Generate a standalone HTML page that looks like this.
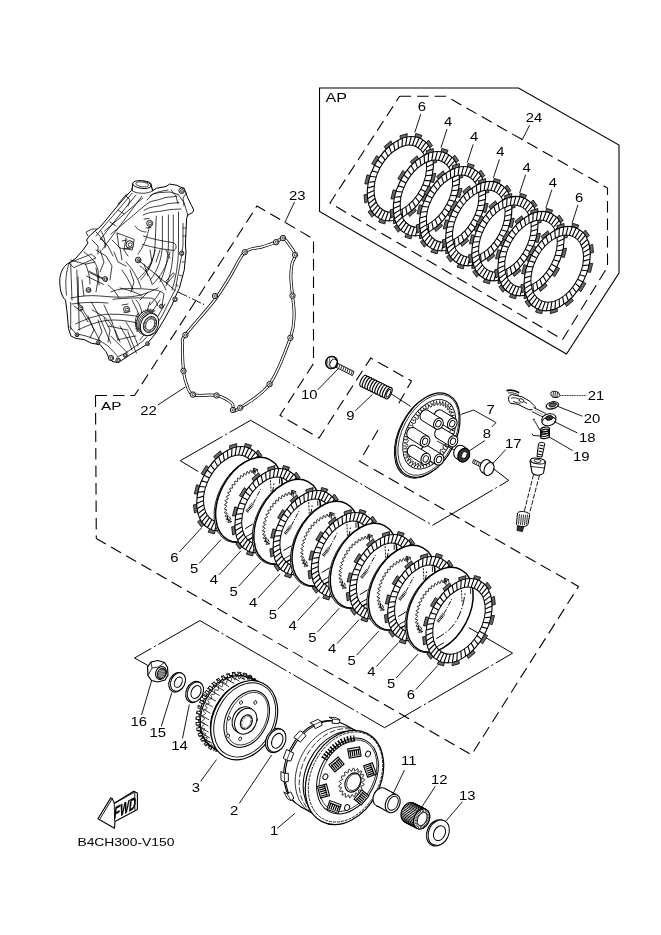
<!DOCTYPE html>
<html><head><meta charset="utf-8"><style>
html,body{margin:0;padding:0;background:#fff;}
svg{display:block;filter:grayscale(100%);}
text{font-family:"Liberation Sans",sans-serif;fill:#000;}
</style></head><body>
<svg width="661" height="935" viewBox="0 0 661 935">
<rect width="661" height="935" fill="#fff"/>
<path d="M319.5,88 L518.5,88 L619,145 L619,273 L566.5,354 L319.5,211.5 Z" fill="none" stroke="#000" stroke-width="1.1" />
<path d="M399.6,96.3 L446,96.3 L607.5,188 L607.5,267 L562.6,339.5 L330,203 L399.6,96.3" fill="none" stroke="#000" stroke-width="1.1" stroke-dasharray="11.5 6"/>
<text transform="translate(325.4 101.5) scale(1.3 1)" font-size="12.4" font-weight="normal" text-anchor="start">AP</text>
<path d="M425.58,191.86 L428.95,193.61 L423.93,201.86 L420.99,199.44 Z M414.16,207.68 L416.40,210.80 L409.60,216.58 L408.03,213.04 Z M400.00,217.77 L400.65,221.63 L393.42,223.79 L393.53,219.83 Z M385.89,220.11 L384.84,223.96 L378.61,222.07 L380.38,218.48 Z M374.64,214.25 L372.09,217.32 L368.09,211.76 L371.17,209.25 Z M368.47,201.36 L364.93,203.04 L363.96,194.90 L367.73,193.97 Z M368.61,183.97 L364.77,183.93 L367.02,174.84 L370.74,175.66 Z M375.02,165.54 L371.65,163.79 L376.67,155.54 L379.61,157.96 Z M386.44,149.72 L384.20,146.60 L391.00,140.82 L392.57,144.36 Z M400.60,139.63 L399.95,135.77 L407.18,133.61 L407.07,137.57 Z M414.71,137.29 L415.76,133.44 L421.99,135.33 L420.22,138.92 Z M425.96,143.15 L428.51,140.08 L432.51,145.64 L429.43,148.15 Z M432.13,156.04 L435.67,154.36 L436.64,162.50 L432.87,163.43 Z M431.99,173.43 L435.83,173.47 L433.58,182.56 L429.86,181.74 Z" fill="#6a6a6a" stroke="#000" stroke-width="0.8" stroke-linejoin="round"/>
<path d="M426.02,192.09 L424.11,195.52 L422.02,198.82 L419.77,201.97 L417.37,204.94 L414.83,207.71 L412.19,210.25 L409.45,212.56 L406.65,214.62 L403.80,216.39 L400.92,217.88 L398.03,219.08 L395.17,219.96 L392.34,220.53 L389.57,220.79 L386.89,220.72 L384.30,220.33 L381.84,219.63 L379.52,218.62 L377.36,217.30 L375.37,215.68 L373.57,213.79 L371.98,211.63 L370.60,209.22 L369.44,206.57 L368.52,203.72 L367.85,200.67 L367.42,197.46 L367.24,194.10 L367.31,190.63 L367.63,187.06 L368.21,183.43 L369.02,179.77 L370.08,176.10 L371.36,172.44 L372.86,168.84 L374.58,165.31 L376.49,161.88 L378.58,158.58 L380.83,155.43 L383.23,152.46 L385.77,149.69 L388.41,147.15 L391.15,144.84 L393.95,142.78 L396.80,141.01 L399.68,139.52 L402.57,138.32 L405.43,137.44 L408.26,136.87 L411.03,136.61 L413.71,136.68 L416.30,137.07 L418.76,137.77 L421.08,138.78 L423.24,140.10 L425.23,141.72 L427.03,143.61 L428.62,145.77 L430.00,148.18 L431.16,150.83 L432.08,153.68 L432.75,156.73 L433.18,159.94 L433.36,163.30 L433.29,166.77 L432.97,170.34 L432.39,173.97 L431.58,177.63 L430.52,181.30 L429.24,184.96 L427.74,188.56 Z M420.70,189.32 L419.18,192.05 L417.52,194.67 L415.73,197.18 L413.82,199.54 L411.80,201.75 L409.70,203.77 L407.53,205.61 L405.30,207.25 L403.04,208.66 L400.75,209.85 L398.46,210.80 L396.18,211.51 L393.94,211.97 L391.74,212.17 L389.61,212.12 L387.56,211.82 L385.61,211.26 L383.77,210.45 L382.05,209.41 L380.48,208.13 L379.05,206.62 L377.79,204.91 L376.70,202.99 L375.78,200.89 L375.06,198.62 L374.52,196.20 L374.19,193.64 L374.05,190.98 L374.11,188.21 L374.37,185.38 L374.82,182.50 L375.48,179.58 L376.32,176.66 L377.34,173.76 L378.54,170.89 L379.90,168.08 L381.42,165.35 L383.08,162.73 L384.87,160.22 L386.78,157.86 L388.80,155.65 L390.90,153.63 L393.07,151.79 L395.30,150.15 L397.56,148.74 L399.85,147.55 L402.14,146.60 L404.42,145.89 L406.66,145.43 L408.86,145.23 L410.99,145.28 L413.04,145.58 L414.99,146.14 L416.83,146.95 L418.55,147.99 L420.12,149.27 L421.55,150.78 L422.81,152.49 L423.90,154.41 L424.82,156.51 L425.54,158.78 L426.08,161.20 L426.41,163.76 L426.55,166.42 L426.49,169.19 L426.23,172.02 L425.78,174.90 L425.12,177.82 L424.28,180.74 L423.26,183.64 L422.06,186.51 Z" fill="#fff" fill-rule="evenodd" stroke="none"/>
<path d="M420.70,189.32 L426.02,192.09 M418.26,193.55 L422.95,197.40 M415.48,197.49 L419.46,202.36 M412.43,201.09 L415.62,206.88 M409.14,204.27 L411.48,210.88 M405.69,206.98 L407.14,214.28 M402.14,209.16 L402.67,217.01 M398.56,210.77 L398.16,219.03 M395.01,211.78 L393.69,220.30 M391.56,212.18 L389.34,220.80 M388.27,211.95 L385.19,220.51 M385.20,211.11 L381.33,219.44 M382.42,209.66 L377.81,217.61 M379.96,207.63 L374.72,215.06 M377.89,205.06 L372.11,211.83 M376.24,202.01 L370.02,207.98 M375.03,198.52 L368.49,203.59 M374.29,194.66 L367.56,198.73 M374.04,190.50 L367.23,193.50 M374.28,186.13 L367.53,188.00 M375.00,181.61 L368.43,182.32 M376.20,177.04 L369.92,176.57 M377.84,172.50 L371.99,170.87 M379.90,168.08 L374.58,165.31 M382.34,163.85 L377.65,160.00 M385.12,159.91 L381.14,155.04 M388.17,156.31 L384.98,150.52 M391.46,153.13 L389.12,146.52 M394.91,150.42 L393.46,143.12 M398.46,148.24 L397.93,140.39 M402.04,146.63 L402.44,138.37 M405.59,145.62 L406.91,137.10 M409.04,145.22 L411.26,136.60 M412.33,145.45 L415.41,136.89 M415.40,146.29 L419.27,137.96 M418.18,147.74 L422.79,139.79 M420.64,149.77 L425.88,142.34 M422.71,152.34 L428.49,145.57 M424.36,155.39 L430.58,149.42 M425.57,158.88 L432.11,153.81 M426.31,162.74 L433.04,158.67 M426.56,166.90 L433.37,163.90 M426.32,171.27 L433.07,169.40 M425.60,175.79 L432.17,175.08 M424.40,180.36 L430.68,180.83 M422.76,184.90 L428.61,186.53" stroke="#000" stroke-width="1.1" fill="none"/>
<ellipse cx="400.3" cy="178.7" rx="29.0" ry="45.0" transform="rotate(27.5 400.3 178.7)" fill="none" stroke="#000" stroke-width="1.1"/>
<ellipse cx="400.3" cy="178.7" rx="23.0" ry="35.8" transform="rotate(27.5 400.3 178.7)" fill="none" stroke="#000" stroke-width="1.0"/>
<path d="M451.73,206.84 L455.10,208.59 L450.08,216.84 L447.14,214.42 Z M440.31,222.66 L442.55,225.78 L435.75,231.56 L434.18,228.02 Z M426.15,232.75 L426.80,236.61 L419.57,238.77 L419.68,234.81 Z M412.04,235.09 L410.99,238.94 L404.76,237.05 L406.53,233.46 Z M400.79,229.23 L398.24,232.30 L394.24,226.74 L397.32,224.23 Z M394.62,216.34 L391.08,218.02 L390.11,209.88 L393.88,208.95 Z M394.76,198.95 L390.92,198.91 L393.17,189.82 L396.89,190.64 Z M401.17,180.52 L397.80,178.77 L402.82,170.52 L405.76,172.94 Z M412.59,164.70 L410.35,161.58 L417.15,155.80 L418.72,159.34 Z M426.75,154.61 L426.10,150.75 L433.33,148.59 L433.22,152.55 Z M440.86,152.27 L441.91,148.42 L448.14,150.31 L446.37,153.90 Z M452.11,158.13 L454.66,155.06 L458.66,160.62 L455.58,163.13 Z M458.28,171.02 L461.82,169.34 L462.79,177.48 L459.02,178.41 Z M458.14,188.41 L461.98,188.45 L459.73,197.54 L456.01,196.72 Z" fill="#6a6a6a" stroke="#000" stroke-width="0.8" stroke-linejoin="round"/>
<path d="M452.17,207.07 L450.26,210.50 L448.17,213.80 L445.92,216.95 L443.52,219.92 L440.98,222.69 L438.34,225.23 L435.60,227.54 L432.80,229.60 L429.95,231.37 L427.07,232.86 L424.18,234.06 L421.32,234.94 L418.49,235.51 L415.72,235.77 L413.04,235.70 L410.45,235.31 L407.99,234.61 L405.67,233.60 L403.51,232.28 L401.52,230.66 L399.72,228.77 L398.13,226.61 L396.75,224.20 L395.59,221.55 L394.67,218.70 L394.00,215.65 L393.57,212.44 L393.39,209.08 L393.46,205.61 L393.78,202.04 L394.36,198.41 L395.17,194.75 L396.23,191.08 L397.51,187.42 L399.01,183.82 L400.73,180.29 L402.64,176.86 L404.73,173.56 L406.98,170.41 L409.38,167.44 L411.92,164.67 L414.56,162.13 L417.30,159.82 L420.10,157.76 L422.95,155.99 L425.83,154.50 L428.72,153.30 L431.58,152.42 L434.41,151.85 L437.18,151.59 L439.86,151.66 L442.45,152.05 L444.91,152.75 L447.23,153.76 L449.39,155.08 L451.38,156.70 L453.18,158.59 L454.77,160.75 L456.15,163.16 L457.31,165.81 L458.23,168.66 L458.90,171.71 L459.33,174.92 L459.51,178.28 L459.44,181.75 L459.12,185.32 L458.54,188.95 L457.73,192.61 L456.67,196.28 L455.39,199.94 L453.89,203.54 Z M446.85,204.30 L445.33,207.03 L443.67,209.65 L441.88,212.16 L439.97,214.52 L437.95,216.73 L435.85,218.75 L433.68,220.59 L431.45,222.23 L429.19,223.64 L426.90,224.83 L424.61,225.78 L422.33,226.49 L420.09,226.95 L417.89,227.15 L415.76,227.10 L413.71,226.80 L411.76,226.24 L409.92,225.43 L408.20,224.39 L406.63,223.11 L405.20,221.60 L403.94,219.89 L402.85,217.97 L401.93,215.87 L401.21,213.60 L400.67,211.18 L400.34,208.62 L400.20,205.96 L400.26,203.19 L400.52,200.36 L400.97,197.48 L401.63,194.56 L402.47,191.64 L403.49,188.74 L404.69,185.87 L406.05,183.06 L407.57,180.33 L409.23,177.71 L411.02,175.20 L412.93,172.84 L414.95,170.63 L417.05,168.61 L419.22,166.77 L421.45,165.13 L423.71,163.72 L426.00,162.53 L428.29,161.58 L430.57,160.87 L432.81,160.41 L435.01,160.21 L437.14,160.26 L439.19,160.56 L441.14,161.12 L442.98,161.93 L444.70,162.97 L446.27,164.25 L447.70,165.76 L448.96,167.47 L450.05,169.39 L450.97,171.49 L451.69,173.76 L452.23,176.18 L452.56,178.74 L452.70,181.40 L452.64,184.17 L452.38,187.00 L451.93,189.88 L451.27,192.80 L450.43,195.72 L449.41,198.62 L448.21,201.49 Z" fill="#fff" fill-rule="evenodd" stroke="none"/>
<path d="M446.85,204.30 L452.17,207.07 M444.41,208.53 L449.10,212.38 M441.63,212.47 L445.61,217.34 M438.58,216.07 L441.77,221.86 M435.29,219.25 L437.63,225.86 M431.84,221.96 L433.29,229.26 M428.29,224.14 L428.82,231.99 M424.71,225.75 L424.31,234.01 M421.16,226.76 L419.84,235.28 M417.71,227.16 L415.49,235.78 M414.42,226.93 L411.34,235.49 M411.35,226.09 L407.48,234.42 M408.57,224.64 L403.96,232.59 M406.11,222.61 L400.87,230.04 M404.04,220.04 L398.26,226.81 M402.39,216.99 L396.17,222.96 M401.18,213.50 L394.64,218.57 M400.44,209.64 L393.71,213.71 M400.19,205.48 L393.38,208.48 M400.43,201.11 L393.68,202.98 M401.15,196.59 L394.58,197.30 M402.35,192.02 L396.07,191.55 M403.99,187.48 L398.14,185.85 M406.05,183.06 L400.73,180.29 M408.49,178.83 L403.80,174.98 M411.27,174.89 L407.29,170.02 M414.32,171.29 L411.13,165.50 M417.61,168.11 L415.27,161.50 M421.06,165.40 L419.61,158.10 M424.61,163.22 L424.08,155.37 M428.19,161.61 L428.59,153.35 M431.74,160.60 L433.06,152.08 M435.19,160.20 L437.41,151.58 M438.48,160.43 L441.56,151.87 M441.55,161.27 L445.42,152.94 M444.33,162.72 L448.94,154.77 M446.79,164.75 L452.03,157.32 M448.86,167.32 L454.64,160.55 M450.51,170.37 L456.73,164.40 M451.72,173.86 L458.26,168.79 M452.46,177.72 L459.19,173.65 M452.71,181.88 L459.52,178.88 M452.47,186.25 L459.22,184.38 M451.75,190.77 L458.32,190.06 M450.55,195.34 L456.83,195.81 M448.91,199.88 L454.76,201.51" stroke="#000" stroke-width="1.1" fill="none"/>
<ellipse cx="426.4" cy="193.7" rx="29.0" ry="45.0" transform="rotate(27.5 426.4 193.7)" fill="none" stroke="#000" stroke-width="1.1"/>
<ellipse cx="426.4" cy="193.7" rx="23.0" ry="35.8" transform="rotate(27.5 426.4 193.7)" fill="none" stroke="#000" stroke-width="1.0"/>
<path d="M477.88,221.82 L481.25,223.57 L476.23,231.82 L473.29,229.40 Z M466.46,237.64 L468.70,240.76 L461.90,246.54 L460.33,243.00 Z M452.30,247.73 L452.95,251.59 L445.72,253.75 L445.83,249.79 Z M438.19,250.07 L437.14,253.92 L430.91,252.03 L432.68,248.44 Z M426.94,244.21 L424.39,247.28 L420.39,241.72 L423.47,239.21 Z M420.77,231.32 L417.23,233.00 L416.26,224.86 L420.03,223.93 Z M420.91,213.93 L417.07,213.89 L419.32,204.80 L423.04,205.62 Z M427.32,195.50 L423.95,193.75 L428.97,185.50 L431.91,187.92 Z M438.74,179.68 L436.50,176.56 L443.30,170.78 L444.87,174.32 Z M452.90,169.59 L452.25,165.73 L459.48,163.57 L459.37,167.53 Z M467.01,167.25 L468.06,163.40 L474.29,165.29 L472.52,168.88 Z M478.26,173.11 L480.81,170.04 L484.81,175.60 L481.73,178.11 Z M484.43,186.00 L487.97,184.32 L488.94,192.46 L485.17,193.39 Z M484.29,203.39 L488.13,203.43 L485.88,212.52 L482.16,211.70 Z" fill="#6a6a6a" stroke="#000" stroke-width="0.8" stroke-linejoin="round"/>
<path d="M478.32,222.05 L476.41,225.48 L474.32,228.78 L472.07,231.93 L469.67,234.90 L467.13,237.67 L464.49,240.21 L461.75,242.52 L458.95,244.58 L456.10,246.35 L453.22,247.84 L450.33,249.04 L447.47,249.92 L444.64,250.49 L441.87,250.75 L439.19,250.68 L436.60,250.29 L434.14,249.59 L431.82,248.58 L429.66,247.26 L427.67,245.64 L425.87,243.75 L424.28,241.59 L422.90,239.18 L421.74,236.53 L420.82,233.68 L420.15,230.63 L419.72,227.42 L419.54,224.06 L419.61,220.59 L419.93,217.02 L420.51,213.39 L421.32,209.73 L422.38,206.06 L423.66,202.40 L425.16,198.80 L426.88,195.27 L428.79,191.84 L430.88,188.54 L433.13,185.39 L435.53,182.42 L438.07,179.65 L440.71,177.11 L443.45,174.80 L446.25,172.74 L449.10,170.97 L451.98,169.48 L454.87,168.28 L457.73,167.40 L460.56,166.83 L463.33,166.57 L466.01,166.64 L468.60,167.03 L471.06,167.73 L473.38,168.74 L475.54,170.06 L477.53,171.68 L479.33,173.57 L480.92,175.73 L482.30,178.14 L483.46,180.79 L484.38,183.64 L485.05,186.69 L485.48,189.90 L485.66,193.26 L485.59,196.73 L485.27,200.30 L484.69,203.93 L483.88,207.59 L482.82,211.26 L481.54,214.92 L480.04,218.52 Z M473.00,219.28 L471.48,222.01 L469.82,224.63 L468.03,227.14 L466.12,229.50 L464.10,231.71 L462.00,233.73 L459.83,235.57 L457.60,237.21 L455.34,238.62 L453.05,239.81 L450.76,240.76 L448.48,241.47 L446.24,241.93 L444.04,242.13 L441.91,242.08 L439.86,241.78 L437.91,241.22 L436.07,240.41 L434.35,239.37 L432.78,238.09 L431.35,236.58 L430.09,234.87 L429.00,232.95 L428.08,230.85 L427.36,228.58 L426.82,226.16 L426.49,223.60 L426.35,220.94 L426.41,218.17 L426.67,215.34 L427.12,212.46 L427.78,209.54 L428.62,206.62 L429.64,203.72 L430.84,200.85 L432.20,198.04 L433.72,195.31 L435.38,192.69 L437.17,190.18 L439.08,187.82 L441.10,185.61 L443.20,183.59 L445.37,181.75 L447.60,180.11 L449.86,178.70 L452.15,177.51 L454.44,176.56 L456.72,175.85 L458.96,175.39 L461.16,175.19 L463.29,175.24 L465.34,175.54 L467.29,176.10 L469.13,176.91 L470.85,177.95 L472.42,179.23 L473.85,180.74 L475.11,182.45 L476.20,184.37 L477.12,186.47 L477.84,188.74 L478.38,191.16 L478.71,193.72 L478.85,196.38 L478.79,199.15 L478.53,201.98 L478.08,204.86 L477.42,207.78 L476.58,210.70 L475.56,213.60 L474.36,216.47 Z" fill="#fff" fill-rule="evenodd" stroke="none"/>
<path d="M473.00,219.28 L478.32,222.05 M470.56,223.51 L475.25,227.36 M467.78,227.45 L471.76,232.32 M464.73,231.05 L467.92,236.84 M461.44,234.23 L463.78,240.84 M457.99,236.94 L459.44,244.24 M454.44,239.12 L454.97,246.97 M450.86,240.73 L450.46,248.99 M447.31,241.74 L445.99,250.26 M443.86,242.14 L441.64,250.76 M440.57,241.91 L437.49,250.47 M437.50,241.07 L433.63,249.40 M434.72,239.62 L430.11,247.57 M432.26,237.59 L427.02,245.02 M430.19,235.02 L424.41,241.79 M428.54,231.97 L422.32,237.94 M427.33,228.48 L420.79,233.55 M426.59,224.62 L419.86,228.69 M426.34,220.46 L419.53,223.46 M426.58,216.09 L419.83,217.96 M427.30,211.57 L420.73,212.28 M428.50,207.00 L422.22,206.53 M430.14,202.46 L424.29,200.83 M432.20,198.04 L426.88,195.27 M434.64,193.81 L429.95,189.96 M437.42,189.87 L433.44,185.00 M440.47,186.27 L437.28,180.48 M443.76,183.09 L441.42,176.48 M447.21,180.38 L445.76,173.08 M450.76,178.20 L450.23,170.35 M454.34,176.59 L454.74,168.33 M457.89,175.58 L459.21,167.06 M461.34,175.18 L463.56,166.56 M464.63,175.41 L467.71,166.85 M467.70,176.25 L471.57,167.92 M470.48,177.70 L475.09,169.75 M472.94,179.73 L478.18,172.30 M475.01,182.30 L480.79,175.53 M476.66,185.35 L482.88,179.38 M477.87,188.84 L484.41,183.77 M478.61,192.70 L485.34,188.63 M478.86,196.86 L485.67,193.86 M478.62,201.23 L485.37,199.36 M477.90,205.75 L484.47,205.04 M476.70,210.32 L482.98,210.79 M475.06,214.86 L480.91,216.49" stroke="#000" stroke-width="1.1" fill="none"/>
<ellipse cx="452.6" cy="208.7" rx="29.0" ry="45.0" transform="rotate(27.5 452.6 208.7)" fill="none" stroke="#000" stroke-width="1.1"/>
<ellipse cx="452.6" cy="208.7" rx="23.0" ry="35.8" transform="rotate(27.5 452.6 208.7)" fill="none" stroke="#000" stroke-width="1.0"/>
<path d="M504.03,236.80 L507.40,238.55 L502.38,246.80 L499.44,244.38 Z M492.61,252.62 L494.85,255.74 L488.05,261.52 L486.48,257.98 Z M478.45,262.71 L479.10,266.57 L471.87,268.73 L471.98,264.77 Z M464.34,265.05 L463.29,268.90 L457.06,267.01 L458.83,263.42 Z M453.09,259.19 L450.54,262.26 L446.54,256.70 L449.62,254.19 Z M446.92,246.30 L443.38,247.98 L442.41,239.84 L446.18,238.91 Z M447.06,228.91 L443.22,228.87 L445.47,219.78 L449.19,220.60 Z M453.47,210.48 L450.10,208.73 L455.12,200.48 L458.06,202.90 Z M464.89,194.66 L462.65,191.54 L469.45,185.76 L471.02,189.30 Z M479.05,184.57 L478.40,180.71 L485.63,178.55 L485.52,182.51 Z M493.16,182.23 L494.21,178.38 L500.44,180.27 L498.67,183.86 Z M504.41,188.09 L506.96,185.02 L510.96,190.58 L507.88,193.09 Z M510.58,200.98 L514.12,199.30 L515.09,207.44 L511.32,208.37 Z M510.44,218.37 L514.28,218.41 L512.03,227.50 L508.31,226.68 Z" fill="#6a6a6a" stroke="#000" stroke-width="0.8" stroke-linejoin="round"/>
<path d="M504.47,237.03 L502.56,240.46 L500.47,243.76 L498.22,246.91 L495.82,249.88 L493.28,252.65 L490.64,255.19 L487.90,257.50 L485.10,259.56 L482.25,261.33 L479.37,262.82 L476.48,264.02 L473.62,264.90 L470.79,265.47 L468.02,265.73 L465.34,265.66 L462.75,265.27 L460.29,264.57 L457.97,263.56 L455.81,262.24 L453.82,260.62 L452.02,258.73 L450.43,256.57 L449.05,254.16 L447.89,251.51 L446.97,248.66 L446.30,245.61 L445.87,242.40 L445.69,239.04 L445.76,235.57 L446.08,232.00 L446.66,228.37 L447.47,224.71 L448.53,221.04 L449.81,217.38 L451.31,213.78 L453.03,210.25 L454.94,206.82 L457.03,203.52 L459.28,200.37 L461.68,197.40 L464.22,194.63 L466.86,192.09 L469.60,189.78 L472.40,187.72 L475.25,185.95 L478.13,184.46 L481.02,183.26 L483.88,182.38 L486.71,181.81 L489.48,181.55 L492.16,181.62 L494.75,182.01 L497.21,182.71 L499.53,183.72 L501.69,185.04 L503.68,186.66 L505.48,188.55 L507.07,190.71 L508.45,193.12 L509.61,195.77 L510.53,198.62 L511.20,201.67 L511.63,204.88 L511.81,208.24 L511.74,211.71 L511.42,215.28 L510.84,218.91 L510.03,222.57 L508.97,226.24 L507.69,229.90 L506.19,233.50 Z M499.15,234.26 L497.63,236.99 L495.97,239.61 L494.18,242.12 L492.27,244.48 L490.25,246.69 L488.15,248.71 L485.98,250.55 L483.75,252.19 L481.49,253.60 L479.20,254.79 L476.91,255.74 L474.63,256.45 L472.39,256.91 L470.19,257.11 L468.06,257.06 L466.01,256.76 L464.06,256.20 L462.22,255.39 L460.50,254.35 L458.93,253.07 L457.50,251.56 L456.24,249.85 L455.15,247.93 L454.23,245.83 L453.51,243.56 L452.97,241.14 L452.64,238.58 L452.50,235.92 L452.56,233.15 L452.82,230.32 L453.27,227.44 L453.93,224.52 L454.77,221.60 L455.79,218.70 L456.99,215.83 L458.35,213.02 L459.87,210.29 L461.53,207.67 L463.32,205.16 L465.23,202.80 L467.25,200.59 L469.35,198.57 L471.52,196.73 L473.75,195.09 L476.01,193.68 L478.30,192.49 L480.59,191.54 L482.87,190.83 L485.11,190.37 L487.31,190.17 L489.44,190.22 L491.49,190.52 L493.44,191.08 L495.28,191.89 L497.00,192.93 L498.57,194.21 L500.00,195.72 L501.26,197.43 L502.35,199.35 L503.27,201.45 L503.99,203.72 L504.53,206.14 L504.86,208.70 L505.00,211.36 L504.94,214.13 L504.68,216.96 L504.23,219.84 L503.57,222.76 L502.73,225.68 L501.71,228.58 L500.51,231.45 Z" fill="#fff" fill-rule="evenodd" stroke="none"/>
<path d="M499.15,234.26 L504.47,237.03 M496.71,238.49 L501.40,242.34 M493.93,242.43 L497.91,247.30 M490.88,246.03 L494.07,251.82 M487.59,249.21 L489.93,255.82 M484.14,251.92 L485.59,259.22 M480.59,254.10 L481.12,261.95 M477.01,255.71 L476.61,263.97 M473.46,256.72 L472.14,265.24 M470.01,257.12 L467.79,265.74 M466.72,256.89 L463.64,265.45 M463.65,256.05 L459.78,264.38 M460.87,254.60 L456.26,262.55 M458.41,252.57 L453.17,260.00 M456.34,250.00 L450.56,256.77 M454.69,246.95 L448.47,252.92 M453.48,243.46 L446.94,248.53 M452.74,239.60 L446.01,243.67 M452.49,235.44 L445.68,238.44 M452.73,231.07 L445.98,232.94 M453.45,226.55 L446.88,227.26 M454.65,221.98 L448.37,221.51 M456.29,217.44 L450.44,215.81 M458.35,213.02 L453.03,210.25 M460.79,208.79 L456.10,204.94 M463.57,204.85 L459.59,199.98 M466.62,201.25 L463.43,195.46 M469.91,198.07 L467.57,191.46 M473.36,195.36 L471.91,188.06 M476.91,193.18 L476.38,185.33 M480.49,191.57 L480.89,183.31 M484.04,190.56 L485.36,182.04 M487.49,190.16 L489.71,181.54 M490.78,190.39 L493.86,181.83 M493.85,191.23 L497.72,182.90 M496.63,192.68 L501.24,184.73 M499.09,194.71 L504.33,187.28 M501.16,197.28 L506.94,190.51 M502.81,200.33 L509.03,194.36 M504.02,203.82 L510.56,198.75 M504.76,207.68 L511.49,203.61 M505.01,211.84 L511.82,208.84 M504.77,216.21 L511.52,214.34 M504.05,220.73 L510.62,220.02 M502.85,225.30 L509.13,225.77 M501.21,229.84 L507.06,231.47" stroke="#000" stroke-width="1.1" fill="none"/>
<ellipse cx="478.8" cy="223.6" rx="29.0" ry="45.0" transform="rotate(27.5 478.8 223.6)" fill="none" stroke="#000" stroke-width="1.1"/>
<ellipse cx="478.8" cy="223.6" rx="23.0" ry="35.8" transform="rotate(27.5 478.8 223.6)" fill="none" stroke="#000" stroke-width="1.0"/>
<path d="M530.18,251.78 L533.55,253.53 L528.53,261.78 L525.59,259.36 Z M518.76,267.60 L521.00,270.72 L514.20,276.50 L512.63,272.96 Z M504.60,277.69 L505.25,281.55 L498.02,283.71 L498.13,279.75 Z M490.49,280.03 L489.44,283.88 L483.21,281.99 L484.98,278.40 Z M479.24,274.17 L476.69,277.24 L472.69,271.68 L475.77,269.17 Z M473.07,261.28 L469.53,262.96 L468.56,254.82 L472.33,253.89 Z M473.21,243.89 L469.37,243.85 L471.62,234.76 L475.34,235.58 Z M479.62,225.46 L476.25,223.71 L481.27,215.46 L484.21,217.88 Z M491.04,209.64 L488.80,206.52 L495.60,200.74 L497.17,204.28 Z M505.20,199.55 L504.55,195.69 L511.78,193.53 L511.67,197.49 Z M519.31,197.21 L520.36,193.36 L526.59,195.25 L524.82,198.84 Z M530.56,203.07 L533.11,200.00 L537.11,205.56 L534.03,208.07 Z M536.73,215.96 L540.27,214.28 L541.24,222.42 L537.47,223.35 Z M536.59,233.35 L540.43,233.39 L538.18,242.48 L534.46,241.66 Z" fill="#6a6a6a" stroke="#000" stroke-width="0.8" stroke-linejoin="round"/>
<path d="M530.62,252.01 L528.71,255.44 L526.62,258.74 L524.37,261.89 L521.97,264.86 L519.43,267.63 L516.79,270.17 L514.05,272.48 L511.25,274.54 L508.40,276.31 L505.52,277.80 L502.63,279.00 L499.77,279.88 L496.94,280.45 L494.17,280.71 L491.49,280.64 L488.90,280.25 L486.44,279.55 L484.12,278.54 L481.96,277.22 L479.97,275.60 L478.17,273.71 L476.58,271.55 L475.20,269.14 L474.04,266.49 L473.12,263.64 L472.45,260.59 L472.02,257.38 L471.84,254.02 L471.91,250.55 L472.23,246.98 L472.81,243.35 L473.62,239.69 L474.68,236.02 L475.96,232.36 L477.46,228.76 L479.18,225.23 L481.09,221.80 L483.18,218.50 L485.43,215.35 L487.83,212.38 L490.37,209.61 L493.01,207.07 L495.75,204.76 L498.55,202.70 L501.40,200.93 L504.28,199.44 L507.17,198.24 L510.03,197.36 L512.86,196.79 L515.63,196.53 L518.31,196.60 L520.90,196.99 L523.36,197.69 L525.68,198.70 L527.84,200.02 L529.83,201.64 L531.63,203.53 L533.22,205.69 L534.60,208.10 L535.76,210.75 L536.68,213.60 L537.35,216.65 L537.78,219.86 L537.96,223.22 L537.89,226.69 L537.57,230.26 L536.99,233.89 L536.18,237.55 L535.12,241.22 L533.84,244.88 L532.34,248.48 Z M525.30,249.24 L523.78,251.97 L522.12,254.59 L520.33,257.10 L518.42,259.46 L516.40,261.67 L514.30,263.69 L512.13,265.53 L509.90,267.17 L507.64,268.58 L505.35,269.77 L503.06,270.72 L500.78,271.43 L498.54,271.89 L496.34,272.09 L494.21,272.04 L492.16,271.74 L490.21,271.18 L488.37,270.37 L486.65,269.33 L485.08,268.05 L483.65,266.54 L482.39,264.83 L481.30,262.91 L480.38,260.81 L479.66,258.54 L479.12,256.12 L478.79,253.56 L478.65,250.90 L478.71,248.13 L478.97,245.30 L479.42,242.42 L480.08,239.50 L480.92,236.58 L481.94,233.68 L483.14,230.81 L484.50,228.00 L486.02,225.27 L487.68,222.65 L489.47,220.14 L491.38,217.78 L493.40,215.57 L495.50,213.55 L497.67,211.71 L499.90,210.07 L502.16,208.66 L504.45,207.47 L506.74,206.52 L509.02,205.81 L511.26,205.35 L513.46,205.15 L515.59,205.20 L517.64,205.50 L519.59,206.06 L521.43,206.87 L523.15,207.91 L524.72,209.19 L526.15,210.70 L527.41,212.41 L528.50,214.33 L529.42,216.43 L530.14,218.70 L530.68,221.12 L531.01,223.68 L531.15,226.34 L531.09,229.11 L530.83,231.94 L530.38,234.82 L529.72,237.74 L528.88,240.66 L527.86,243.56 L526.66,246.43 Z" fill="#fff" fill-rule="evenodd" stroke="none"/>
<path d="M525.30,249.24 L530.62,252.01 M522.86,253.47 L527.55,257.32 M520.08,257.41 L524.06,262.28 M517.03,261.01 L520.22,266.80 M513.74,264.19 L516.08,270.80 M510.29,266.90 L511.74,274.20 M506.74,269.08 L507.27,276.93 M503.16,270.69 L502.76,278.95 M499.61,271.70 L498.29,280.22 M496.16,272.10 L493.94,280.72 M492.87,271.87 L489.79,280.43 M489.80,271.03 L485.93,279.36 M487.02,269.58 L482.41,277.53 M484.56,267.55 L479.32,274.98 M482.49,264.98 L476.71,271.75 M480.84,261.93 L474.62,267.90 M479.63,258.44 L473.09,263.51 M478.89,254.58 L472.16,258.65 M478.64,250.42 L471.83,253.42 M478.88,246.05 L472.13,247.92 M479.60,241.53 L473.03,242.24 M480.80,236.96 L474.52,236.49 M482.44,232.42 L476.59,230.79 M484.50,228.00 L479.18,225.23 M486.94,223.77 L482.25,219.92 M489.72,219.83 L485.74,214.96 M492.77,216.23 L489.58,210.44 M496.06,213.05 L493.72,206.44 M499.51,210.34 L498.06,203.04 M503.06,208.16 L502.53,200.31 M506.64,206.55 L507.04,198.29 M510.19,205.54 L511.51,197.02 M513.64,205.14 L515.86,196.52 M516.93,205.37 L520.01,196.81 M520.00,206.21 L523.87,197.88 M522.78,207.66 L527.39,199.71 M525.24,209.69 L530.48,202.26 M527.31,212.26 L533.09,205.49 M528.96,215.31 L535.18,209.34 M530.17,218.80 L536.71,213.73 M530.91,222.66 L537.64,218.59 M531.16,226.82 L537.97,223.82 M530.92,231.19 L537.67,229.32 M530.20,235.71 L536.77,235.00 M529.00,240.28 L535.28,240.75 M527.36,244.82 L533.21,246.45" stroke="#000" stroke-width="1.1" fill="none"/>
<ellipse cx="504.9" cy="238.6" rx="29.0" ry="45.0" transform="rotate(27.5 504.9 238.6)" fill="none" stroke="#000" stroke-width="1.1"/>
<ellipse cx="504.9" cy="238.6" rx="23.0" ry="35.8" transform="rotate(27.5 504.9 238.6)" fill="none" stroke="#000" stroke-width="1.0"/>
<path d="M556.33,266.76 L559.70,268.51 L554.68,276.76 L551.74,274.34 Z M544.91,282.58 L547.15,285.70 L540.35,291.48 L538.78,287.94 Z M530.75,292.67 L531.40,296.53 L524.17,298.69 L524.28,294.73 Z M516.64,295.01 L515.59,298.86 L509.36,296.97 L511.13,293.38 Z M505.39,289.15 L502.84,292.22 L498.84,286.66 L501.92,284.15 Z M499.22,276.26 L495.68,277.94 L494.71,269.80 L498.48,268.87 Z M499.36,258.87 L495.52,258.83 L497.77,249.74 L501.49,250.56 Z M505.77,240.44 L502.40,238.69 L507.42,230.44 L510.36,232.86 Z M517.19,224.62 L514.95,221.50 L521.75,215.72 L523.32,219.26 Z M531.35,214.53 L530.70,210.67 L537.93,208.51 L537.82,212.47 Z M545.46,212.19 L546.51,208.34 L552.74,210.23 L550.97,213.82 Z M556.71,218.05 L559.26,214.98 L563.26,220.54 L560.18,223.05 Z M562.88,230.94 L566.42,229.26 L567.39,237.40 L563.62,238.33 Z M562.74,248.33 L566.58,248.37 L564.33,257.46 L560.61,256.64 Z" fill="#6a6a6a" stroke="#000" stroke-width="0.8" stroke-linejoin="round"/>
<path d="M556.77,266.99 L554.86,270.42 L552.77,273.72 L550.52,276.87 L548.12,279.84 L545.58,282.61 L542.94,285.15 L540.20,287.46 L537.40,289.52 L534.55,291.29 L531.67,292.78 L528.78,293.98 L525.92,294.86 L523.09,295.43 L520.32,295.69 L517.64,295.62 L515.05,295.23 L512.59,294.53 L510.27,293.52 L508.11,292.20 L506.12,290.58 L504.32,288.69 L502.73,286.53 L501.35,284.12 L500.19,281.47 L499.27,278.62 L498.60,275.57 L498.17,272.36 L497.99,269.00 L498.06,265.53 L498.38,261.96 L498.96,258.33 L499.77,254.67 L500.83,251.00 L502.11,247.34 L503.61,243.74 L505.33,240.21 L507.24,236.78 L509.33,233.48 L511.58,230.33 L513.98,227.36 L516.52,224.59 L519.16,222.05 L521.90,219.74 L524.70,217.68 L527.55,215.91 L530.43,214.42 L533.32,213.22 L536.18,212.34 L539.01,211.77 L541.78,211.51 L544.46,211.58 L547.05,211.97 L549.51,212.67 L551.83,213.68 L553.99,215.00 L555.98,216.62 L557.78,218.51 L559.37,220.67 L560.75,223.08 L561.91,225.73 L562.83,228.58 L563.50,231.63 L563.93,234.84 L564.11,238.20 L564.04,241.67 L563.72,245.24 L563.14,248.87 L562.33,252.53 L561.27,256.20 L559.99,259.86 L558.49,263.46 Z M551.45,264.22 L549.93,266.95 L548.27,269.57 L546.48,272.08 L544.57,274.44 L542.55,276.65 L540.45,278.67 L538.28,280.51 L536.05,282.15 L533.79,283.56 L531.50,284.75 L529.21,285.70 L526.93,286.41 L524.69,286.87 L522.49,287.07 L520.36,287.02 L518.31,286.72 L516.36,286.16 L514.52,285.35 L512.80,284.31 L511.23,283.03 L509.80,281.52 L508.54,279.81 L507.45,277.89 L506.53,275.79 L505.81,273.52 L505.27,271.10 L504.94,268.54 L504.80,265.88 L504.86,263.11 L505.12,260.28 L505.57,257.40 L506.23,254.48 L507.07,251.56 L508.09,248.66 L509.29,245.79 L510.65,242.98 L512.17,240.25 L513.83,237.63 L515.62,235.12 L517.53,232.76 L519.55,230.55 L521.65,228.53 L523.82,226.69 L526.05,225.05 L528.31,223.64 L530.60,222.45 L532.89,221.50 L535.17,220.79 L537.41,220.33 L539.61,220.13 L541.74,220.18 L543.79,220.48 L545.74,221.04 L547.58,221.85 L549.30,222.89 L550.87,224.17 L552.30,225.68 L553.56,227.39 L554.65,229.31 L555.57,231.41 L556.29,233.68 L556.83,236.10 L557.16,238.66 L557.30,241.32 L557.24,244.09 L556.98,246.92 L556.53,249.80 L555.87,252.72 L555.03,255.64 L554.01,258.54 L552.81,261.41 Z" fill="#fff" fill-rule="evenodd" stroke="none"/>
<path d="M551.45,264.22 L556.77,266.99 M549.01,268.45 L553.70,272.30 M546.23,272.39 L550.21,277.26 M543.18,275.99 L546.37,281.78 M539.89,279.17 L542.23,285.78 M536.44,281.88 L537.89,289.18 M532.89,284.06 L533.42,291.91 M529.31,285.67 L528.91,293.93 M525.76,286.68 L524.44,295.20 M522.31,287.08 L520.09,295.70 M519.02,286.85 L515.94,295.41 M515.95,286.01 L512.08,294.34 M513.17,284.56 L508.56,292.51 M510.71,282.53 L505.47,289.96 M508.64,279.96 L502.86,286.73 M506.99,276.91 L500.77,282.88 M505.78,273.42 L499.24,278.49 M505.04,269.56 L498.31,273.63 M504.79,265.40 L497.98,268.40 M505.03,261.03 L498.28,262.90 M505.75,256.51 L499.18,257.22 M506.95,251.94 L500.67,251.47 M508.59,247.40 L502.74,245.77 M510.65,242.98 L505.33,240.21 M513.09,238.75 L508.40,234.90 M515.87,234.81 L511.89,229.94 M518.92,231.21 L515.73,225.42 M522.21,228.03 L519.87,221.42 M525.66,225.32 L524.21,218.02 M529.21,223.14 L528.68,215.29 M532.79,221.53 L533.19,213.27 M536.34,220.52 L537.66,212.00 M539.79,220.12 L542.01,211.50 M543.08,220.35 L546.16,211.79 M546.15,221.19 L550.02,212.86 M548.93,222.64 L553.54,214.69 M551.39,224.67 L556.63,217.24 M553.46,227.24 L559.24,220.47 M555.11,230.29 L561.33,224.32 M556.32,233.78 L562.86,228.71 M557.06,237.64 L563.79,233.57 M557.31,241.80 L564.12,238.80 M557.07,246.17 L563.82,244.30 M556.35,250.69 L562.92,249.98 M555.15,255.26 L561.43,255.73 M553.51,259.80 L559.36,261.43" stroke="#000" stroke-width="1.1" fill="none"/>
<ellipse cx="531.0" cy="253.6" rx="29.0" ry="45.0" transform="rotate(27.5 531.0 253.6)" fill="none" stroke="#000" stroke-width="1.1"/>
<ellipse cx="531.0" cy="253.6" rx="23.0" ry="35.8" transform="rotate(27.5 531.0 253.6)" fill="none" stroke="#000" stroke-width="1.0"/>
<path d="M582.48,281.74 L585.85,283.49 L580.83,291.74 L577.89,289.32 Z M571.06,297.56 L573.30,300.68 L566.50,306.46 L564.93,302.92 Z M556.90,307.65 L557.55,311.51 L550.32,313.67 L550.43,309.71 Z M542.79,309.99 L541.74,313.84 L535.51,311.95 L537.28,308.36 Z M531.54,304.13 L528.99,307.20 L524.99,301.64 L528.07,299.13 Z M525.37,291.24 L521.83,292.92 L520.86,284.78 L524.63,283.85 Z M525.51,273.85 L521.67,273.81 L523.92,264.72 L527.64,265.54 Z M531.92,255.42 L528.55,253.67 L533.57,245.42 L536.51,247.84 Z M543.34,239.60 L541.10,236.48 L547.90,230.70 L549.47,234.24 Z M557.50,229.51 L556.85,225.65 L564.08,223.49 L563.97,227.45 Z M571.61,227.17 L572.66,223.32 L578.89,225.21 L577.12,228.80 Z M582.86,233.03 L585.41,229.96 L589.41,235.52 L586.33,238.03 Z M589.03,245.92 L592.57,244.24 L593.54,252.38 L589.77,253.31 Z M588.89,263.31 L592.73,263.35 L590.48,272.44 L586.76,271.62 Z" fill="#6a6a6a" stroke="#000" stroke-width="0.8" stroke-linejoin="round"/>
<path d="M582.92,281.97 L581.01,285.40 L578.92,288.70 L576.67,291.85 L574.27,294.82 L571.73,297.59 L569.09,300.13 L566.35,302.44 L563.55,304.50 L560.70,306.27 L557.82,307.76 L554.93,308.96 L552.07,309.84 L549.24,310.41 L546.47,310.67 L543.79,310.60 L541.20,310.21 L538.74,309.51 L536.42,308.50 L534.26,307.18 L532.27,305.56 L530.47,303.67 L528.88,301.51 L527.50,299.10 L526.34,296.45 L525.42,293.60 L524.75,290.55 L524.32,287.34 L524.14,283.98 L524.21,280.51 L524.53,276.94 L525.11,273.31 L525.92,269.65 L526.98,265.98 L528.26,262.32 L529.76,258.72 L531.48,255.19 L533.39,251.76 L535.48,248.46 L537.73,245.31 L540.13,242.34 L542.67,239.57 L545.31,237.03 L548.05,234.72 L550.85,232.66 L553.70,230.89 L556.58,229.40 L559.47,228.20 L562.33,227.32 L565.16,226.75 L567.93,226.49 L570.61,226.56 L573.20,226.95 L575.66,227.65 L577.98,228.66 L580.14,229.98 L582.13,231.60 L583.93,233.49 L585.52,235.65 L586.90,238.06 L588.06,240.71 L588.98,243.56 L589.65,246.61 L590.08,249.82 L590.26,253.18 L590.19,256.65 L589.87,260.22 L589.29,263.85 L588.48,267.51 L587.42,271.18 L586.14,274.84 L584.64,278.44 Z M577.60,279.20 L576.08,281.93 L574.42,284.55 L572.63,287.06 L570.72,289.42 L568.70,291.63 L566.60,293.65 L564.43,295.49 L562.20,297.13 L559.94,298.54 L557.65,299.73 L555.36,300.68 L553.08,301.39 L550.84,301.85 L548.64,302.05 L546.51,302.00 L544.46,301.70 L542.51,301.14 L540.67,300.33 L538.95,299.29 L537.38,298.01 L535.95,296.50 L534.69,294.79 L533.60,292.87 L532.68,290.77 L531.96,288.50 L531.42,286.08 L531.09,283.52 L530.95,280.86 L531.01,278.09 L531.27,275.26 L531.72,272.38 L532.38,269.46 L533.22,266.54 L534.24,263.64 L535.44,260.77 L536.80,257.96 L538.32,255.23 L539.98,252.61 L541.77,250.10 L543.68,247.74 L545.70,245.53 L547.80,243.51 L549.97,241.67 L552.20,240.03 L554.46,238.62 L556.75,237.43 L559.04,236.48 L561.32,235.77 L563.56,235.31 L565.76,235.11 L567.89,235.16 L569.94,235.46 L571.89,236.02 L573.73,236.83 L575.45,237.87 L577.02,239.15 L578.45,240.66 L579.71,242.37 L580.80,244.29 L581.72,246.39 L582.44,248.66 L582.98,251.08 L583.31,253.64 L583.45,256.30 L583.39,259.07 L583.13,261.90 L582.68,264.78 L582.02,267.70 L581.18,270.62 L580.16,273.52 L578.96,276.39 Z" fill="#fff" fill-rule="evenodd" stroke="none"/>
<path d="M577.60,279.20 L582.92,281.97 M575.16,283.43 L579.85,287.28 M572.38,287.37 L576.36,292.24 M569.33,290.97 L572.52,296.76 M566.04,294.15 L568.38,300.76 M562.59,296.86 L564.04,304.16 M559.04,299.04 L559.57,306.89 M555.46,300.65 L555.06,308.91 M551.91,301.66 L550.59,310.18 M548.46,302.06 L546.24,310.68 M545.17,301.83 L542.09,310.39 M542.10,300.99 L538.23,309.32 M539.32,299.54 L534.71,307.49 M536.86,297.51 L531.62,304.94 M534.79,294.94 L529.01,301.71 M533.14,291.89 L526.92,297.86 M531.93,288.40 L525.39,293.47 M531.19,284.54 L524.46,288.61 M530.94,280.38 L524.13,283.38 M531.18,276.01 L524.43,277.88 M531.90,271.49 L525.33,272.20 M533.10,266.92 L526.82,266.45 M534.74,262.38 L528.89,260.75 M536.80,257.96 L531.48,255.19 M539.24,253.73 L534.55,249.88 M542.02,249.79 L538.04,244.92 M545.07,246.19 L541.88,240.40 M548.36,243.01 L546.02,236.40 M551.81,240.30 L550.36,233.00 M555.36,238.12 L554.83,230.27 M558.94,236.51 L559.34,228.25 M562.49,235.50 L563.81,226.98 M565.94,235.10 L568.16,226.48 M569.23,235.33 L572.31,226.77 M572.30,236.17 L576.17,227.84 M575.08,237.62 L579.69,229.67 M577.54,239.65 L582.78,232.22 M579.61,242.22 L585.39,235.45 M581.26,245.27 L587.48,239.30 M582.47,248.76 L589.01,243.69 M583.21,252.62 L589.94,248.55 M583.46,256.78 L590.27,253.78 M583.22,261.15 L589.97,259.28 M582.50,265.67 L589.07,264.96 M581.30,270.24 L587.58,270.71 M579.66,274.78 L585.51,276.41" stroke="#000" stroke-width="1.1" fill="none"/>
<ellipse cx="557.2" cy="268.6" rx="29.0" ry="45.0" transform="rotate(27.5 557.2 268.6)" fill="none" stroke="#000" stroke-width="1.1"/>
<ellipse cx="557.2" cy="268.6" rx="23.0" ry="35.8" transform="rotate(27.5 557.2 268.6)" fill="none" stroke="#000" stroke-width="1.0"/>
<text transform="translate(417.7 111.0) scale(1.24 1)" font-size="12" font-weight="normal" text-anchor="start">6</text>
<line x1="420.8" y1="114.0" x2="414.8" y2="132.5" stroke="#000" stroke-width="0.9" />
<text transform="translate(443.9 126.2) scale(1.24 1)" font-size="12" font-weight="normal" text-anchor="start">4</text>
<line x1="447.0" y1="129.15" x2="441.0" y2="147.65" stroke="#000" stroke-width="0.9" />
<text transform="translate(470.1 141.3) scale(1.24 1)" font-size="12" font-weight="normal" text-anchor="start">4</text>
<line x1="473.2" y1="144.3" x2="467.2" y2="162.8" stroke="#000" stroke-width="0.9" />
<text transform="translate(496.3 156.4) scale(1.24 1)" font-size="12" font-weight="normal" text-anchor="start">4</text>
<line x1="499.4" y1="159.45" x2="493.4" y2="177.95" stroke="#000" stroke-width="0.9" />
<text transform="translate(522.5 171.6) scale(1.24 1)" font-size="12" font-weight="normal" text-anchor="start">4</text>
<line x1="525.6" y1="174.6" x2="519.6" y2="193.1" stroke="#000" stroke-width="0.9" />
<text transform="translate(548.7 186.8) scale(1.24 1)" font-size="12" font-weight="normal" text-anchor="start">4</text>
<line x1="551.8" y1="189.75" x2="545.8" y2="208.25" stroke="#000" stroke-width="0.9" />
<text transform="translate(574.9 201.9) scale(1.24 1)" font-size="12" font-weight="normal" text-anchor="start">6</text>
<line x1="578.0" y1="204.9" x2="572.0" y2="223.4" stroke="#000" stroke-width="0.9" />
<text transform="translate(525.7 121.8) scale(1.24 1)" font-size="12" font-weight="normal" text-anchor="start">24</text>
<line x1="529.6" y1="125.2" x2="522" y2="140.2" stroke="#000" stroke-width="0.9" />
<path d="M95.5,395.5 L134.5,395.5 L257,206 L313.5,239 L313.5,363.6 L280,415.3 L319,438 L370.7,358.1 L411.5,381 L398.7,403.5" fill="none" stroke="#000" stroke-width="1.1" stroke-dasharray="11.5 6"/>
<path d="M378,430 L359.6,461.3 L578.5,586.5 L471.5,754.8 L96.3,538.5" fill="none" stroke="#000" stroke-width="1.1" stroke-dasharray="11.5 6"/>
<path d="M95.5,395.5 L96.3,538.5" fill="none" stroke="#000" stroke-width="1.1" stroke-dasharray="11.5 6"/>
<text transform="translate(101.1 409.7) scale(1.3 1)" font-size="11.8" font-weight="normal" text-anchor="start">AP</text>
<text transform="translate(288.9 200.0) scale(1.24 1)" font-size="12" font-weight="normal" text-anchor="start">23</text>
<line x1="294.5" y1="202" x2="284.8" y2="222.6" stroke="#000" stroke-width="0.9" />
<text transform="translate(140.2 414.5) scale(1.24 1)" font-size="12" font-weight="normal" text-anchor="start">22</text>
<line x1="157.8" y1="405" x2="185.3" y2="387" stroke="#000" stroke-width="0.9" />
<path d="M283.0,238.0 C285.2,238.4 287.3,242.0 289.3,244.8 C291.3,247.6 294.7,251.7 295.1,254.9 C295.6,258.1 292.7,260.1 292.0,263.9 C291.3,267.7 290.8,272.4 290.9,277.7 C291.0,283.0 292.0,289.5 292.5,295.7 C293.0,301.9 294.5,308.1 294.1,315.1 C293.8,322.1 294.5,326.3 290.4,337.8 C286.3,349.3 278.0,372.5 269.6,384.2 C261.2,395.9 246.2,403.6 240.2,407.8 C234.2,412.1 235.0,410.5 233.6,409.7 C232.2,408.9 234.5,405.5 231.7,403.1 C228.9,400.7 223.0,396.9 216.6,395.5 C210.2,394.1 198.1,396.7 193.0,394.6 C187.9,392.6 187.9,387.1 186.3,383.2 C184.7,379.2 184.1,377.5 183.5,370.9 C182.9,364.3 182.3,349.5 182.6,343.5 C182.9,337.5 180.1,342.2 185.4,335.0 C190.8,327.8 207.3,309.7 214.7,300.0 C222.1,290.3 225.0,284.6 230.0,276.6 C235.0,268.6 239.5,257.1 244.8,252.2 C250.1,247.3 256.6,248.7 261.8,247.0 C267.0,245.3 272.6,243.7 276.1,242.2 C279.6,240.7 280.8,237.6 283.0,238.0 Z" fill="none" stroke="#000" stroke-width="3.0" stroke-linejoin="round"/>
<path d="M283.0,238.0 C285.2,238.4 287.3,242.0 289.3,244.8 C291.3,247.6 294.7,251.7 295.1,254.9 C295.6,258.1 292.7,260.1 292.0,263.9 C291.3,267.7 290.8,272.4 290.9,277.7 C291.0,283.0 292.0,289.5 292.5,295.7 C293.0,301.9 294.5,308.1 294.1,315.1 C293.8,322.1 294.5,326.3 290.4,337.8 C286.3,349.3 278.0,372.5 269.6,384.2 C261.2,395.9 246.2,403.6 240.2,407.8 C234.2,412.1 235.0,410.5 233.6,409.7 C232.2,408.9 234.5,405.5 231.7,403.1 C228.9,400.7 223.0,396.9 216.6,395.5 C210.2,394.1 198.1,396.7 193.0,394.6 C187.9,392.6 187.9,387.1 186.3,383.2 C184.7,379.2 184.1,377.5 183.5,370.9 C182.9,364.3 182.3,349.5 182.6,343.5 C182.9,337.5 180.1,342.2 185.4,335.0 C190.8,327.8 207.3,309.7 214.7,300.0 C222.1,290.3 225.0,284.6 230.0,276.6 C235.0,268.6 239.5,257.1 244.8,252.2 C250.1,247.3 256.6,248.7 261.8,247.0 C267.0,245.3 272.6,243.7 276.1,242.2 C279.6,240.7 280.8,237.6 283.0,238.0 Z" fill="none" stroke="#fff" stroke-width="1.5" stroke-linejoin="round"/>
<circle cx="283" cy="238" r="2.7" fill="#fff" stroke="#000" stroke-width="0.9"/>
<circle cx="283.3" cy="238" r="1.2" fill="none" stroke="#000" stroke-width="0.7"/>
<circle cx="295.1" cy="254.9" r="2.7" fill="#fff" stroke="#000" stroke-width="0.9"/>
<circle cx="295.40000000000003" cy="254.9" r="1.2" fill="none" stroke="#000" stroke-width="0.7"/>
<circle cx="292.5" cy="295.7" r="2.7" fill="#fff" stroke="#000" stroke-width="0.9"/>
<circle cx="292.8" cy="295.7" r="1.2" fill="none" stroke="#000" stroke-width="0.7"/>
<circle cx="290.4" cy="337.8" r="2.7" fill="#fff" stroke="#000" stroke-width="0.9"/>
<circle cx="290.7" cy="337.8" r="1.2" fill="none" stroke="#000" stroke-width="0.7"/>
<circle cx="269.6" cy="384.2" r="2.7" fill="#fff" stroke="#000" stroke-width="0.9"/>
<circle cx="269.90000000000003" cy="384.2" r="1.2" fill="none" stroke="#000" stroke-width="0.7"/>
<circle cx="240.2" cy="407.8" r="2.7" fill="#fff" stroke="#000" stroke-width="0.9"/>
<circle cx="240.5" cy="407.8" r="1.2" fill="none" stroke="#000" stroke-width="0.7"/>
<circle cx="216.6" cy="395.5" r="2.7" fill="#fff" stroke="#000" stroke-width="0.9"/>
<circle cx="216.9" cy="395.5" r="1.2" fill="none" stroke="#000" stroke-width="0.7"/>
<circle cx="193" cy="394.6" r="2.7" fill="#fff" stroke="#000" stroke-width="0.9"/>
<circle cx="193.3" cy="394.6" r="1.2" fill="none" stroke="#000" stroke-width="0.7"/>
<circle cx="183.5" cy="370.9" r="2.7" fill="#fff" stroke="#000" stroke-width="0.9"/>
<circle cx="183.8" cy="370.9" r="1.2" fill="none" stroke="#000" stroke-width="0.7"/>
<circle cx="185.4" cy="335" r="2.7" fill="#fff" stroke="#000" stroke-width="0.9"/>
<circle cx="185.70000000000002" cy="335" r="1.2" fill="none" stroke="#000" stroke-width="0.7"/>
<circle cx="215" cy="296" r="2.7" fill="#fff" stroke="#000" stroke-width="0.9"/>
<circle cx="215.3" cy="296" r="1.2" fill="none" stroke="#000" stroke-width="0.7"/>
<circle cx="244.8" cy="252.2" r="2.7" fill="#fff" stroke="#000" stroke-width="0.9"/>
<circle cx="245.10000000000002" cy="252.2" r="1.2" fill="none" stroke="#000" stroke-width="0.7"/>
<circle cx="276.1" cy="242.2" r="2.7" fill="#fff" stroke="#000" stroke-width="0.9"/>
<circle cx="276.40000000000003" cy="242.2" r="1.2" fill="none" stroke="#000" stroke-width="0.7"/>
<circle cx="233" cy="410" r="2.7" fill="#fff" stroke="#000" stroke-width="0.9"/>
<circle cx="233.3" cy="410" r="1.2" fill="none" stroke="#000" stroke-width="0.7"/>
<path d="M198.4,471.7 L180.3,460.7 L250.6,420.3 L432.6,525.3 L508.8,480.4 L492.5,468" fill="none" stroke="#000" stroke-width="1.0" stroke-dasharray="70 3 2 3"/>
<path d="M469,627.8 L512.6,653.2 L384.6,727.7 L199.9,620.6 L134.5,658 L147.8,665.4" fill="none" stroke="#000" stroke-width="1.0" stroke-dasharray="70 3 2 3"/>
<path d="M255.08,501.86 L258.45,503.61 L253.43,511.86 L250.49,509.44 Z M243.66,517.68 L245.90,520.80 L239.10,526.58 L237.53,523.04 Z M229.50,527.77 L230.15,531.63 L222.92,533.79 L223.03,529.83 Z M215.39,530.11 L214.34,533.96 L208.11,532.07 L209.88,528.48 Z M204.14,524.25 L201.59,527.32 L197.59,521.76 L200.67,519.25 Z M197.97,511.36 L194.43,513.04 L193.46,504.90 L197.23,503.97 Z M198.11,493.97 L194.27,493.93 L196.52,484.84 L200.24,485.66 Z M204.52,475.54 L201.15,473.79 L206.17,465.54 L209.11,467.96 Z M215.94,459.72 L213.70,456.60 L220.50,450.82 L222.07,454.36 Z M230.10,449.63 L229.45,445.77 L236.68,443.61 L236.57,447.57 Z M244.21,447.29 L245.26,443.44 L251.49,445.33 L249.72,448.92 Z M255.46,453.15 L258.01,450.08 L262.01,455.64 L258.93,458.15 Z M261.63,466.04 L265.17,464.36 L266.14,472.50 L262.37,473.43 Z M261.49,483.43 L265.33,483.47 L263.08,492.56 L259.36,491.74 Z" fill="#6a6a6a" stroke="#000" stroke-width="0.8" stroke-linejoin="round"/>
<path d="M255.52,502.09 L253.61,505.52 L251.52,508.82 L249.27,511.97 L246.87,514.94 L244.33,517.71 L241.69,520.25 L238.95,522.56 L236.15,524.62 L233.30,526.39 L230.42,527.88 L227.53,529.08 L224.67,529.96 L221.84,530.53 L219.07,530.79 L216.39,530.72 L213.80,530.33 L211.34,529.63 L209.02,528.62 L206.86,527.30 L204.87,525.68 L203.07,523.79 L201.48,521.63 L200.10,519.22 L198.94,516.57 L198.02,513.72 L197.35,510.67 L196.92,507.46 L196.74,504.10 L196.81,500.63 L197.13,497.06 L197.71,493.43 L198.52,489.77 L199.58,486.10 L200.86,482.44 L202.36,478.84 L204.08,475.31 L205.99,471.88 L208.08,468.58 L210.33,465.43 L212.73,462.46 L215.27,459.69 L217.91,457.15 L220.65,454.84 L223.45,452.78 L226.30,451.01 L229.18,449.52 L232.07,448.32 L234.93,447.44 L237.76,446.87 L240.53,446.61 L243.21,446.68 L245.80,447.07 L248.26,447.77 L250.58,448.78 L252.74,450.10 L254.73,451.72 L256.53,453.61 L258.12,455.77 L259.50,458.18 L260.66,460.83 L261.58,463.68 L262.25,466.73 L262.68,469.94 L262.86,473.30 L262.79,476.77 L262.47,480.34 L261.89,483.97 L261.08,487.63 L260.02,491.30 L258.74,494.96 L257.24,498.56 Z M250.20,499.32 L248.68,502.05 L247.02,504.67 L245.23,507.18 L243.32,509.54 L241.30,511.75 L239.20,513.77 L237.03,515.61 L234.80,517.25 L232.54,518.66 L230.25,519.85 L227.96,520.80 L225.68,521.51 L223.44,521.97 L221.24,522.17 L219.11,522.12 L217.06,521.82 L215.11,521.26 L213.27,520.45 L211.55,519.41 L209.98,518.13 L208.55,516.62 L207.29,514.91 L206.20,512.99 L205.28,510.89 L204.56,508.62 L204.02,506.20 L203.69,503.64 L203.55,500.98 L203.61,498.21 L203.87,495.38 L204.32,492.50 L204.98,489.58 L205.82,486.66 L206.84,483.76 L208.04,480.89 L209.40,478.08 L210.92,475.35 L212.58,472.73 L214.37,470.22 L216.28,467.86 L218.30,465.65 L220.40,463.63 L222.57,461.79 L224.80,460.15 L227.06,458.74 L229.35,457.55 L231.64,456.60 L233.92,455.89 L236.16,455.43 L238.36,455.23 L240.49,455.28 L242.54,455.58 L244.49,456.14 L246.33,456.95 L248.05,457.99 L249.62,459.27 L251.05,460.78 L252.31,462.49 L253.40,464.41 L254.32,466.51 L255.04,468.78 L255.58,471.20 L255.91,473.76 L256.05,476.42 L255.99,479.19 L255.73,482.02 L255.28,484.90 L254.62,487.82 L253.78,490.74 L252.76,493.64 L251.56,496.51 Z" fill="#fff" fill-rule="evenodd" stroke="none"/>
<path d="M250.20,499.32 L255.52,502.09 M247.76,503.55 L252.45,507.40 M244.98,507.49 L248.96,512.36 M241.93,511.09 L245.12,516.88 M238.64,514.27 L240.98,520.88 M235.19,516.98 L236.64,524.28 M231.64,519.16 L232.17,527.01 M228.06,520.77 L227.66,529.03 M224.51,521.78 L223.19,530.30 M221.06,522.18 L218.84,530.80 M217.77,521.95 L214.69,530.51 M214.70,521.11 L210.83,529.44 M211.92,519.66 L207.31,527.61 M209.46,517.63 L204.22,525.06 M207.39,515.06 L201.61,521.83 M205.74,512.01 L199.52,517.98 M204.53,508.52 L197.99,513.59 M203.79,504.66 L197.06,508.73 M203.54,500.50 L196.73,503.50 M203.78,496.13 L197.03,498.00 M204.50,491.61 L197.93,492.32 M205.70,487.04 L199.42,486.57 M207.34,482.50 L201.49,480.87 M209.40,478.08 L204.08,475.31 M211.84,473.85 L207.15,470.00 M214.62,469.91 L210.64,465.04 M217.67,466.31 L214.48,460.52 M220.96,463.13 L218.62,456.52 M224.41,460.42 L222.96,453.12 M227.96,458.24 L227.43,450.39 M231.54,456.63 L231.94,448.37 M235.09,455.62 L236.41,447.10 M238.54,455.22 L240.76,446.60 M241.83,455.45 L244.91,446.89 M244.90,456.29 L248.77,447.96 M247.68,457.74 L252.29,449.79 M250.14,459.77 L255.38,452.34 M252.21,462.34 L257.99,455.57 M253.86,465.39 L260.08,459.42 M255.07,468.88 L261.61,463.81 M255.81,472.74 L262.54,468.67 M256.06,476.90 L262.87,473.90 M255.82,481.27 L262.57,479.40 M255.10,485.79 L261.67,485.08 M253.90,490.36 L260.18,490.83 M252.26,494.90 L258.11,496.53" stroke="#000" stroke-width="1.1" fill="none"/>
<ellipse cx="229.8" cy="488.7" rx="29.0" ry="45.0" transform="rotate(27.5 229.8 488.7)" fill="none" stroke="#000" stroke-width="1.1"/>
<ellipse cx="229.8" cy="488.7" rx="23.0" ry="35.8" transform="rotate(27.5 229.8 488.7)" fill="none" stroke="#000" stroke-width="1.0"/>
<ellipse cx="247.3" cy="500.3" rx="29.2" ry="45.2" transform="rotate(27.5 247.3 500.3)" fill="#fff" stroke="#000" stroke-width="0.8"/>
<ellipse cx="248.9" cy="499.7" rx="29.2" ry="45.2" transform="rotate(27.5 248.9 499.7)" fill="#fff" stroke="#000" stroke-width="1.5"/>
<path d="M230.4,522.9 L230.6,522.4 L230.7,522.1 L230.8,521.8 L230.7,521.6 L230.6,521.5 L230.4,521.5 L230.2,521.6 L229.9,521.8 L229.5,522.0 L229.1,522.2 L228.7,522.4 L228.4,522.6 L228.1,522.6 L228.0,522.6 L227.9,522.5 L227.8,522.3 L227.9,522.0 L228.1,521.7 L228.3,521.2 L228.5,520.8 L228.7,520.3 L228.9,519.9 L229.1,519.6 L229.2,519.3 L229.2,519.1 L229.1,519.0 L228.9,519.0 L228.6,519.1 L228.3,519.2 L227.9,519.4 L227.5,519.5 L227.1,519.7 L226.8,519.7 L226.6,519.8 L226.4,519.7 L226.3,519.6 L226.3,519.3 L226.5,519.0 L226.6,518.7 L226.9,518.3 L227.2,517.8 L227.4,517.4 L227.7,517.1 L227.8,516.7 L227.9,516.5 L227.9,516.3 L227.8,516.2 L227.7,516.1 L227.4,516.2 L227.0,516.2 L226.7,516.3 L226.3,516.4 L225.9,516.5 L225.6,516.5 L225.4,516.5 L225.2,516.4 L225.2,516.2 L225.3,516.0 L225.4,515.7 L225.7,515.3 L225.9,515.0 L226.2,514.6 L226.5,514.2 L226.8,513.9 L227.0,513.6 L227.1,513.3 L227.1,513.1 L227.0,513.0 L226.8,512.9 L226.6,512.9 L226.2,512.9 L225.9,513.0 L225.5,513.0 L225.2,513.0 L224.9,513.0 L224.7,512.9 L224.6,512.8 L224.5,512.6 L224.6,512.3 L224.8,512.1 L225.1,511.7 L225.4,511.4 L225.8,511.0 L226.1,510.7 L226.4,510.4 L226.6,510.1 L226.7,509.9 L226.7,509.7 L226.6,509.6 L226.4,509.5 L226.2,509.4 L225.9,509.4 L225.5,509.4 L225.1,509.3 L224.8,509.3 L224.6,509.2 L224.4,509.1 L224.3,508.9 L224.3,508.7 L224.5,508.5 L224.7,508.2 L225.0,507.9 L225.4,507.6 L225.7,507.3 L226.1,507.0 L226.3,506.8 L226.6,506.5 L226.7,506.3 L226.7,506.1 L226.6,506.0 L226.5,505.8 L226.2,505.7 L225.9,505.6 L225.6,505.5 L225.2,505.4 L225.0,505.3 L224.7,505.2 L224.6,505.0 L224.5,504.9 L224.6,504.6 L224.8,504.4 L225.0,504.2 L225.4,503.9 L225.7,503.7 L226.1,503.4 L226.5,503.2 L226.8,503.0 L227.0,502.8 L227.1,502.6 L227.1,502.4 L227.1,502.2 L226.9,502.1 L226.7,501.9 L226.4,501.8 L226.1,501.6 L225.8,501.4 L225.5,501.3 L225.3,501.1 L225.2,500.9 L225.2,500.7 L225.3,500.5 L225.5,500.3 L225.8,500.1 L226.2,499.9 L226.5,499.7 L226.9,499.5 L227.3,499.3 L227.6,499.2 L227.8,499.0 L227.9,498.8 L228.0,498.6 L227.9,498.4 L227.8,498.3 L227.6,498.0 L227.3,497.8 L227.0,497.6 L226.8,497.4 L226.6,497.2 L226.4,497.0 L226.3,496.7 L226.4,496.5 L226.5,496.4 L226.7,496.2 L227.0,496.0 L227.4,495.9 L227.8,495.8 L228.1,495.6 L228.5,495.5 L228.8,495.4 L229.0,495.2 L229.2,495.1 L229.2,494.9 L229.2,494.7 L229.0,494.4 L228.8,494.2 L228.6,493.9 L228.4,493.7 L228.2,493.4 L228.0,493.1 L227.9,492.9 L227.9,492.6 L227.9,492.4 L228.1,492.3 L228.3,492.1 L228.7,492.0 L229.0,491.9 L229.4,491.9 L229.8,491.8 L230.1,491.7 L230.4,491.7 L230.6,491.5 L230.7,491.4 L230.8,491.2 L230.8,491.0 L230.7,490.7 L230.5,490.4 L230.3,490.1 L230.1,489.8 L230.0,489.5 L229.9,489.2 L229.8,488.9 L229.8,488.7 L229.9,488.5 L230.1,488.3 L230.3,488.2 L230.7,488.2 L231.0,488.2 L231.4,488.2 L231.7,488.2 L232.1,488.2 L232.3,488.1 L232.5,488.0 L232.7,487.9 L232.7,487.7 L232.7,487.5 L232.7,487.2 L232.5,486.8 L232.4,486.5 L232.3,486.1 L232.1,485.7 L232.1,485.4 L232.1,485.1 L232.1,484.9 L232.2,484.7 L232.4,484.6 L232.7,484.6 L233.0,484.6 L233.3,484.6 L233.7,484.7 L234.0,484.8 L234.3,484.8 L234.6,484.8 L234.8,484.7 L234.9,484.6 L235.0,484.4 L235.0,484.1 L235.0,483.8 L234.9,483.4 L234.8,483.0 L234.7,482.6 L234.6,482.3 L234.6,481.9 L234.6,481.6 L234.7,481.4 L234.9,481.2 L235.1,481.2 L235.3,481.2 L235.6,481.3 L235.9,481.4 L236.3,481.5 L236.6,481.6 L236.8,481.7 L237.1,481.8 L237.3,481.7 L237.4,481.6 L237.5,481.4 L237.5,481.1 L237.5,480.8 L237.5,480.4 L237.5,479.9 L237.4,479.5 L237.4,479.1 L237.4,478.7 L237.5,478.4 L237.6,478.2 L237.8,478.1 L238.0,478.1 L238.2,478.2 L238.5,478.3 L238.8,478.5 L239.1,478.7 L239.3,478.9 L239.6,479.0 L239.8,479.1 L240.0,479.1 L240.1,478.9 L240.2,478.7 L240.3,478.4 L240.3,478.1 L240.3,477.6 L240.4,477.2 L240.4,476.7 L240.4,476.3 L240.5,476.0 L240.6,475.7 L240.7,475.5 L240.9,475.4 L241.1,475.5 L241.3,475.6 L241.5,475.8 L241.8,476.0 L242.0,476.3 L242.3,476.5 L242.5,476.7 L242.7,476.8 L242.9,476.8 L243.0,476.7 L243.1,476.5 L243.2,476.1 L243.3,475.8 L243.4,475.3 L243.4,474.8 L243.5,474.4 L243.6,474.0 L243.7,473.6 L243.8,473.4 L244.0,473.2 L244.1,473.2 L244.3,473.3 L244.5,473.5 L244.7,473.7 L244.9,474.0 L245.1,474.3 L245.3,474.6 L245.5,474.8 L245.7,474.9 L245.9,474.9 L246.0,474.8 L246.1,474.6 L246.3,474.3 L246.4,473.9 L246.5,473.4 L246.6,473.0 L246.7,472.5 L246.9,472.1 L247.0,471.8 L247.1,471.5 L247.3,471.4 L247.5,471.5 L247.6,471.6 L247.8,471.8 L248.0,472.1 L248.1,472.5 L248.3,472.8 L248.5,473.1 L248.6,473.4 L248.8,473.5 L248.9,473.5 L249.1,473.4 L249.2,473.2 L249.4,472.9 L249.5,472.5 L249.7,472.1 L249.8,471.6 L250.0,471.1 L250.2,470.7 L250.3,470.4 L250.5,470.3 L250.7,470.2 L250.8,470.3 L251.0,470.4 L251.1,470.7 L251.2,471.1 L251.4,471.5 L251.5,471.8 L251.6,472.2 L251.7,472.4 L251.8,472.6 L252.0,472.6 L252.1,472.6 L252.3,472.4 L252.5,472.0 L252.6,471.6 L252.9,471.2 L253.1,470.7 L253.3,470.3 L253.5,469.9 L253.7,469.7 L253.9,469.5 L254.0,469.5 L254.2,469.6 L254.3,469.8 L254.4,470.2 L254.4,470.6 L254.5,471.0 L254.6,471.4 L254.6,471.8 L254.7,472.0 L254.8,472.2 L254.9,472.3 L255.1,472.2 L255.3,472.0 L255.5,471.7 L255.7,471.3 L256.0,470.9 L256.2,470.4 L256.5,470.0 L256.7,469.7 L256.9,469.5 L257.1,469.4 L257.3,469.4 L257.4,469.5 L257.4,469.8 L257.5,470.2 L257.5,470.6 L257.5,471.0 L257.5,471.5 L257.6,471.9 L257.6,472.2 L257.7,472.3" fill="none" stroke="#000" stroke-width="1.0"/>
<path d="M253.4,473.7 L253.4,468.2 L257.9,469.7 M254.9,469.2 L254.9,475.2" fill="none" stroke="#000" stroke-width="0.9"/>
<path d="M227.9,514.7 L227.4,519.7 L231.9,521.7 M229.4,516.7 L230.9,519.7" fill="none" stroke="#000" stroke-width="0.9"/>
<path d="M270.5,480.2 L271.1,492.3" stroke="#000" stroke-width="0.9" stroke-dasharray="2 1.2"/>
<path d="M279.6,478.4 L279.6,483.8" stroke="#000" stroke-width="0.9"/>
<path d="M246.8,511.7 L253.1,503.6" fill="none" stroke="#000" stroke-width="3.2" stroke-dasharray="0.8 0.7"/>
<path d="M253.1,503.6 L261.3,488.1" fill="none" stroke="#000" stroke-width="0.9" stroke-dasharray="5 1.5 1 1.5"/>
<path d="M245.0,537.2 L253.0,532.7" fill="none" stroke="#000" stroke-width="0.9"/>
<path d="M245.2,528.6 C254.0,523.7 259.0,519.7 263.0,514.2 C268.0,507.7 272.5,496.7 274.1,482.3" fill="none" stroke="#000" stroke-width="1.0" stroke-dasharray="9 2 1.5 2"/>
<path d="M293.28,523.86 L296.65,525.61 L291.63,533.86 L288.69,531.44 Z M281.86,539.68 L284.10,542.80 L277.30,548.58 L275.73,545.04 Z M267.70,549.77 L268.35,553.63 L261.12,555.79 L261.23,551.83 Z M253.59,552.11 L252.54,555.96 L246.31,554.07 L248.08,550.48 Z M242.34,546.25 L239.79,549.32 L235.79,543.76 L238.87,541.25 Z M236.17,533.36 L232.63,535.04 L231.66,526.90 L235.43,525.97 Z M236.31,515.97 L232.47,515.93 L234.72,506.84 L238.44,507.66 Z M242.72,497.54 L239.35,495.79 L244.37,487.54 L247.31,489.96 Z M254.14,481.72 L251.90,478.60 L258.70,472.82 L260.27,476.36 Z M268.30,471.63 L267.65,467.77 L274.88,465.61 L274.77,469.57 Z M282.41,469.29 L283.46,465.44 L289.69,467.33 L287.92,470.92 Z M293.66,475.15 L296.21,472.08 L300.21,477.64 L297.13,480.15 Z M299.83,488.04 L303.37,486.36 L304.34,494.50 L300.57,495.43 Z M299.69,505.43 L303.53,505.47 L301.28,514.56 L297.56,513.74 Z" fill="#6a6a6a" stroke="#000" stroke-width="0.8" stroke-linejoin="round"/>
<path d="M293.72,524.09 L291.81,527.52 L289.72,530.82 L287.47,533.97 L285.07,536.94 L282.53,539.71 L279.89,542.25 L277.15,544.56 L274.35,546.62 L271.50,548.39 L268.62,549.88 L265.73,551.08 L262.87,551.96 L260.04,552.53 L257.27,552.79 L254.59,552.72 L252.00,552.33 L249.54,551.63 L247.22,550.62 L245.06,549.30 L243.07,547.68 L241.27,545.79 L239.68,543.63 L238.30,541.22 L237.14,538.57 L236.22,535.72 L235.55,532.67 L235.12,529.46 L234.94,526.10 L235.01,522.63 L235.33,519.06 L235.91,515.43 L236.72,511.77 L237.78,508.10 L239.06,504.44 L240.56,500.84 L242.28,497.31 L244.19,493.88 L246.28,490.58 L248.53,487.43 L250.93,484.46 L253.47,481.69 L256.11,479.15 L258.85,476.84 L261.65,474.78 L264.50,473.01 L267.38,471.52 L270.27,470.32 L273.13,469.44 L275.96,468.87 L278.73,468.61 L281.41,468.68 L284.00,469.07 L286.46,469.77 L288.78,470.78 L290.94,472.10 L292.93,473.72 L294.73,475.61 L296.32,477.77 L297.70,480.18 L298.86,482.83 L299.78,485.68 L300.45,488.73 L300.88,491.94 L301.06,495.30 L300.99,498.77 L300.67,502.34 L300.09,505.97 L299.28,509.63 L298.22,513.30 L296.94,516.96 L295.44,520.56 Z M288.40,521.32 L286.88,524.05 L285.22,526.67 L283.43,529.18 L281.52,531.54 L279.50,533.75 L277.40,535.77 L275.23,537.61 L273.00,539.25 L270.74,540.66 L268.45,541.85 L266.16,542.80 L263.88,543.51 L261.64,543.97 L259.44,544.17 L257.31,544.12 L255.26,543.82 L253.31,543.26 L251.47,542.45 L249.75,541.41 L248.18,540.13 L246.75,538.62 L245.49,536.91 L244.40,534.99 L243.48,532.89 L242.76,530.62 L242.22,528.20 L241.89,525.64 L241.75,522.98 L241.81,520.21 L242.07,517.38 L242.52,514.50 L243.18,511.58 L244.02,508.66 L245.04,505.76 L246.24,502.89 L247.60,500.08 L249.12,497.35 L250.78,494.73 L252.57,492.22 L254.48,489.86 L256.50,487.65 L258.60,485.63 L260.77,483.79 L263.00,482.15 L265.26,480.74 L267.55,479.55 L269.84,478.60 L272.12,477.89 L274.36,477.43 L276.56,477.23 L278.69,477.28 L280.74,477.58 L282.69,478.14 L284.53,478.95 L286.25,479.99 L287.82,481.27 L289.25,482.78 L290.51,484.49 L291.60,486.41 L292.52,488.51 L293.24,490.78 L293.78,493.20 L294.11,495.76 L294.25,498.42 L294.19,501.19 L293.93,504.02 L293.48,506.90 L292.82,509.82 L291.98,512.74 L290.96,515.64 L289.76,518.51 Z" fill="#fff" fill-rule="evenodd" stroke="none"/>
<path d="M288.40,521.32 L293.72,524.09 M285.96,525.55 L290.65,529.40 M283.18,529.49 L287.16,534.36 M280.13,533.09 L283.32,538.88 M276.84,536.27 L279.18,542.88 M273.39,538.98 L274.84,546.28 M269.84,541.16 L270.37,549.01 M266.26,542.77 L265.86,551.03 M262.71,543.78 L261.39,552.30 M259.26,544.18 L257.04,552.80 M255.97,543.95 L252.89,552.51 M252.90,543.11 L249.03,551.44 M250.12,541.66 L245.51,549.61 M247.66,539.63 L242.42,547.06 M245.59,537.06 L239.81,543.83 M243.94,534.01 L237.72,539.98 M242.73,530.52 L236.19,535.59 M241.99,526.66 L235.26,530.73 M241.74,522.50 L234.93,525.50 M241.98,518.13 L235.23,520.00 M242.70,513.61 L236.13,514.32 M243.90,509.04 L237.62,508.57 M245.54,504.50 L239.69,502.87 M247.60,500.08 L242.28,497.31 M250.04,495.85 L245.35,492.00 M252.82,491.91 L248.84,487.04 M255.87,488.31 L252.68,482.52 M259.16,485.13 L256.82,478.52 M262.61,482.42 L261.16,475.12 M266.16,480.24 L265.63,472.39 M269.74,478.63 L270.14,470.37 M273.29,477.62 L274.61,469.10 M276.74,477.22 L278.96,468.60 M280.03,477.45 L283.11,468.89 M283.10,478.29 L286.97,469.96 M285.88,479.74 L290.49,471.79 M288.34,481.77 L293.58,474.34 M290.41,484.34 L296.19,477.57 M292.06,487.39 L298.28,481.42 M293.27,490.88 L299.81,485.81 M294.01,494.74 L300.74,490.67 M294.26,498.90 L301.07,495.90 M294.02,503.27 L300.77,501.40 M293.30,507.79 L299.87,507.08 M292.10,512.36 L298.38,512.83 M290.46,516.90 L296.31,518.53" stroke="#000" stroke-width="1.1" fill="none"/>
<ellipse cx="268.0" cy="510.7" rx="29.0" ry="45.0" transform="rotate(27.5 268.0 510.7)" fill="none" stroke="#000" stroke-width="1.1"/>
<ellipse cx="268.0" cy="510.7" rx="23.0" ry="35.8" transform="rotate(27.5 268.0 510.7)" fill="none" stroke="#000" stroke-width="1.0"/>
<ellipse cx="285.5" cy="522.3" rx="29.2" ry="45.2" transform="rotate(27.5 285.5 522.3)" fill="#fff" stroke="#000" stroke-width="0.8"/>
<ellipse cx="287.1" cy="521.7" rx="29.2" ry="45.2" transform="rotate(27.5 287.1 521.7)" fill="#fff" stroke="#000" stroke-width="1.5"/>
<path d="M268.6,544.9 L268.8,544.4 L268.9,544.1 L269.0,543.8 L268.9,543.6 L268.8,543.5 L268.6,543.5 L268.4,543.6 L268.1,543.8 L267.7,544.0 L267.3,544.2 L266.9,544.4 L266.6,544.6 L266.3,544.6 L266.2,544.6 L266.1,544.5 L266.0,544.3 L266.1,544.0 L266.3,543.7 L266.5,543.2 L266.7,542.8 L266.9,542.3 L267.1,541.9 L267.3,541.6 L267.4,541.3 L267.4,541.1 L267.3,541.0 L267.1,541.0 L266.8,541.1 L266.5,541.2 L266.1,541.4 L265.7,541.5 L265.3,541.7 L265.0,541.7 L264.8,541.8 L264.6,541.7 L264.5,541.6 L264.5,541.3 L264.7,541.0 L264.8,540.7 L265.1,540.3 L265.4,539.8 L265.6,539.4 L265.9,539.1 L266.0,538.7 L266.1,538.5 L266.1,538.3 L266.0,538.2 L265.9,538.1 L265.6,538.2 L265.2,538.2 L264.9,538.3 L264.5,538.4 L264.1,538.5 L263.8,538.5 L263.6,538.5 L263.4,538.4 L263.4,538.2 L263.5,538.0 L263.6,537.7 L263.9,537.3 L264.1,537.0 L264.4,536.6 L264.7,536.2 L265.0,535.9 L265.2,535.6 L265.3,535.3 L265.3,535.1 L265.2,535.0 L265.0,534.9 L264.8,534.9 L264.4,534.9 L264.1,535.0 L263.7,535.0 L263.4,535.0 L263.1,535.0 L262.9,534.9 L262.8,534.8 L262.7,534.6 L262.8,534.3 L263.0,534.1 L263.3,533.7 L263.6,533.4 L264.0,533.0 L264.3,532.7 L264.6,532.4 L264.8,532.1 L264.9,531.9 L264.9,531.7 L264.8,531.6 L264.6,531.5 L264.4,531.4 L264.1,531.4 L263.7,531.4 L263.3,531.3 L263.0,531.3 L262.8,531.2 L262.6,531.1 L262.5,530.9 L262.5,530.7 L262.7,530.5 L262.9,530.2 L263.2,529.9 L263.6,529.6 L263.9,529.3 L264.3,529.0 L264.5,528.8 L264.8,528.5 L264.9,528.3 L264.9,528.1 L264.8,528.0 L264.7,527.8 L264.4,527.7 L264.1,527.6 L263.8,527.5 L263.4,527.4 L263.2,527.3 L262.9,527.2 L262.8,527.0 L262.7,526.9 L262.8,526.6 L263.0,526.4 L263.2,526.2 L263.6,525.9 L263.9,525.7 L264.3,525.4 L264.7,525.2 L265.0,525.0 L265.2,524.8 L265.3,524.6 L265.3,524.4 L265.3,524.2 L265.1,524.1 L264.9,523.9 L264.6,523.8 L264.3,523.6 L264.0,523.4 L263.7,523.3 L263.5,523.1 L263.4,522.9 L263.4,522.7 L263.5,522.5 L263.7,522.3 L264.0,522.1 L264.4,521.9 L264.7,521.7 L265.1,521.5 L265.5,521.3 L265.8,521.2 L266.0,521.0 L266.1,520.8 L266.2,520.6 L266.1,520.4 L266.0,520.3 L265.8,520.0 L265.5,519.8 L265.2,519.6 L265.0,519.4 L264.8,519.2 L264.6,519.0 L264.5,518.7 L264.6,518.5 L264.7,518.4 L264.9,518.2 L265.2,518.0 L265.6,517.9 L266.0,517.8 L266.3,517.6 L266.7,517.5 L267.0,517.4 L267.2,517.2 L267.4,517.1 L267.4,516.9 L267.4,516.7 L267.2,516.4 L267.0,516.2 L266.8,515.9 L266.6,515.7 L266.4,515.4 L266.2,515.1 L266.1,514.9 L266.1,514.6 L266.1,514.4 L266.3,514.3 L266.5,514.1 L266.9,514.0 L267.2,513.9 L267.6,513.9 L268.0,513.8 L268.3,513.7 L268.6,513.7 L268.8,513.5 L268.9,513.4 L269.0,513.2 L269.0,513.0 L268.9,512.7 L268.7,512.4 L268.5,512.1 L268.3,511.8 L268.2,511.5 L268.1,511.2 L268.0,510.9 L268.0,510.7 L268.1,510.5 L268.3,510.3 L268.5,510.2 L268.9,510.2 L269.2,510.2 L269.6,510.2 L269.9,510.2 L270.3,510.2 L270.5,510.1 L270.7,510.0 L270.9,509.9 L270.9,509.7 L270.9,509.5 L270.9,509.2 L270.7,508.8 L270.6,508.5 L270.5,508.1 L270.3,507.7 L270.3,507.4 L270.3,507.1 L270.3,506.9 L270.4,506.7 L270.6,506.6 L270.9,506.6 L271.2,506.6 L271.5,506.6 L271.9,506.7 L272.2,506.8 L272.5,506.8 L272.8,506.8 L273.0,506.7 L273.1,506.6 L273.2,506.4 L273.2,506.1 L273.2,505.8 L273.1,505.4 L273.0,505.0 L272.9,504.6 L272.8,504.3 L272.8,503.9 L272.8,503.6 L272.9,503.4 L273.1,503.2 L273.3,503.2 L273.5,503.2 L273.8,503.3 L274.1,503.4 L274.5,503.5 L274.8,503.6 L275.0,503.7 L275.3,503.8 L275.5,503.7 L275.6,503.6 L275.7,503.4 L275.7,503.1 L275.7,502.8 L275.7,502.4 L275.7,501.9 L275.6,501.5 L275.6,501.1 L275.6,500.7 L275.7,500.4 L275.8,500.2 L276.0,500.1 L276.2,500.1 L276.4,500.2 L276.7,500.3 L277.0,500.5 L277.3,500.7 L277.5,500.9 L277.8,501.0 L278.0,501.1 L278.2,501.1 L278.3,500.9 L278.4,500.7 L278.5,500.4 L278.5,500.1 L278.5,499.6 L278.6,499.2 L278.6,498.7 L278.6,498.3 L278.7,498.0 L278.8,497.7 L278.9,497.5 L279.1,497.4 L279.3,497.5 L279.5,497.6 L279.7,497.8 L280.0,498.0 L280.2,498.3 L280.5,498.5 L280.7,498.7 L280.9,498.8 L281.1,498.8 L281.2,498.7 L281.3,498.5 L281.4,498.1 L281.5,497.8 L281.6,497.3 L281.6,496.8 L281.7,496.4 L281.8,496.0 L281.9,495.6 L282.0,495.4 L282.2,495.2 L282.3,495.2 L282.5,495.3 L282.7,495.5 L282.9,495.7 L283.1,496.0 L283.3,496.3 L283.5,496.6 L283.7,496.8 L283.9,496.9 L284.1,496.9 L284.2,496.8 L284.3,496.6 L284.5,496.3 L284.6,495.9 L284.7,495.4 L284.8,495.0 L284.9,494.5 L285.1,494.1 L285.2,493.8 L285.3,493.5 L285.5,493.4 L285.7,493.5 L285.8,493.6 L286.0,493.8 L286.2,494.1 L286.3,494.5 L286.5,494.8 L286.7,495.1 L286.8,495.4 L287.0,495.5 L287.1,495.5 L287.3,495.4 L287.4,495.2 L287.6,494.9 L287.7,494.5 L287.9,494.1 L288.0,493.6 L288.2,493.1 L288.4,492.7 L288.5,492.4 L288.7,492.3 L288.9,492.2 L289.0,492.3 L289.2,492.4 L289.3,492.7 L289.4,493.1 L289.6,493.5 L289.7,493.8 L289.8,494.2 L289.9,494.4 L290.0,494.6 L290.2,494.6 L290.3,494.6 L290.5,494.4 L290.7,494.0 L290.8,493.6 L291.1,493.2 L291.3,492.7 L291.5,492.3 L291.7,491.9 L291.9,491.7 L292.1,491.5 L292.2,491.5 L292.4,491.6 L292.5,491.8 L292.6,492.2 L292.6,492.6 L292.7,493.0 L292.8,493.4 L292.8,493.8 L292.9,494.0 L293.0,494.2 L293.1,494.3 L293.3,494.2 L293.5,494.0 L293.7,493.7 L293.9,493.3 L294.2,492.9 L294.4,492.4 L294.7,492.0 L294.9,491.7 L295.1,491.5 L295.3,491.4 L295.5,491.4 L295.6,491.5 L295.6,491.8 L295.7,492.2 L295.7,492.6 L295.7,493.0 L295.7,493.5 L295.8,493.9 L295.8,494.2 L295.9,494.3" fill="none" stroke="#000" stroke-width="1.0"/>
<path d="M291.6,495.7 L291.6,490.2 L296.1,491.7 M293.1,491.2 L293.1,497.2" fill="none" stroke="#000" stroke-width="0.9"/>
<path d="M266.1,536.7 L265.6,541.7 L270.1,543.7 M267.6,538.7 L269.1,541.7" fill="none" stroke="#000" stroke-width="0.9"/>
<path d="M308.7,502.2 L309.3,514.3" stroke="#000" stroke-width="0.9" stroke-dasharray="2 1.2"/>
<path d="M317.8,500.4 L317.8,505.8" stroke="#000" stroke-width="0.9"/>
<path d="M285.0,533.7 L291.3,525.6" fill="none" stroke="#000" stroke-width="3.2" stroke-dasharray="0.8 0.7"/>
<path d="M291.3,525.6 L299.5,510.1" fill="none" stroke="#000" stroke-width="0.9" stroke-dasharray="5 1.5 1 1.5"/>
<path d="M283.2,559.2 L291.2,554.7" fill="none" stroke="#000" stroke-width="0.9"/>
<path d="M283.4,550.6 C292.2,545.7 297.2,541.7 301.2,536.2 C306.2,529.7 310.7,518.7 312.3,504.3" fill="none" stroke="#000" stroke-width="1.0" stroke-dasharray="9 2 1.5 2"/>
<path d="M331.48,545.86 L334.85,547.61 L329.83,555.86 L326.89,553.44 Z M320.06,561.68 L322.30,564.80 L315.50,570.58 L313.93,567.04 Z M305.90,571.77 L306.55,575.63 L299.32,577.79 L299.43,573.83 Z M291.79,574.11 L290.74,577.96 L284.51,576.07 L286.28,572.48 Z M280.54,568.25 L277.99,571.32 L273.99,565.76 L277.07,563.25 Z M274.37,555.36 L270.83,557.04 L269.86,548.90 L273.63,547.97 Z M274.51,537.97 L270.67,537.93 L272.92,528.84 L276.64,529.66 Z M280.92,519.54 L277.55,517.79 L282.57,509.54 L285.51,511.96 Z M292.34,503.72 L290.10,500.60 L296.90,494.82 L298.47,498.36 Z M306.50,493.63 L305.85,489.77 L313.08,487.61 L312.97,491.57 Z M320.61,491.29 L321.66,487.44 L327.89,489.33 L326.12,492.92 Z M331.86,497.15 L334.41,494.08 L338.41,499.64 L335.33,502.15 Z M338.03,510.04 L341.57,508.36 L342.54,516.50 L338.77,517.43 Z M337.89,527.43 L341.73,527.47 L339.48,536.56 L335.76,535.74 Z" fill="#6a6a6a" stroke="#000" stroke-width="0.8" stroke-linejoin="round"/>
<path d="M331.92,546.09 L330.01,549.52 L327.92,552.82 L325.67,555.97 L323.27,558.94 L320.73,561.71 L318.09,564.25 L315.35,566.56 L312.55,568.62 L309.70,570.39 L306.82,571.88 L303.93,573.08 L301.07,573.96 L298.24,574.53 L295.47,574.79 L292.79,574.72 L290.20,574.33 L287.74,573.63 L285.42,572.62 L283.26,571.30 L281.27,569.68 L279.47,567.79 L277.88,565.63 L276.50,563.22 L275.34,560.57 L274.42,557.72 L273.75,554.67 L273.32,551.46 L273.14,548.10 L273.21,544.63 L273.53,541.06 L274.11,537.43 L274.92,533.77 L275.98,530.10 L277.26,526.44 L278.76,522.84 L280.48,519.31 L282.39,515.88 L284.48,512.58 L286.73,509.43 L289.13,506.46 L291.67,503.69 L294.31,501.15 L297.05,498.84 L299.85,496.78 L302.70,495.01 L305.58,493.52 L308.47,492.32 L311.33,491.44 L314.16,490.87 L316.93,490.61 L319.61,490.68 L322.20,491.07 L324.66,491.77 L326.98,492.78 L329.14,494.10 L331.13,495.72 L332.93,497.61 L334.52,499.77 L335.90,502.18 L337.06,504.83 L337.98,507.68 L338.65,510.73 L339.08,513.94 L339.26,517.30 L339.19,520.77 L338.87,524.34 L338.29,527.97 L337.48,531.63 L336.42,535.30 L335.14,538.96 L333.64,542.56 Z M326.60,543.32 L325.08,546.05 L323.42,548.67 L321.63,551.18 L319.72,553.54 L317.70,555.75 L315.60,557.77 L313.43,559.61 L311.20,561.25 L308.94,562.66 L306.65,563.85 L304.36,564.80 L302.08,565.51 L299.84,565.97 L297.64,566.17 L295.51,566.12 L293.46,565.82 L291.51,565.26 L289.67,564.45 L287.95,563.41 L286.38,562.13 L284.95,560.62 L283.69,558.91 L282.60,556.99 L281.68,554.89 L280.96,552.62 L280.42,550.20 L280.09,547.64 L279.95,544.98 L280.01,542.21 L280.27,539.38 L280.72,536.50 L281.38,533.58 L282.22,530.66 L283.24,527.76 L284.44,524.89 L285.80,522.08 L287.32,519.35 L288.98,516.73 L290.77,514.22 L292.68,511.86 L294.70,509.65 L296.80,507.63 L298.97,505.79 L301.20,504.15 L303.46,502.74 L305.75,501.55 L308.04,500.60 L310.32,499.89 L312.56,499.43 L314.76,499.23 L316.89,499.28 L318.94,499.58 L320.89,500.14 L322.73,500.95 L324.45,501.99 L326.02,503.27 L327.45,504.78 L328.71,506.49 L329.80,508.41 L330.72,510.51 L331.44,512.78 L331.98,515.20 L332.31,517.76 L332.45,520.42 L332.39,523.19 L332.13,526.02 L331.68,528.90 L331.02,531.82 L330.18,534.74 L329.16,537.64 L327.96,540.51 Z" fill="#fff" fill-rule="evenodd" stroke="none"/>
<path d="M326.60,543.32 L331.92,546.09 M324.16,547.55 L328.85,551.40 M321.38,551.49 L325.36,556.36 M318.33,555.09 L321.52,560.88 M315.04,558.27 L317.38,564.88 M311.59,560.98 L313.04,568.28 M308.04,563.16 L308.57,571.01 M304.46,564.77 L304.06,573.03 M300.91,565.78 L299.59,574.30 M297.46,566.18 L295.24,574.80 M294.17,565.95 L291.09,574.51 M291.10,565.11 L287.23,573.44 M288.32,563.66 L283.71,571.61 M285.86,561.63 L280.62,569.06 M283.79,559.06 L278.01,565.83 M282.14,556.01 L275.92,561.98 M280.93,552.52 L274.39,557.59 M280.19,548.66 L273.46,552.73 M279.94,544.50 L273.13,547.50 M280.18,540.13 L273.43,542.00 M280.90,535.61 L274.33,536.32 M282.10,531.04 L275.82,530.57 M283.74,526.50 L277.89,524.87 M285.80,522.08 L280.48,519.31 M288.24,517.85 L283.55,514.00 M291.02,513.91 L287.04,509.04 M294.07,510.31 L290.88,504.52 M297.36,507.13 L295.02,500.52 M300.81,504.42 L299.36,497.12 M304.36,502.24 L303.83,494.39 M307.94,500.63 L308.34,492.37 M311.49,499.62 L312.81,491.10 M314.94,499.22 L317.16,490.60 M318.23,499.45 L321.31,490.89 M321.30,500.29 L325.17,491.96 M324.08,501.74 L328.69,493.79 M326.54,503.77 L331.78,496.34 M328.61,506.34 L334.39,499.57 M330.26,509.39 L336.48,503.42 M331.47,512.88 L338.01,507.81 M332.21,516.74 L338.94,512.67 M332.46,520.90 L339.27,517.90 M332.22,525.27 L338.97,523.40 M331.50,529.79 L338.07,529.08 M330.30,534.36 L336.58,534.83 M328.66,538.90 L334.51,540.53" stroke="#000" stroke-width="1.1" fill="none"/>
<ellipse cx="306.2" cy="532.7" rx="29.0" ry="45.0" transform="rotate(27.5 306.2 532.7)" fill="none" stroke="#000" stroke-width="1.1"/>
<ellipse cx="306.2" cy="532.7" rx="23.0" ry="35.8" transform="rotate(27.5 306.2 532.7)" fill="none" stroke="#000" stroke-width="1.0"/>
<ellipse cx="323.7" cy="544.3" rx="29.2" ry="45.2" transform="rotate(27.5 323.7 544.3)" fill="#fff" stroke="#000" stroke-width="0.8"/>
<ellipse cx="325.3" cy="543.7" rx="29.2" ry="45.2" transform="rotate(27.5 325.3 543.7)" fill="#fff" stroke="#000" stroke-width="1.5"/>
<path d="M306.8,566.9 L307.0,566.4 L307.1,566.1 L307.2,565.8 L307.1,565.6 L307.0,565.5 L306.8,565.5 L306.6,565.6 L306.3,565.8 L305.9,566.0 L305.5,566.2 L305.1,566.4 L304.8,566.6 L304.5,566.6 L304.4,566.6 L304.3,566.5 L304.2,566.3 L304.3,566.0 L304.5,565.7 L304.7,565.2 L304.9,564.8 L305.1,564.3 L305.3,563.9 L305.5,563.6 L305.6,563.3 L305.6,563.1 L305.5,563.0 L305.3,563.0 L305.0,563.1 L304.7,563.2 L304.3,563.4 L303.9,563.5 L303.5,563.7 L303.2,563.7 L303.0,563.8 L302.8,563.7 L302.7,563.6 L302.7,563.3 L302.9,563.0 L303.0,562.7 L303.3,562.3 L303.6,561.8 L303.8,561.4 L304.1,561.1 L304.2,560.7 L304.3,560.5 L304.3,560.3 L304.2,560.2 L304.1,560.1 L303.8,560.2 L303.4,560.2 L303.1,560.3 L302.7,560.4 L302.3,560.5 L302.0,560.5 L301.8,560.5 L301.6,560.4 L301.6,560.2 L301.7,560.0 L301.8,559.7 L302.1,559.3 L302.3,559.0 L302.6,558.6 L302.9,558.2 L303.2,557.9 L303.4,557.6 L303.5,557.3 L303.5,557.1 L303.4,557.0 L303.2,556.9 L303.0,556.9 L302.6,556.9 L302.3,557.0 L301.9,557.0 L301.6,557.0 L301.3,557.0 L301.1,556.9 L301.0,556.8 L300.9,556.6 L301.0,556.3 L301.2,556.1 L301.5,555.7 L301.8,555.4 L302.2,555.0 L302.5,554.7 L302.8,554.4 L303.0,554.1 L303.1,553.9 L303.1,553.7 L303.0,553.6 L302.8,553.5 L302.6,553.4 L302.3,553.4 L301.9,553.4 L301.5,553.3 L301.2,553.3 L301.0,553.2 L300.8,553.1 L300.7,552.9 L300.7,552.7 L300.9,552.5 L301.1,552.2 L301.4,551.9 L301.8,551.6 L302.1,551.3 L302.5,551.0 L302.7,550.8 L303.0,550.5 L303.1,550.3 L303.1,550.1 L303.0,550.0 L302.9,549.8 L302.6,549.7 L302.3,549.6 L302.0,549.5 L301.6,549.4 L301.4,549.3 L301.1,549.2 L301.0,549.0 L300.9,548.9 L301.0,548.6 L301.2,548.4 L301.4,548.2 L301.8,547.9 L302.1,547.7 L302.5,547.4 L302.9,547.2 L303.2,547.0 L303.4,546.8 L303.5,546.6 L303.5,546.4 L303.5,546.2 L303.3,546.1 L303.1,545.9 L302.8,545.8 L302.5,545.6 L302.2,545.4 L301.9,545.3 L301.7,545.1 L301.6,544.9 L301.6,544.7 L301.7,544.5 L301.9,544.3 L302.2,544.1 L302.6,543.9 L302.9,543.7 L303.3,543.5 L303.7,543.3 L304.0,543.2 L304.2,543.0 L304.3,542.8 L304.4,542.6 L304.3,542.4 L304.2,542.3 L304.0,542.0 L303.7,541.8 L303.4,541.6 L303.2,541.4 L303.0,541.2 L302.8,541.0 L302.7,540.7 L302.8,540.5 L302.9,540.4 L303.1,540.2 L303.4,540.0 L303.8,539.9 L304.2,539.8 L304.5,539.6 L304.9,539.5 L305.2,539.4 L305.4,539.2 L305.6,539.1 L305.6,538.9 L305.6,538.7 L305.4,538.4 L305.2,538.2 L305.0,537.9 L304.8,537.7 L304.6,537.4 L304.4,537.1 L304.3,536.9 L304.3,536.6 L304.3,536.4 L304.5,536.3 L304.7,536.1 L305.1,536.0 L305.4,535.9 L305.8,535.9 L306.2,535.8 L306.5,535.7 L306.8,535.7 L307.0,535.5 L307.1,535.4 L307.2,535.2 L307.2,535.0 L307.1,534.7 L306.9,534.4 L306.7,534.1 L306.5,533.8 L306.4,533.5 L306.3,533.2 L306.2,532.9 L306.2,532.7 L306.3,532.5 L306.5,532.3 L306.7,532.2 L307.1,532.2 L307.4,532.2 L307.8,532.2 L308.1,532.2 L308.5,532.2 L308.7,532.1 L308.9,532.0 L309.1,531.9 L309.1,531.7 L309.1,531.5 L309.1,531.2 L308.9,530.8 L308.8,530.5 L308.7,530.1 L308.5,529.7 L308.5,529.4 L308.5,529.1 L308.5,528.9 L308.6,528.7 L308.8,528.6 L309.1,528.6 L309.4,528.6 L309.7,528.6 L310.1,528.7 L310.4,528.8 L310.7,528.8 L311.0,528.8 L311.2,528.7 L311.3,528.6 L311.4,528.4 L311.4,528.1 L311.4,527.8 L311.3,527.4 L311.2,527.0 L311.1,526.6 L311.0,526.3 L311.0,525.9 L311.0,525.6 L311.1,525.4 L311.3,525.2 L311.5,525.2 L311.7,525.2 L312.0,525.3 L312.3,525.4 L312.7,525.5 L313.0,525.6 L313.2,525.7 L313.5,525.8 L313.7,525.7 L313.8,525.6 L313.9,525.4 L313.9,525.1 L313.9,524.8 L313.9,524.4 L313.9,523.9 L313.8,523.5 L313.8,523.1 L313.8,522.7 L313.9,522.4 L314.0,522.2 L314.2,522.1 L314.4,522.1 L314.6,522.2 L314.9,522.3 L315.2,522.5 L315.5,522.7 L315.7,522.9 L316.0,523.0 L316.2,523.1 L316.4,523.1 L316.5,522.9 L316.6,522.7 L316.7,522.4 L316.7,522.1 L316.7,521.6 L316.8,521.2 L316.8,520.7 L316.8,520.3 L316.9,520.0 L317.0,519.7 L317.1,519.5 L317.3,519.4 L317.5,519.5 L317.7,519.6 L317.9,519.8 L318.2,520.0 L318.4,520.3 L318.7,520.5 L318.9,520.7 L319.1,520.8 L319.3,520.8 L319.4,520.7 L319.5,520.5 L319.6,520.1 L319.7,519.8 L319.8,519.3 L319.8,518.8 L319.9,518.4 L320.0,518.0 L320.1,517.6 L320.2,517.4 L320.4,517.2 L320.5,517.2 L320.7,517.3 L320.9,517.5 L321.1,517.7 L321.3,518.0 L321.5,518.3 L321.7,518.6 L321.9,518.8 L322.1,518.9 L322.3,518.9 L322.4,518.8 L322.5,518.6 L322.7,518.3 L322.8,517.9 L322.9,517.4 L323.0,517.0 L323.1,516.5 L323.3,516.1 L323.4,515.8 L323.5,515.5 L323.7,515.4 L323.9,515.5 L324.0,515.6 L324.2,515.8 L324.4,516.1 L324.5,516.5 L324.7,516.8 L324.9,517.1 L325.0,517.4 L325.2,517.5 L325.3,517.5 L325.5,517.4 L325.6,517.2 L325.8,516.9 L325.9,516.5 L326.1,516.1 L326.2,515.6 L326.4,515.1 L326.6,514.7 L326.7,514.4 L326.9,514.3 L327.1,514.2 L327.2,514.3 L327.4,514.4 L327.5,514.7 L327.6,515.1 L327.8,515.5 L327.9,515.8 L328.0,516.2 L328.1,516.4 L328.2,516.6 L328.4,516.6 L328.5,516.6 L328.7,516.4 L328.9,516.0 L329.0,515.6 L329.3,515.2 L329.5,514.7 L329.7,514.3 L329.9,513.9 L330.1,513.7 L330.3,513.5 L330.4,513.5 L330.6,513.6 L330.7,513.8 L330.8,514.2 L330.8,514.6 L330.9,515.0 L331.0,515.4 L331.0,515.8 L331.1,516.0 L331.2,516.2 L331.3,516.3 L331.5,516.2 L331.7,516.0 L331.9,515.7 L332.1,515.3 L332.4,514.9 L332.6,514.4 L332.9,514.0 L333.1,513.7 L333.3,513.5 L333.5,513.4 L333.7,513.4 L333.8,513.5 L333.8,513.8 L333.9,514.2 L333.9,514.6 L333.9,515.0 L333.9,515.5 L334.0,515.9 L334.0,516.2 L334.1,516.3" fill="none" stroke="#000" stroke-width="1.0"/>
<path d="M329.8,517.7 L329.8,512.2 L334.3,513.7 M331.3,513.2 L331.3,519.2" fill="none" stroke="#000" stroke-width="0.9"/>
<path d="M304.3,558.7 L303.8,563.7 L308.3,565.7 M305.8,560.7 L307.3,563.7" fill="none" stroke="#000" stroke-width="0.9"/>
<path d="M346.9,524.2 L347.5,536.3" stroke="#000" stroke-width="0.9" stroke-dasharray="2 1.2"/>
<path d="M356.0,522.4 L356.0,527.8" stroke="#000" stroke-width="0.9"/>
<path d="M323.2,555.7 L329.5,547.6" fill="none" stroke="#000" stroke-width="3.2" stroke-dasharray="0.8 0.7"/>
<path d="M329.5,547.6 L337.7,532.1" fill="none" stroke="#000" stroke-width="0.9" stroke-dasharray="5 1.5 1 1.5"/>
<path d="M321.4,581.2 L329.4,576.7" fill="none" stroke="#000" stroke-width="0.9"/>
<path d="M321.6,572.6 C330.4,567.7 335.4,563.7 339.4,558.2 C344.4,551.7 348.9,540.7 350.5,526.3" fill="none" stroke="#000" stroke-width="1.0" stroke-dasharray="9 2 1.5 2"/>
<path d="M369.68,567.86 L373.05,569.61 L368.03,577.86 L365.09,575.44 Z M358.26,583.68 L360.50,586.80 L353.70,592.58 L352.13,589.04 Z M344.10,593.77 L344.75,597.63 L337.52,599.79 L337.63,595.83 Z M329.99,596.11 L328.94,599.96 L322.71,598.07 L324.48,594.48 Z M318.74,590.25 L316.19,593.32 L312.19,587.76 L315.27,585.25 Z M312.57,577.36 L309.03,579.04 L308.06,570.90 L311.83,569.97 Z M312.71,559.97 L308.87,559.93 L311.12,550.84 L314.84,551.66 Z M319.12,541.54 L315.75,539.79 L320.77,531.54 L323.71,533.96 Z M330.54,525.72 L328.30,522.60 L335.10,516.82 L336.67,520.36 Z M344.70,515.63 L344.05,511.77 L351.28,509.61 L351.17,513.57 Z M358.81,513.29 L359.86,509.44 L366.09,511.33 L364.32,514.92 Z M370.06,519.15 L372.61,516.08 L376.61,521.64 L373.53,524.15 Z M376.23,532.04 L379.77,530.36 L380.74,538.50 L376.97,539.43 Z M376.09,549.43 L379.93,549.47 L377.68,558.56 L373.96,557.74 Z" fill="#6a6a6a" stroke="#000" stroke-width="0.8" stroke-linejoin="round"/>
<path d="M370.12,568.09 L368.21,571.52 L366.12,574.82 L363.87,577.97 L361.47,580.94 L358.93,583.71 L356.29,586.25 L353.55,588.56 L350.75,590.62 L347.90,592.39 L345.02,593.88 L342.13,595.08 L339.27,595.96 L336.44,596.53 L333.67,596.79 L330.99,596.72 L328.40,596.33 L325.94,595.63 L323.62,594.62 L321.46,593.30 L319.47,591.68 L317.67,589.79 L316.08,587.63 L314.70,585.22 L313.54,582.57 L312.62,579.72 L311.95,576.67 L311.52,573.46 L311.34,570.10 L311.41,566.63 L311.73,563.06 L312.31,559.43 L313.12,555.77 L314.18,552.10 L315.46,548.44 L316.96,544.84 L318.68,541.31 L320.59,537.88 L322.68,534.58 L324.93,531.43 L327.33,528.46 L329.87,525.69 L332.51,523.15 L335.25,520.84 L338.05,518.78 L340.90,517.01 L343.78,515.52 L346.67,514.32 L349.53,513.44 L352.36,512.87 L355.13,512.61 L357.81,512.68 L360.40,513.07 L362.86,513.77 L365.18,514.78 L367.34,516.10 L369.33,517.72 L371.13,519.61 L372.72,521.77 L374.10,524.18 L375.26,526.83 L376.18,529.68 L376.85,532.73 L377.28,535.94 L377.46,539.30 L377.39,542.77 L377.07,546.34 L376.49,549.97 L375.68,553.63 L374.62,557.30 L373.34,560.96 L371.84,564.56 Z M364.80,565.32 L363.28,568.05 L361.62,570.67 L359.83,573.18 L357.92,575.54 L355.90,577.75 L353.80,579.77 L351.63,581.61 L349.40,583.25 L347.14,584.66 L344.85,585.85 L342.56,586.80 L340.28,587.51 L338.04,587.97 L335.84,588.17 L333.71,588.12 L331.66,587.82 L329.71,587.26 L327.87,586.45 L326.15,585.41 L324.58,584.13 L323.15,582.62 L321.89,580.91 L320.80,578.99 L319.88,576.89 L319.16,574.62 L318.62,572.20 L318.29,569.64 L318.15,566.98 L318.21,564.21 L318.47,561.38 L318.92,558.50 L319.58,555.58 L320.42,552.66 L321.44,549.76 L322.64,546.89 L324.00,544.08 L325.52,541.35 L327.18,538.73 L328.97,536.22 L330.88,533.86 L332.90,531.65 L335.00,529.63 L337.17,527.79 L339.40,526.15 L341.66,524.74 L343.95,523.55 L346.24,522.60 L348.52,521.89 L350.76,521.43 L352.96,521.23 L355.09,521.28 L357.14,521.58 L359.09,522.14 L360.93,522.95 L362.65,523.99 L364.22,525.27 L365.65,526.78 L366.91,528.49 L368.00,530.41 L368.92,532.51 L369.64,534.78 L370.18,537.20 L370.51,539.76 L370.65,542.42 L370.59,545.19 L370.33,548.02 L369.88,550.90 L369.22,553.82 L368.38,556.74 L367.36,559.64 L366.16,562.51 Z" fill="#fff" fill-rule="evenodd" stroke="none"/>
<path d="M364.80,565.32 L370.12,568.09 M362.36,569.55 L367.05,573.40 M359.58,573.49 L363.56,578.36 M356.53,577.09 L359.72,582.88 M353.24,580.27 L355.58,586.88 M349.79,582.98 L351.24,590.28 M346.24,585.16 L346.77,593.01 M342.66,586.77 L342.26,595.03 M339.11,587.78 L337.79,596.30 M335.66,588.18 L333.44,596.80 M332.37,587.95 L329.29,596.51 M329.30,587.11 L325.43,595.44 M326.52,585.66 L321.91,593.61 M324.06,583.63 L318.82,591.06 M321.99,581.06 L316.21,587.83 M320.34,578.01 L314.12,583.98 M319.13,574.52 L312.59,579.59 M318.39,570.66 L311.66,574.73 M318.14,566.50 L311.33,569.50 M318.38,562.13 L311.63,564.00 M319.10,557.61 L312.53,558.32 M320.30,553.04 L314.02,552.57 M321.94,548.50 L316.09,546.87 M324.00,544.08 L318.68,541.31 M326.44,539.85 L321.75,536.00 M329.22,535.91 L325.24,531.04 M332.27,532.31 L329.08,526.52 M335.56,529.13 L333.22,522.52 M339.01,526.42 L337.56,519.12 M342.56,524.24 L342.03,516.39 M346.14,522.63 L346.54,514.37 M349.69,521.62 L351.01,513.10 M353.14,521.22 L355.36,512.60 M356.43,521.45 L359.51,512.89 M359.50,522.29 L363.37,513.96 M362.28,523.74 L366.89,515.79 M364.74,525.77 L369.98,518.34 M366.81,528.34 L372.59,521.57 M368.46,531.39 L374.68,525.42 M369.67,534.88 L376.21,529.81 M370.41,538.74 L377.14,534.67 M370.66,542.90 L377.47,539.90 M370.42,547.27 L377.17,545.40 M369.70,551.79 L376.27,551.08 M368.50,556.36 L374.78,556.83 M366.86,560.90 L372.71,562.53" stroke="#000" stroke-width="1.1" fill="none"/>
<ellipse cx="344.4" cy="554.7" rx="29.0" ry="45.0" transform="rotate(27.5 344.4 554.7)" fill="none" stroke="#000" stroke-width="1.1"/>
<ellipse cx="344.4" cy="554.7" rx="23.0" ry="35.8" transform="rotate(27.5 344.4 554.7)" fill="none" stroke="#000" stroke-width="1.0"/>
<ellipse cx="361.9" cy="566.3" rx="29.2" ry="45.2" transform="rotate(27.5 361.9 566.3)" fill="#fff" stroke="#000" stroke-width="0.8"/>
<ellipse cx="363.5" cy="565.7" rx="29.2" ry="45.2" transform="rotate(27.5 363.5 565.7)" fill="#fff" stroke="#000" stroke-width="1.5"/>
<path d="M345.0,588.9 L345.2,588.4 L345.3,588.1 L345.4,587.8 L345.3,587.6 L345.2,587.5 L345.0,587.5 L344.8,587.6 L344.5,587.8 L344.1,588.0 L343.7,588.2 L343.3,588.4 L343.0,588.6 L342.7,588.6 L342.6,588.6 L342.5,588.5 L342.4,588.3 L342.5,588.0 L342.7,587.7 L342.9,587.2 L343.1,586.8 L343.3,586.3 L343.5,585.9 L343.7,585.6 L343.8,585.3 L343.8,585.1 L343.7,585.0 L343.5,585.0 L343.2,585.1 L342.9,585.2 L342.5,585.4 L342.1,585.5 L341.7,585.7 L341.4,585.7 L341.2,585.8 L341.0,585.7 L340.9,585.6 L340.9,585.3 L341.1,585.0 L341.2,584.7 L341.5,584.3 L341.8,583.8 L342.0,583.4 L342.3,583.1 L342.4,582.7 L342.5,582.5 L342.5,582.3 L342.4,582.2 L342.3,582.1 L342.0,582.2 L341.6,582.2 L341.3,582.3 L340.9,582.4 L340.5,582.5 L340.2,582.5 L340.0,582.5 L339.8,582.4 L339.8,582.2 L339.9,582.0 L340.0,581.7 L340.3,581.3 L340.5,581.0 L340.8,580.6 L341.1,580.2 L341.4,579.9 L341.6,579.6 L341.7,579.3 L341.7,579.1 L341.6,579.0 L341.4,578.9 L341.2,578.9 L340.8,578.9 L340.5,579.0 L340.1,579.0 L339.8,579.0 L339.5,579.0 L339.3,578.9 L339.2,578.8 L339.1,578.6 L339.2,578.3 L339.4,578.1 L339.7,577.7 L340.0,577.4 L340.4,577.0 L340.7,576.7 L341.0,576.4 L341.2,576.1 L341.3,575.9 L341.3,575.7 L341.2,575.6 L341.0,575.5 L340.8,575.4 L340.5,575.4 L340.1,575.4 L339.7,575.3 L339.4,575.3 L339.2,575.2 L339.0,575.1 L338.9,574.9 L338.9,574.7 L339.1,574.5 L339.3,574.2 L339.6,573.9 L340.0,573.6 L340.3,573.3 L340.7,573.0 L340.9,572.8 L341.2,572.5 L341.3,572.3 L341.3,572.1 L341.2,572.0 L341.1,571.8 L340.8,571.7 L340.5,571.6 L340.2,571.5 L339.8,571.4 L339.6,571.3 L339.3,571.2 L339.2,571.0 L339.1,570.9 L339.2,570.6 L339.4,570.4 L339.6,570.2 L340.0,569.9 L340.3,569.7 L340.7,569.4 L341.1,569.2 L341.4,569.0 L341.6,568.8 L341.7,568.6 L341.7,568.4 L341.7,568.2 L341.5,568.1 L341.3,567.9 L341.0,567.8 L340.7,567.6 L340.4,567.4 L340.1,567.3 L339.9,567.1 L339.8,566.9 L339.8,566.7 L339.9,566.5 L340.1,566.3 L340.4,566.1 L340.8,565.9 L341.1,565.7 L341.5,565.5 L341.9,565.3 L342.2,565.2 L342.4,565.0 L342.5,564.8 L342.6,564.6 L342.5,564.4 L342.4,564.3 L342.2,564.0 L341.9,563.8 L341.6,563.6 L341.4,563.4 L341.2,563.2 L341.0,563.0 L340.9,562.7 L341.0,562.5 L341.1,562.4 L341.3,562.2 L341.6,562.0 L342.0,561.9 L342.4,561.8 L342.7,561.6 L343.1,561.5 L343.4,561.4 L343.6,561.2 L343.8,561.1 L343.8,560.9 L343.8,560.7 L343.6,560.4 L343.4,560.2 L343.2,559.9 L343.0,559.7 L342.8,559.4 L342.6,559.1 L342.5,558.9 L342.5,558.6 L342.5,558.4 L342.7,558.3 L342.9,558.1 L343.3,558.0 L343.6,557.9 L344.0,557.9 L344.4,557.8 L344.7,557.7 L345.0,557.7 L345.2,557.5 L345.3,557.4 L345.4,557.2 L345.4,557.0 L345.3,556.7 L345.1,556.4 L344.9,556.1 L344.7,555.8 L344.6,555.5 L344.5,555.2 L344.4,554.9 L344.4,554.7 L344.5,554.5 L344.7,554.3 L344.9,554.2 L345.3,554.2 L345.6,554.2 L346.0,554.2 L346.3,554.2 L346.7,554.2 L346.9,554.1 L347.1,554.0 L347.3,553.9 L347.3,553.7 L347.3,553.5 L347.3,553.2 L347.1,552.8 L347.0,552.5 L346.9,552.1 L346.7,551.7 L346.7,551.4 L346.7,551.1 L346.7,550.9 L346.8,550.7 L347.0,550.6 L347.3,550.6 L347.6,550.6 L347.9,550.6 L348.3,550.7 L348.6,550.8 L348.9,550.8 L349.2,550.8 L349.4,550.7 L349.5,550.6 L349.6,550.4 L349.6,550.1 L349.6,549.8 L349.5,549.4 L349.4,549.0 L349.3,548.6 L349.2,548.3 L349.2,547.9 L349.2,547.6 L349.3,547.4 L349.5,547.2 L349.7,547.2 L349.9,547.2 L350.2,547.3 L350.5,547.4 L350.9,547.5 L351.2,547.6 L351.4,547.7 L351.7,547.8 L351.9,547.7 L352.0,547.6 L352.1,547.4 L352.1,547.1 L352.1,546.8 L352.1,546.4 L352.1,545.9 L352.0,545.5 L352.0,545.1 L352.0,544.7 L352.1,544.4 L352.2,544.2 L352.4,544.1 L352.6,544.1 L352.8,544.2 L353.1,544.3 L353.4,544.5 L353.7,544.7 L353.9,544.9 L354.2,545.0 L354.4,545.1 L354.6,545.1 L354.7,544.9 L354.8,544.7 L354.9,544.4 L354.9,544.1 L354.9,543.6 L355.0,543.2 L355.0,542.7 L355.0,542.3 L355.1,542.0 L355.2,541.7 L355.3,541.5 L355.5,541.4 L355.7,541.5 L355.9,541.6 L356.1,541.8 L356.4,542.0 L356.6,542.3 L356.9,542.5 L357.1,542.7 L357.3,542.8 L357.5,542.8 L357.6,542.7 L357.7,542.5 L357.8,542.1 L357.9,541.8 L358.0,541.3 L358.0,540.8 L358.1,540.4 L358.2,540.0 L358.3,539.6 L358.4,539.4 L358.6,539.2 L358.7,539.2 L358.9,539.3 L359.1,539.5 L359.3,539.7 L359.5,540.0 L359.7,540.3 L359.9,540.6 L360.1,540.8 L360.3,540.9 L360.5,540.9 L360.6,540.8 L360.7,540.6 L360.9,540.3 L361.0,539.9 L361.1,539.4 L361.2,539.0 L361.3,538.5 L361.5,538.1 L361.6,537.8 L361.7,537.5 L361.9,537.4 L362.1,537.5 L362.2,537.6 L362.4,537.8 L362.6,538.1 L362.7,538.5 L362.9,538.8 L363.1,539.1 L363.2,539.4 L363.4,539.5 L363.5,539.5 L363.7,539.4 L363.8,539.2 L364.0,538.9 L364.1,538.5 L364.3,538.1 L364.4,537.6 L364.6,537.1 L364.8,536.7 L364.9,536.4 L365.1,536.3 L365.3,536.2 L365.4,536.3 L365.6,536.4 L365.7,536.7 L365.8,537.1 L366.0,537.5 L366.1,537.8 L366.2,538.2 L366.3,538.4 L366.4,538.6 L366.6,538.6 L366.7,538.6 L366.9,538.4 L367.1,538.0 L367.2,537.6 L367.5,537.2 L367.7,536.7 L367.9,536.3 L368.1,535.9 L368.3,535.7 L368.5,535.5 L368.6,535.5 L368.8,535.6 L368.9,535.8 L369.0,536.2 L369.0,536.6 L369.1,537.0 L369.2,537.4 L369.2,537.8 L369.3,538.0 L369.4,538.2 L369.5,538.3 L369.7,538.2 L369.9,538.0 L370.1,537.7 L370.3,537.3 L370.6,536.9 L370.8,536.4 L371.1,536.0 L371.3,535.7 L371.5,535.5 L371.7,535.4 L371.9,535.4 L372.0,535.5 L372.0,535.8 L372.1,536.2 L372.1,536.6 L372.1,537.0 L372.1,537.5 L372.2,537.9 L372.2,538.2 L372.3,538.3" fill="none" stroke="#000" stroke-width="1.0"/>
<path d="M368.0,539.7 L368.0,534.2 L372.5,535.7 M369.5,535.2 L369.5,541.2" fill="none" stroke="#000" stroke-width="0.9"/>
<path d="M342.5,580.7 L342.0,585.7 L346.5,587.7 M344.0,582.7 L345.5,585.7" fill="none" stroke="#000" stroke-width="0.9"/>
<path d="M385.1,546.2 L385.7,558.3" stroke="#000" stroke-width="0.9" stroke-dasharray="2 1.2"/>
<path d="M394.2,544.4 L394.2,549.8" stroke="#000" stroke-width="0.9"/>
<path d="M361.4,577.7 L367.7,569.6" fill="none" stroke="#000" stroke-width="3.2" stroke-dasharray="0.8 0.7"/>
<path d="M367.7,569.6 L375.9,554.1" fill="none" stroke="#000" stroke-width="0.9" stroke-dasharray="5 1.5 1 1.5"/>
<path d="M359.6,603.2 L367.6,598.7" fill="none" stroke="#000" stroke-width="0.9"/>
<path d="M359.8,594.6 C368.6,589.7 373.6,585.7 377.6,580.2 C382.6,573.7 387.1,562.7 388.7,548.3" fill="none" stroke="#000" stroke-width="1.0" stroke-dasharray="9 2 1.5 2"/>
<path d="M407.88,589.86 L411.25,591.61 L406.23,599.86 L403.29,597.44 Z M396.46,605.68 L398.70,608.80 L391.90,614.58 L390.33,611.04 Z M382.30,615.77 L382.95,619.63 L375.72,621.79 L375.83,617.83 Z M368.19,618.11 L367.14,621.96 L360.91,620.07 L362.68,616.48 Z M356.94,612.25 L354.39,615.32 L350.39,609.76 L353.47,607.25 Z M350.77,599.36 L347.23,601.04 L346.26,592.90 L350.03,591.97 Z M350.91,581.97 L347.07,581.93 L349.32,572.84 L353.04,573.66 Z M357.32,563.54 L353.95,561.79 L358.97,553.54 L361.91,555.96 Z M368.74,547.72 L366.50,544.60 L373.30,538.82 L374.87,542.36 Z M382.90,537.63 L382.25,533.77 L389.48,531.61 L389.37,535.57 Z M397.01,535.29 L398.06,531.44 L404.29,533.33 L402.52,536.92 Z M408.26,541.15 L410.81,538.08 L414.81,543.64 L411.73,546.15 Z M414.43,554.04 L417.97,552.36 L418.94,560.50 L415.17,561.43 Z M414.29,571.43 L418.13,571.47 L415.88,580.56 L412.16,579.74 Z" fill="#6a6a6a" stroke="#000" stroke-width="0.8" stroke-linejoin="round"/>
<path d="M408.32,590.09 L406.41,593.52 L404.32,596.82 L402.07,599.97 L399.67,602.94 L397.13,605.71 L394.49,608.25 L391.75,610.56 L388.95,612.62 L386.10,614.39 L383.22,615.88 L380.33,617.08 L377.47,617.96 L374.64,618.53 L371.87,618.79 L369.19,618.72 L366.60,618.33 L364.14,617.63 L361.82,616.62 L359.66,615.30 L357.67,613.68 L355.87,611.79 L354.28,609.63 L352.90,607.22 L351.74,604.57 L350.82,601.72 L350.15,598.67 L349.72,595.46 L349.54,592.10 L349.61,588.63 L349.93,585.06 L350.51,581.43 L351.32,577.77 L352.38,574.10 L353.66,570.44 L355.16,566.84 L356.88,563.31 L358.79,559.88 L360.88,556.58 L363.13,553.43 L365.53,550.46 L368.07,547.69 L370.71,545.15 L373.45,542.84 L376.25,540.78 L379.10,539.01 L381.98,537.52 L384.87,536.32 L387.73,535.44 L390.56,534.87 L393.33,534.61 L396.01,534.68 L398.60,535.07 L401.06,535.77 L403.38,536.78 L405.54,538.10 L407.53,539.72 L409.33,541.61 L410.92,543.77 L412.30,546.18 L413.46,548.83 L414.38,551.68 L415.05,554.73 L415.48,557.94 L415.66,561.30 L415.59,564.77 L415.27,568.34 L414.69,571.97 L413.88,575.63 L412.82,579.30 L411.54,582.96 L410.04,586.56 Z M403.00,587.32 L401.48,590.05 L399.82,592.67 L398.03,595.18 L396.12,597.54 L394.10,599.75 L392.00,601.77 L389.83,603.61 L387.60,605.25 L385.34,606.66 L383.05,607.85 L380.76,608.80 L378.48,609.51 L376.24,609.97 L374.04,610.17 L371.91,610.12 L369.86,609.82 L367.91,609.26 L366.07,608.45 L364.35,607.41 L362.78,606.13 L361.35,604.62 L360.09,602.91 L359.00,600.99 L358.08,598.89 L357.36,596.62 L356.82,594.20 L356.49,591.64 L356.35,588.98 L356.41,586.21 L356.67,583.38 L357.12,580.50 L357.78,577.58 L358.62,574.66 L359.64,571.76 L360.84,568.89 L362.20,566.08 L363.72,563.35 L365.38,560.73 L367.17,558.22 L369.08,555.86 L371.10,553.65 L373.20,551.63 L375.37,549.79 L377.60,548.15 L379.86,546.74 L382.15,545.55 L384.44,544.60 L386.72,543.89 L388.96,543.43 L391.16,543.23 L393.29,543.28 L395.34,543.58 L397.29,544.14 L399.13,544.95 L400.85,545.99 L402.42,547.27 L403.85,548.78 L405.11,550.49 L406.20,552.41 L407.12,554.51 L407.84,556.78 L408.38,559.20 L408.71,561.76 L408.85,564.42 L408.79,567.19 L408.53,570.02 L408.08,572.90 L407.42,575.82 L406.58,578.74 L405.56,581.64 L404.36,584.51 Z" fill="#fff" fill-rule="evenodd" stroke="none"/>
<path d="M403.00,587.32 L408.32,590.09 M400.56,591.55 L405.25,595.40 M397.78,595.49 L401.76,600.36 M394.73,599.09 L397.92,604.88 M391.44,602.27 L393.78,608.88 M387.99,604.98 L389.44,612.28 M384.44,607.16 L384.97,615.01 M380.86,608.77 L380.46,617.03 M377.31,609.78 L375.99,618.30 M373.86,610.18 L371.64,618.80 M370.57,609.95 L367.49,618.51 M367.50,609.11 L363.63,617.44 M364.72,607.66 L360.11,615.61 M362.26,605.63 L357.02,613.06 M360.19,603.06 L354.41,609.83 M358.54,600.01 L352.32,605.98 M357.33,596.52 L350.79,601.59 M356.59,592.66 L349.86,596.73 M356.34,588.50 L349.53,591.50 M356.58,584.13 L349.83,586.00 M357.30,579.61 L350.73,580.32 M358.50,575.04 L352.22,574.57 M360.14,570.50 L354.29,568.87 M362.20,566.08 L356.88,563.31 M364.64,561.85 L359.95,558.00 M367.42,557.91 L363.44,553.04 M370.47,554.31 L367.28,548.52 M373.76,551.13 L371.42,544.52 M377.21,548.42 L375.76,541.12 M380.76,546.24 L380.23,538.39 M384.34,544.63 L384.74,536.37 M387.89,543.62 L389.21,535.10 M391.34,543.22 L393.56,534.60 M394.63,543.45 L397.71,534.89 M397.70,544.29 L401.57,535.96 M400.48,545.74 L405.09,537.79 M402.94,547.77 L408.18,540.34 M405.01,550.34 L410.79,543.57 M406.66,553.39 L412.88,547.42 M407.87,556.88 L414.41,551.81 M408.61,560.74 L415.34,556.67 M408.86,564.90 L415.67,561.90 M408.62,569.27 L415.37,567.40 M407.90,573.79 L414.47,573.08 M406.70,578.36 L412.98,578.83 M405.06,582.90 L410.91,584.53" stroke="#000" stroke-width="1.1" fill="none"/>
<ellipse cx="382.6" cy="576.7" rx="29.0" ry="45.0" transform="rotate(27.5 382.6 576.7)" fill="none" stroke="#000" stroke-width="1.1"/>
<ellipse cx="382.6" cy="576.7" rx="23.0" ry="35.8" transform="rotate(27.5 382.6 576.7)" fill="none" stroke="#000" stroke-width="1.0"/>
<ellipse cx="400.1" cy="588.3" rx="29.2" ry="45.2" transform="rotate(27.5 400.1 588.3)" fill="#fff" stroke="#000" stroke-width="0.8"/>
<ellipse cx="401.7" cy="587.7" rx="29.2" ry="45.2" transform="rotate(27.5 401.7 587.7)" fill="#fff" stroke="#000" stroke-width="1.5"/>
<path d="M383.2,610.9 L383.4,610.4 L383.5,610.1 L383.6,609.8 L383.5,609.6 L383.4,609.5 L383.2,609.5 L383.0,609.6 L382.7,609.8 L382.3,610.0 L381.9,610.2 L381.5,610.4 L381.2,610.6 L380.9,610.6 L380.8,610.6 L380.7,610.5 L380.6,610.3 L380.7,610.0 L380.9,609.7 L381.1,609.2 L381.3,608.8 L381.5,608.3 L381.7,607.9 L381.9,607.6 L382.0,607.3 L382.0,607.1 L381.9,607.0 L381.7,607.0 L381.4,607.1 L381.1,607.2 L380.7,607.4 L380.3,607.5 L379.9,607.7 L379.6,607.7 L379.4,607.8 L379.2,607.7 L379.1,607.6 L379.1,607.3 L379.3,607.0 L379.4,606.7 L379.7,606.3 L380.0,605.8 L380.2,605.4 L380.5,605.1 L380.6,604.7 L380.7,604.5 L380.7,604.3 L380.6,604.2 L380.5,604.1 L380.2,604.2 L379.8,604.2 L379.5,604.3 L379.1,604.4 L378.7,604.5 L378.4,604.5 L378.2,604.5 L378.0,604.4 L378.0,604.2 L378.1,604.0 L378.2,603.7 L378.5,603.3 L378.7,603.0 L379.0,602.6 L379.3,602.2 L379.6,601.9 L379.8,601.6 L379.9,601.3 L379.9,601.1 L379.8,601.0 L379.6,600.9 L379.4,600.9 L379.0,600.9 L378.7,601.0 L378.3,601.0 L378.0,601.0 L377.7,601.0 L377.5,600.9 L377.4,600.8 L377.3,600.6 L377.4,600.3 L377.6,600.1 L377.9,599.7 L378.2,599.4 L378.6,599.0 L378.9,598.7 L379.2,598.4 L379.4,598.1 L379.5,597.9 L379.5,597.7 L379.4,597.6 L379.2,597.5 L379.0,597.4 L378.7,597.4 L378.3,597.4 L377.9,597.3 L377.6,597.3 L377.4,597.2 L377.2,597.1 L377.1,596.9 L377.1,596.7 L377.3,596.5 L377.5,596.2 L377.8,595.9 L378.2,595.6 L378.5,595.3 L378.9,595.0 L379.1,594.8 L379.4,594.5 L379.5,594.3 L379.5,594.1 L379.4,594.0 L379.3,593.8 L379.0,593.7 L378.7,593.6 L378.4,593.5 L378.0,593.4 L377.8,593.3 L377.5,593.2 L377.4,593.0 L377.3,592.9 L377.4,592.6 L377.6,592.4 L377.8,592.2 L378.2,591.9 L378.5,591.7 L378.9,591.4 L379.3,591.2 L379.6,591.0 L379.8,590.8 L379.9,590.6 L379.9,590.4 L379.9,590.2 L379.7,590.1 L379.5,589.9 L379.2,589.8 L378.9,589.6 L378.6,589.4 L378.3,589.3 L378.1,589.1 L378.0,588.9 L378.0,588.7 L378.1,588.5 L378.3,588.3 L378.6,588.1 L379.0,587.9 L379.3,587.7 L379.7,587.5 L380.1,587.3 L380.4,587.2 L380.6,587.0 L380.7,586.8 L380.8,586.6 L380.7,586.4 L380.6,586.3 L380.4,586.0 L380.1,585.8 L379.8,585.6 L379.6,585.4 L379.4,585.2 L379.2,585.0 L379.1,584.7 L379.2,584.5 L379.3,584.4 L379.5,584.2 L379.8,584.0 L380.2,583.9 L380.6,583.8 L380.9,583.6 L381.3,583.5 L381.6,583.4 L381.8,583.2 L382.0,583.1 L382.0,582.9 L382.0,582.7 L381.8,582.4 L381.6,582.2 L381.4,581.9 L381.2,581.7 L381.0,581.4 L380.8,581.1 L380.7,580.9 L380.7,580.6 L380.7,580.4 L380.9,580.3 L381.1,580.1 L381.5,580.0 L381.8,579.9 L382.2,579.9 L382.6,579.8 L382.9,579.7 L383.2,579.7 L383.4,579.5 L383.5,579.4 L383.6,579.2 L383.6,579.0 L383.5,578.7 L383.3,578.4 L383.1,578.1 L382.9,577.8 L382.8,577.5 L382.7,577.2 L382.6,576.9 L382.6,576.7 L382.7,576.5 L382.9,576.3 L383.1,576.2 L383.5,576.2 L383.8,576.2 L384.2,576.2 L384.5,576.2 L384.9,576.2 L385.1,576.1 L385.3,576.0 L385.5,575.9 L385.5,575.7 L385.5,575.5 L385.5,575.2 L385.3,574.8 L385.2,574.5 L385.1,574.1 L384.9,573.7 L384.9,573.4 L384.9,573.1 L384.9,572.9 L385.0,572.7 L385.2,572.6 L385.5,572.6 L385.8,572.6 L386.1,572.6 L386.5,572.7 L386.8,572.8 L387.1,572.8 L387.4,572.8 L387.6,572.7 L387.7,572.6 L387.8,572.4 L387.8,572.1 L387.8,571.8 L387.7,571.4 L387.6,571.0 L387.5,570.6 L387.4,570.3 L387.4,569.9 L387.4,569.6 L387.5,569.4 L387.7,569.2 L387.9,569.2 L388.1,569.2 L388.4,569.3 L388.7,569.4 L389.1,569.5 L389.4,569.6 L389.6,569.7 L389.9,569.8 L390.1,569.7 L390.2,569.6 L390.3,569.4 L390.3,569.1 L390.3,568.8 L390.3,568.4 L390.3,567.9 L390.2,567.5 L390.2,567.1 L390.2,566.7 L390.3,566.4 L390.4,566.2 L390.6,566.1 L390.8,566.1 L391.0,566.2 L391.3,566.3 L391.6,566.5 L391.9,566.7 L392.1,566.9 L392.4,567.0 L392.6,567.1 L392.8,567.1 L392.9,566.9 L393.0,566.7 L393.1,566.4 L393.1,566.1 L393.1,565.6 L393.2,565.2 L393.2,564.7 L393.2,564.3 L393.3,564.0 L393.4,563.7 L393.5,563.5 L393.7,563.4 L393.9,563.5 L394.1,563.6 L394.3,563.8 L394.6,564.0 L394.8,564.3 L395.1,564.5 L395.3,564.7 L395.5,564.8 L395.7,564.8 L395.8,564.7 L395.9,564.5 L396.0,564.1 L396.1,563.8 L396.2,563.3 L396.2,562.8 L396.3,562.4 L396.4,562.0 L396.5,561.6 L396.6,561.4 L396.8,561.2 L396.9,561.2 L397.1,561.3 L397.3,561.5 L397.5,561.7 L397.7,562.0 L397.9,562.3 L398.1,562.6 L398.3,562.8 L398.5,562.9 L398.7,562.9 L398.8,562.8 L398.9,562.6 L399.1,562.3 L399.2,561.9 L399.3,561.4 L399.4,561.0 L399.5,560.5 L399.7,560.1 L399.8,559.8 L399.9,559.5 L400.1,559.4 L400.3,559.5 L400.4,559.6 L400.6,559.8 L400.8,560.1 L400.9,560.5 L401.1,560.8 L401.3,561.1 L401.4,561.4 L401.6,561.5 L401.7,561.5 L401.9,561.4 L402.0,561.2 L402.2,560.9 L402.3,560.5 L402.5,560.1 L402.6,559.6 L402.8,559.1 L403.0,558.7 L403.1,558.4 L403.3,558.3 L403.5,558.2 L403.6,558.3 L403.8,558.4 L403.9,558.7 L404.0,559.1 L404.2,559.5 L404.3,559.8 L404.4,560.2 L404.5,560.4 L404.6,560.6 L404.8,560.6 L404.9,560.6 L405.1,560.4 L405.3,560.0 L405.4,559.6 L405.7,559.2 L405.9,558.7 L406.1,558.3 L406.3,557.9 L406.5,557.7 L406.7,557.5 L406.8,557.5 L407.0,557.6 L407.1,557.8 L407.2,558.2 L407.2,558.6 L407.3,559.0 L407.4,559.4 L407.4,559.8 L407.5,560.0 L407.6,560.2 L407.7,560.3 L407.9,560.2 L408.1,560.0 L408.3,559.7 L408.5,559.3 L408.8,558.9 L409.0,558.4 L409.3,558.0 L409.5,557.7 L409.7,557.5 L409.9,557.4 L410.1,557.4 L410.2,557.5 L410.2,557.8 L410.3,558.2 L410.3,558.6 L410.3,559.0 L410.3,559.5 L410.4,559.9 L410.4,560.2 L410.5,560.3" fill="none" stroke="#000" stroke-width="1.0"/>
<path d="M406.2,561.7 L406.2,556.2 L410.7,557.7 M407.7,557.2 L407.7,563.2" fill="none" stroke="#000" stroke-width="0.9"/>
<path d="M380.7,602.7 L380.2,607.7 L384.7,609.7 M382.2,604.7 L383.7,607.7" fill="none" stroke="#000" stroke-width="0.9"/>
<path d="M423.3,568.2 L423.9,580.3" stroke="#000" stroke-width="0.9" stroke-dasharray="2 1.2"/>
<path d="M432.4,566.4 L432.4,571.8" stroke="#000" stroke-width="0.9"/>
<path d="M399.6,599.7 L405.9,591.6" fill="none" stroke="#000" stroke-width="3.2" stroke-dasharray="0.8 0.7"/>
<path d="M405.9,591.6 L414.1,576.1" fill="none" stroke="#000" stroke-width="0.9" stroke-dasharray="5 1.5 1 1.5"/>
<path d="M397.8,625.2 L405.8,620.7" fill="none" stroke="#000" stroke-width="0.9"/>
<path d="M398.0,616.6 C406.8,611.7 411.8,607.7 415.8,602.2 C420.8,595.7 425.3,584.7 426.9,570.3" fill="none" stroke="#000" stroke-width="1.0" stroke-dasharray="9 2 1.5 2"/>
<path d="M446.08,611.86 L449.45,613.61 L444.43,621.86 L441.49,619.44 Z M434.66,627.68 L436.90,630.80 L430.10,636.58 L428.53,633.04 Z M420.50,637.77 L421.15,641.63 L413.92,643.79 L414.03,639.83 Z M406.39,640.11 L405.34,643.96 L399.11,642.07 L400.88,638.48 Z M395.14,634.25 L392.59,637.32 L388.59,631.76 L391.67,629.25 Z M388.97,621.36 L385.43,623.04 L384.46,614.90 L388.23,613.97 Z M389.11,603.97 L385.27,603.93 L387.52,594.84 L391.24,595.66 Z M395.52,585.54 L392.15,583.79 L397.17,575.54 L400.11,577.96 Z M406.94,569.72 L404.70,566.60 L411.50,560.82 L413.07,564.36 Z M421.10,559.63 L420.45,555.77 L427.68,553.61 L427.57,557.57 Z M435.21,557.29 L436.26,553.44 L442.49,555.33 L440.72,558.92 Z M446.46,563.15 L449.01,560.08 L453.01,565.64 L449.93,568.15 Z M452.63,576.04 L456.17,574.36 L457.14,582.50 L453.37,583.43 Z M452.49,593.43 L456.33,593.47 L454.08,602.56 L450.36,601.74 Z" fill="#6a6a6a" stroke="#000" stroke-width="0.8" stroke-linejoin="round"/>
<path d="M446.52,612.09 L444.61,615.52 L442.52,618.82 L440.27,621.97 L437.87,624.94 L435.33,627.71 L432.69,630.25 L429.95,632.56 L427.15,634.62 L424.30,636.39 L421.42,637.88 L418.53,639.08 L415.67,639.96 L412.84,640.53 L410.07,640.79 L407.39,640.72 L404.80,640.33 L402.34,639.63 L400.02,638.62 L397.86,637.30 L395.87,635.68 L394.07,633.79 L392.48,631.63 L391.10,629.22 L389.94,626.57 L389.02,623.72 L388.35,620.67 L387.92,617.46 L387.74,614.10 L387.81,610.63 L388.13,607.06 L388.71,603.43 L389.52,599.77 L390.58,596.10 L391.86,592.44 L393.36,588.84 L395.08,585.31 L396.99,581.88 L399.08,578.58 L401.33,575.43 L403.73,572.46 L406.27,569.69 L408.91,567.15 L411.65,564.84 L414.45,562.78 L417.30,561.01 L420.18,559.52 L423.07,558.32 L425.93,557.44 L428.76,556.87 L431.53,556.61 L434.21,556.68 L436.80,557.07 L439.26,557.77 L441.58,558.78 L443.74,560.10 L445.73,561.72 L447.53,563.61 L449.12,565.77 L450.50,568.18 L451.66,570.83 L452.58,573.68 L453.25,576.73 L453.68,579.94 L453.86,583.30 L453.79,586.77 L453.47,590.34 L452.89,593.97 L452.08,597.63 L451.02,601.30 L449.74,604.96 L448.24,608.56 Z M441.20,609.32 L439.68,612.05 L438.02,614.67 L436.23,617.18 L434.32,619.54 L432.30,621.75 L430.20,623.77 L428.03,625.61 L425.80,627.25 L423.54,628.66 L421.25,629.85 L418.96,630.80 L416.68,631.51 L414.44,631.97 L412.24,632.17 L410.11,632.12 L408.06,631.82 L406.11,631.26 L404.27,630.45 L402.55,629.41 L400.98,628.13 L399.55,626.62 L398.29,624.91 L397.20,622.99 L396.28,620.89 L395.56,618.62 L395.02,616.20 L394.69,613.64 L394.55,610.98 L394.61,608.21 L394.87,605.38 L395.32,602.50 L395.98,599.58 L396.82,596.66 L397.84,593.76 L399.04,590.89 L400.40,588.08 L401.92,585.35 L403.58,582.73 L405.37,580.22 L407.28,577.86 L409.30,575.65 L411.40,573.63 L413.57,571.79 L415.80,570.15 L418.06,568.74 L420.35,567.55 L422.64,566.60 L424.92,565.89 L427.16,565.43 L429.36,565.23 L431.49,565.28 L433.54,565.58 L435.49,566.14 L437.33,566.95 L439.05,567.99 L440.62,569.27 L442.05,570.78 L443.31,572.49 L444.40,574.41 L445.32,576.51 L446.04,578.78 L446.58,581.20 L446.91,583.76 L447.05,586.42 L446.99,589.19 L446.73,592.02 L446.28,594.90 L445.62,597.82 L444.78,600.74 L443.76,603.64 L442.56,606.51 Z" fill="#fff" fill-rule="evenodd" stroke="none"/>
<path d="M441.20,609.32 L446.52,612.09 M438.76,613.55 L443.45,617.40 M435.98,617.49 L439.96,622.36 M432.93,621.09 L436.12,626.88 M429.64,624.27 L431.98,630.88 M426.19,626.98 L427.64,634.28 M422.64,629.16 L423.17,637.01 M419.06,630.77 L418.66,639.03 M415.51,631.78 L414.19,640.30 M412.06,632.18 L409.84,640.80 M408.77,631.95 L405.69,640.51 M405.70,631.11 L401.83,639.44 M402.92,629.66 L398.31,637.61 M400.46,627.63 L395.22,635.06 M398.39,625.06 L392.61,631.83 M396.74,622.01 L390.52,627.98 M395.53,618.52 L388.99,623.59 M394.79,614.66 L388.06,618.73 M394.54,610.50 L387.73,613.50 M394.78,606.13 L388.03,608.00 M395.50,601.61 L388.93,602.32 M396.70,597.04 L390.42,596.57 M398.34,592.50 L392.49,590.87 M400.40,588.08 L395.08,585.31 M402.84,583.85 L398.15,580.00 M405.62,579.91 L401.64,575.04 M408.67,576.31 L405.48,570.52 M411.96,573.13 L409.62,566.52 M415.41,570.42 L413.96,563.12 M418.96,568.24 L418.43,560.39 M422.54,566.63 L422.94,558.37 M426.09,565.62 L427.41,557.10 M429.54,565.22 L431.76,556.60 M432.83,565.45 L435.91,556.89 M435.90,566.29 L439.77,557.96 M438.68,567.74 L443.29,559.79 M441.14,569.77 L446.38,562.34 M443.21,572.34 L448.99,565.57 M444.86,575.39 L451.08,569.42 M446.07,578.88 L452.61,573.81 M446.81,582.74 L453.54,578.67 M447.06,586.90 L453.87,583.90 M446.82,591.27 L453.57,589.40 M446.10,595.79 L452.67,595.08 M444.90,600.36 L451.18,600.83 M443.26,604.90 L449.11,606.53" stroke="#000" stroke-width="1.1" fill="none"/>
<ellipse cx="420.8" cy="598.7" rx="29.0" ry="45.0" transform="rotate(27.5 420.8 598.7)" fill="none" stroke="#000" stroke-width="1.1"/>
<ellipse cx="420.8" cy="598.7" rx="23.0" ry="35.8" transform="rotate(27.5 420.8 598.7)" fill="none" stroke="#000" stroke-width="1.0"/>
<ellipse cx="438.3" cy="610.3" rx="29.2" ry="45.2" transform="rotate(27.5 438.3 610.3)" fill="#fff" stroke="#000" stroke-width="0.8"/>
<ellipse cx="439.9" cy="609.7" rx="29.2" ry="45.2" transform="rotate(27.5 439.9 609.7)" fill="#fff" stroke="#000" stroke-width="1.5"/>
<path d="M421.4,632.9 L421.6,632.4 L421.7,632.1 L421.8,631.8 L421.7,631.6 L421.6,631.5 L421.4,631.5 L421.2,631.6 L420.9,631.8 L420.5,632.0 L420.1,632.2 L419.7,632.4 L419.4,632.6 L419.1,632.6 L419.0,632.6 L418.9,632.5 L418.8,632.3 L418.9,632.0 L419.1,631.7 L419.3,631.2 L419.5,630.8 L419.7,630.3 L419.9,629.9 L420.1,629.6 L420.2,629.3 L420.2,629.1 L420.1,629.0 L419.9,629.0 L419.6,629.1 L419.3,629.2 L418.9,629.4 L418.5,629.5 L418.1,629.7 L417.8,629.7 L417.6,629.8 L417.4,629.7 L417.3,629.6 L417.3,629.3 L417.5,629.0 L417.6,628.7 L417.9,628.3 L418.2,627.8 L418.4,627.4 L418.7,627.1 L418.8,626.7 L418.9,626.5 L418.9,626.3 L418.8,626.2 L418.7,626.1 L418.4,626.2 L418.0,626.2 L417.7,626.3 L417.3,626.4 L416.9,626.5 L416.6,626.5 L416.4,626.5 L416.2,626.4 L416.2,626.2 L416.3,626.0 L416.4,625.7 L416.7,625.3 L416.9,625.0 L417.2,624.6 L417.5,624.2 L417.8,623.9 L418.0,623.6 L418.1,623.3 L418.1,623.1 L418.0,623.0 L417.8,622.9 L417.6,622.9 L417.2,622.9 L416.9,623.0 L416.5,623.0 L416.2,623.0 L415.9,623.0 L415.7,622.9 L415.6,622.8 L415.5,622.6 L415.6,622.3 L415.8,622.1 L416.1,621.7 L416.4,621.4 L416.8,621.0 L417.1,620.7 L417.4,620.4 L417.6,620.1 L417.7,619.9 L417.7,619.7 L417.6,619.6 L417.4,619.5 L417.2,619.4 L416.9,619.4 L416.5,619.4 L416.1,619.3 L415.8,619.3 L415.6,619.2 L415.4,619.1 L415.3,618.9 L415.3,618.7 L415.5,618.5 L415.7,618.2 L416.0,617.9 L416.4,617.6 L416.7,617.3 L417.1,617.0 L417.3,616.8 L417.6,616.5 L417.7,616.3 L417.7,616.1 L417.6,616.0 L417.5,615.8 L417.2,615.7 L416.9,615.6 L416.6,615.5 L416.2,615.4 L416.0,615.3 L415.7,615.2 L415.6,615.0 L415.5,614.9 L415.6,614.6 L415.8,614.4 L416.0,614.2 L416.4,613.9 L416.7,613.7 L417.1,613.4 L417.5,613.2 L417.8,613.0 L418.0,612.8 L418.1,612.6 L418.1,612.4 L418.1,612.2 L417.9,612.1 L417.7,611.9 L417.4,611.8 L417.1,611.6 L416.8,611.4 L416.5,611.3 L416.3,611.1 L416.2,610.9 L416.2,610.7 L416.3,610.5 L416.5,610.3 L416.8,610.1 L417.2,609.9 L417.5,609.7 L417.9,609.5 L418.3,609.3 L418.6,609.2 L418.8,609.0 L418.9,608.8 L419.0,608.6 L418.9,608.4 L418.8,608.3 L418.6,608.0 L418.3,607.8 L418.0,607.6 L417.8,607.4 L417.6,607.2 L417.4,607.0 L417.3,606.7 L417.4,606.5 L417.5,606.4 L417.7,606.2 L418.0,606.0 L418.4,605.9 L418.8,605.8 L419.1,605.6 L419.5,605.5 L419.8,605.4 L420.0,605.2 L420.2,605.1 L420.2,604.9 L420.2,604.7 L420.0,604.4 L419.8,604.2 L419.6,603.9 L419.4,603.7 L419.2,603.4 L419.0,603.1 L418.9,602.9 L418.9,602.6 L418.9,602.4 L419.1,602.3 L419.3,602.1 L419.7,602.0 L420.0,601.9 L420.4,601.9 L420.8,601.8 L421.1,601.7 L421.4,601.7 L421.6,601.5 L421.7,601.4 L421.8,601.2 L421.8,601.0 L421.7,600.7 L421.5,600.4 L421.3,600.1 L421.1,599.8 L421.0,599.5 L420.9,599.2 L420.8,598.9 L420.8,598.7 L420.9,598.5 L421.1,598.3 L421.3,598.2 L421.7,598.2 L422.0,598.2 L422.4,598.2 L422.7,598.2 L423.1,598.2 L423.3,598.1 L423.5,598.0 L423.7,597.9 L423.7,597.7 L423.7,597.5 L423.7,597.2 L423.5,596.8 L423.4,596.5 L423.3,596.1 L423.1,595.7 L423.1,595.4 L423.1,595.1 L423.1,594.9 L423.2,594.7 L423.4,594.6 L423.7,594.6 L424.0,594.6 L424.3,594.6 L424.7,594.7 L425.0,594.8 L425.3,594.8 L425.6,594.8 L425.8,594.7 L425.9,594.6 L426.0,594.4 L426.0,594.1 L426.0,593.8 L425.9,593.4 L425.8,593.0 L425.7,592.6 L425.6,592.3 L425.6,591.9 L425.6,591.6 L425.7,591.4 L425.9,591.2 L426.1,591.2 L426.3,591.2 L426.6,591.3 L426.9,591.4 L427.3,591.5 L427.6,591.6 L427.8,591.7 L428.1,591.8 L428.3,591.7 L428.4,591.6 L428.5,591.4 L428.5,591.1 L428.5,590.8 L428.5,590.4 L428.5,589.9 L428.4,589.5 L428.4,589.1 L428.4,588.7 L428.5,588.4 L428.6,588.2 L428.8,588.1 L429.0,588.1 L429.2,588.2 L429.5,588.3 L429.8,588.5 L430.1,588.7 L430.3,588.9 L430.6,589.0 L430.8,589.1 L431.0,589.1 L431.1,588.9 L431.2,588.7 L431.3,588.4 L431.3,588.1 L431.3,587.6 L431.4,587.2 L431.4,586.7 L431.4,586.3 L431.5,586.0 L431.6,585.7 L431.7,585.5 L431.9,585.4 L432.1,585.5 L432.3,585.6 L432.5,585.8 L432.8,586.0 L433.0,586.3 L433.3,586.5 L433.5,586.7 L433.7,586.8 L433.9,586.8 L434.0,586.7 L434.1,586.5 L434.2,586.1 L434.3,585.8 L434.4,585.3 L434.4,584.8 L434.5,584.4 L434.6,584.0 L434.7,583.6 L434.8,583.4 L435.0,583.2 L435.1,583.2 L435.3,583.3 L435.5,583.5 L435.7,583.7 L435.9,584.0 L436.1,584.3 L436.3,584.6 L436.5,584.8 L436.7,584.9 L436.9,584.9 L437.0,584.8 L437.1,584.6 L437.3,584.3 L437.4,583.9 L437.5,583.4 L437.6,583.0 L437.7,582.5 L437.9,582.1 L438.0,581.8 L438.1,581.5 L438.3,581.4 L438.5,581.5 L438.6,581.6 L438.8,581.8 L439.0,582.1 L439.1,582.5 L439.3,582.8 L439.5,583.1 L439.6,583.4 L439.8,583.5 L439.9,583.5 L440.1,583.4 L440.2,583.2 L440.4,582.9 L440.5,582.5 L440.7,582.1 L440.8,581.6 L441.0,581.1 L441.2,580.7 L441.3,580.4 L441.5,580.3 L441.7,580.2 L441.8,580.3 L442.0,580.4 L442.1,580.7 L442.2,581.1 L442.4,581.5 L442.5,581.8 L442.6,582.2 L442.7,582.4 L442.8,582.6 L443.0,582.6 L443.1,582.6 L443.3,582.4 L443.5,582.0 L443.6,581.6 L443.9,581.2 L444.1,580.7 L444.3,580.3 L444.5,579.9 L444.7,579.7 L444.9,579.5 L445.0,579.5 L445.2,579.6 L445.3,579.8 L445.4,580.2 L445.4,580.6 L445.5,581.0 L445.6,581.4 L445.6,581.8 L445.7,582.0 L445.8,582.2 L445.9,582.3 L446.1,582.2 L446.3,582.0 L446.5,581.7 L446.7,581.3 L447.0,580.9 L447.2,580.4 L447.5,580.0 L447.7,579.7 L447.9,579.5 L448.1,579.4 L448.3,579.4 L448.4,579.5 L448.4,579.8 L448.5,580.2 L448.5,580.6 L448.5,581.0 L448.5,581.5 L448.6,581.9 L448.6,582.2 L448.7,582.3" fill="none" stroke="#000" stroke-width="1.0"/>
<path d="M444.4,583.7 L444.4,578.2 L448.9,579.7 M445.9,579.2 L445.9,585.2" fill="none" stroke="#000" stroke-width="0.9"/>
<path d="M418.9,624.7 L418.4,629.7 L422.9,631.7 M420.4,626.7 L421.9,629.7" fill="none" stroke="#000" stroke-width="0.9"/>
<path d="M461.5,590.2 L462.1,602.3" stroke="#000" stroke-width="0.9" stroke-dasharray="2 1.2"/>
<path d="M470.6,588.4 L470.6,593.8" stroke="#000" stroke-width="0.9"/>
<path d="M437.8,621.7 L444.1,613.6" fill="none" stroke="#000" stroke-width="3.2" stroke-dasharray="0.8 0.7"/>
<path d="M444.1,613.6 L452.3,598.1" fill="none" stroke="#000" stroke-width="0.9" stroke-dasharray="5 1.5 1 1.5"/>
<path d="M436.0,647.2 L444.0,642.7" fill="none" stroke="#000" stroke-width="0.9"/>
<path d="M436.2,638.6 C445.0,633.7 450.0,629.7 454.0,624.2 C459.0,617.7 463.5,606.7 465.1,592.3" fill="none" stroke="#000" stroke-width="1.0" stroke-dasharray="9 2 1.5 2"/>
<path d="M484.28,633.86 L487.65,635.61 L482.63,643.86 L479.69,641.44 Z M472.86,649.68 L475.10,652.80 L468.30,658.58 L466.73,655.04 Z M458.70,659.77 L459.35,663.63 L452.12,665.79 L452.23,661.83 Z M444.59,662.11 L443.54,665.96 L437.31,664.07 L439.08,660.48 Z M433.34,656.25 L430.79,659.32 L426.79,653.76 L429.87,651.25 Z M427.17,643.36 L423.63,645.04 L422.66,636.90 L426.43,635.97 Z M427.31,625.97 L423.47,625.93 L425.72,616.84 L429.44,617.66 Z M433.72,607.54 L430.35,605.79 L435.37,597.54 L438.31,599.96 Z M445.14,591.72 L442.90,588.60 L449.70,582.82 L451.27,586.36 Z M459.30,581.63 L458.65,577.77 L465.88,575.61 L465.77,579.57 Z M473.41,579.29 L474.46,575.44 L480.69,577.33 L478.92,580.92 Z M484.66,585.15 L487.21,582.08 L491.21,587.64 L488.13,590.15 Z M490.83,598.04 L494.37,596.36 L495.34,604.50 L491.57,605.43 Z M490.69,615.43 L494.53,615.47 L492.28,624.56 L488.56,623.74 Z" fill="#6a6a6a" stroke="#000" stroke-width="0.8" stroke-linejoin="round"/>
<path d="M484.72,634.09 L482.81,637.52 L480.72,640.82 L478.47,643.97 L476.07,646.94 L473.53,649.71 L470.89,652.25 L468.15,654.56 L465.35,656.62 L462.50,658.39 L459.62,659.88 L456.73,661.08 L453.87,661.96 L451.04,662.53 L448.27,662.79 L445.59,662.72 L443.00,662.33 L440.54,661.63 L438.22,660.62 L436.06,659.30 L434.07,657.68 L432.27,655.79 L430.68,653.63 L429.30,651.22 L428.14,648.57 L427.22,645.72 L426.55,642.67 L426.12,639.46 L425.94,636.10 L426.01,632.63 L426.33,629.06 L426.91,625.43 L427.72,621.77 L428.78,618.10 L430.06,614.44 L431.56,610.84 L433.28,607.31 L435.19,603.88 L437.28,600.58 L439.53,597.43 L441.93,594.46 L444.47,591.69 L447.11,589.15 L449.85,586.84 L452.65,584.78 L455.50,583.01 L458.38,581.52 L461.27,580.32 L464.13,579.44 L466.96,578.87 L469.73,578.61 L472.41,578.68 L475.00,579.07 L477.46,579.77 L479.78,580.78 L481.94,582.10 L483.93,583.72 L485.73,585.61 L487.32,587.77 L488.70,590.18 L489.86,592.83 L490.78,595.68 L491.45,598.73 L491.88,601.94 L492.06,605.30 L491.99,608.77 L491.67,612.34 L491.09,615.97 L490.28,619.63 L489.22,623.30 L487.94,626.96 L486.44,630.56 Z M479.40,631.32 L477.88,634.05 L476.22,636.67 L474.43,639.18 L472.52,641.54 L470.50,643.75 L468.40,645.77 L466.23,647.61 L464.00,649.25 L461.74,650.66 L459.45,651.85 L457.16,652.80 L454.88,653.51 L452.64,653.97 L450.44,654.17 L448.31,654.12 L446.26,653.82 L444.31,653.26 L442.47,652.45 L440.75,651.41 L439.18,650.13 L437.75,648.62 L436.49,646.91 L435.40,644.99 L434.48,642.89 L433.76,640.62 L433.22,638.20 L432.89,635.64 L432.75,632.98 L432.81,630.21 L433.07,627.38 L433.52,624.50 L434.18,621.58 L435.02,618.66 L436.04,615.76 L437.24,612.89 L438.60,610.08 L440.12,607.35 L441.78,604.73 L443.57,602.22 L445.48,599.86 L447.50,597.65 L449.60,595.63 L451.77,593.79 L454.00,592.15 L456.26,590.74 L458.55,589.55 L460.84,588.60 L463.12,587.89 L465.36,587.43 L467.56,587.23 L469.69,587.28 L471.74,587.58 L473.69,588.14 L475.53,588.95 L477.25,589.99 L478.82,591.27 L480.25,592.78 L481.51,594.49 L482.60,596.41 L483.52,598.51 L484.24,600.78 L484.78,603.20 L485.11,605.76 L485.25,608.42 L485.19,611.19 L484.93,614.02 L484.48,616.90 L483.82,619.82 L482.98,622.74 L481.96,625.64 L480.76,628.51 Z" fill="#fff" fill-rule="evenodd" stroke="none"/>
<path d="M479.40,631.32 L484.72,634.09 M476.96,635.55 L481.65,639.40 M474.18,639.49 L478.16,644.36 M471.13,643.09 L474.32,648.88 M467.84,646.27 L470.18,652.88 M464.39,648.98 L465.84,656.28 M460.84,651.16 L461.37,659.01 M457.26,652.77 L456.86,661.03 M453.71,653.78 L452.39,662.30 M450.26,654.18 L448.04,662.80 M446.97,653.95 L443.89,662.51 M443.90,653.11 L440.03,661.44 M441.12,651.66 L436.51,659.61 M438.66,649.63 L433.42,657.06 M436.59,647.06 L430.81,653.83 M434.94,644.01 L428.72,649.98 M433.73,640.52 L427.19,645.59 M432.99,636.66 L426.26,640.73 M432.74,632.50 L425.93,635.50 M432.98,628.13 L426.23,630.00 M433.70,623.61 L427.13,624.32 M434.90,619.04 L428.62,618.57 M436.54,614.50 L430.69,612.87 M438.60,610.08 L433.28,607.31 M441.04,605.85 L436.35,602.00 M443.82,601.91 L439.84,597.04 M446.87,598.31 L443.68,592.52 M450.16,595.13 L447.82,588.52 M453.61,592.42 L452.16,585.12 M457.16,590.24 L456.63,582.39 M460.74,588.63 L461.14,580.37 M464.29,587.62 L465.61,579.10 M467.74,587.22 L469.96,578.60 M471.03,587.45 L474.11,578.89 M474.10,588.29 L477.97,579.96 M476.88,589.74 L481.49,581.79 M479.34,591.77 L484.58,584.34 M481.41,594.34 L487.19,587.57 M483.06,597.39 L489.28,591.42 M484.27,600.88 L490.81,595.81 M485.01,604.74 L491.74,600.67 M485.26,608.90 L492.07,605.90 M485.02,613.27 L491.77,611.40 M484.30,617.79 L490.87,617.08 M483.10,622.36 L489.38,622.83 M481.46,626.90 L487.31,628.53" stroke="#000" stroke-width="1.1" fill="none"/>
<ellipse cx="459.0" cy="620.7" rx="29.0" ry="45.0" transform="rotate(27.5 459.0 620.7)" fill="none" stroke="#000" stroke-width="1.1"/>
<ellipse cx="459.0" cy="620.7" rx="23.0" ry="35.8" transform="rotate(27.5 459.0 620.7)" fill="none" stroke="#000" stroke-width="1.0"/>
<text transform="translate(170.3 561.5) scale(1.24 1)" font-size="12" font-weight="normal" text-anchor="start">6</text>
<line x1="179.4" y1="552.0" x2="201.4" y2="528.0" stroke="#000" stroke-width="0.9" />
<text transform="translate(190.0 573.0) scale(1.24 1)" font-size="12" font-weight="normal" text-anchor="start">5</text>
<line x1="199.1" y1="563.46" x2="221.1" y2="539.46" stroke="#000" stroke-width="0.9" />
<text transform="translate(209.7 584.4) scale(1.24 1)" font-size="12" font-weight="normal" text-anchor="start">4</text>
<line x1="218.8" y1="574.92" x2="240.8" y2="550.92" stroke="#000" stroke-width="0.9" />
<text transform="translate(229.4 595.9) scale(1.24 1)" font-size="12" font-weight="normal" text-anchor="start">5</text>
<line x1="238.5" y1="586.38" x2="260.5" y2="562.38" stroke="#000" stroke-width="0.9" />
<text transform="translate(249.1 607.3) scale(1.24 1)" font-size="12" font-weight="normal" text-anchor="start">4</text>
<line x1="258.2" y1="597.84" x2="280.2" y2="573.84" stroke="#000" stroke-width="0.9" />
<text transform="translate(268.8 618.8) scale(1.24 1)" font-size="12" font-weight="normal" text-anchor="start">5</text>
<line x1="277.9" y1="609.3" x2="299.9" y2="585.3" stroke="#000" stroke-width="0.9" />
<text transform="translate(288.5 630.3) scale(1.24 1)" font-size="12" font-weight="normal" text-anchor="start">4</text>
<line x1="297.6" y1="620.76" x2="319.6" y2="596.76" stroke="#000" stroke-width="0.9" />
<text transform="translate(308.2 641.7) scale(1.24 1)" font-size="12" font-weight="normal" text-anchor="start">5</text>
<line x1="317.3" y1="632.22" x2="339.3" y2="608.22" stroke="#000" stroke-width="0.9" />
<text transform="translate(327.9 653.2) scale(1.24 1)" font-size="12" font-weight="normal" text-anchor="start">4</text>
<line x1="337.0" y1="643.6800000000001" x2="359.0" y2="619.6800000000001" stroke="#000" stroke-width="0.9" />
<text transform="translate(347.6 664.6) scale(1.24 1)" font-size="12" font-weight="normal" text-anchor="start">5</text>
<line x1="356.7" y1="655.14" x2="378.7" y2="631.14" stroke="#000" stroke-width="0.9" />
<text transform="translate(367.3 676.1) scale(1.24 1)" font-size="12" font-weight="normal" text-anchor="start">4</text>
<line x1="376.4" y1="666.6" x2="398.4" y2="642.6" stroke="#000" stroke-width="0.9" />
<text transform="translate(387.0 687.6) scale(1.24 1)" font-size="12" font-weight="normal" text-anchor="start">5</text>
<line x1="396.1" y1="678.06" x2="418.1" y2="654.06" stroke="#000" stroke-width="0.9" />
<text transform="translate(406.7 699.0) scale(1.24 1)" font-size="12" font-weight="normal" text-anchor="start">6</text>
<line x1="415.79999999999995" y1="689.52" x2="437.79999999999995" y2="665.52" stroke="#000" stroke-width="0.9" />
<text transform="translate(77.4 845.8) scale(1.175 1)" font-size="11.8" font-weight="normal" text-anchor="start">B4CH300-V150</text>
<path d="M336.2,362.6 L354,371.6 L352.4,375.6 L334.6,366.6 Z" fill="#fff" stroke="#000" stroke-width="0.9" stroke-linejoin="round"/>
<path d="M338.0,363.4 L336.6,367.2 M340.1,364.4 L338.7,368.2 M342.1,365.5 L340.7,369.3 M344.1,366.5 L342.8,370.3 M346.2,367.6 L344.8,371.4 M348.2,368.6 L346.9,372.4 M350.3,369.6 L348.9,373.4 M352.4,370.7 L351.0,374.5" stroke="#000" stroke-width="0.8"/>
<ellipse cx="331.6" cy="362.5" rx="6.0" ry="6.3" transform="rotate(25 331.6 362.5)" fill="#fff" stroke="#000" stroke-width="1.1"/>
<path d="M326.5,359 L329,356.8 L334.5,357.2 L337,360.5 L336.8,366.5 L334,368.5 L328.5,368 L326,364.5 Z" fill="none" stroke="#000" stroke-width="0.8"/>
<ellipse cx="333.4" cy="363.4" rx="3.2" ry="4.6" transform="rotate(25 333.4 363.4)" fill="#fff" stroke="#000" stroke-width="0.9"/>
<path d="M327.5,358.5 L327,366 M329.5,357.5 L329,367.5" stroke="#000" stroke-width="0.6"/>
<text transform="translate(301.1 398.6) scale(1.24 1)" font-size="12" font-weight="normal" text-anchor="start">10</text>
<line x1="317.7" y1="389.9" x2="338" y2="369" stroke="#000" stroke-width="0.9" />
<line x1="391" y1="393.7" x2="410.8" y2="406.6" stroke="#000" stroke-width="0.9" />
<ellipse cx="363.5" cy="381.0" rx="2.6" ry="6.2" transform="rotate(26 363.5 381.0)" fill="#fff" stroke="#000" stroke-width="1.15"/>
<ellipse cx="366.0" cy="382.2" rx="2.6" ry="6.2" transform="rotate(26 366.0 382.2)" fill="#fff" stroke="#000" stroke-width="1.15"/>
<ellipse cx="368.5" cy="383.4" rx="2.6" ry="6.2" transform="rotate(26 368.5 383.4)" fill="#fff" stroke="#000" stroke-width="1.15"/>
<ellipse cx="371.0" cy="384.7" rx="2.6" ry="6.2" transform="rotate(26 371.0 384.7)" fill="#fff" stroke="#000" stroke-width="1.15"/>
<ellipse cx="373.5" cy="385.9" rx="2.6" ry="6.2" transform="rotate(26 373.5 385.9)" fill="#fff" stroke="#000" stroke-width="1.15"/>
<ellipse cx="376.0" cy="387.1" rx="2.6" ry="6.2" transform="rotate(26 376.0 387.1)" fill="#fff" stroke="#000" stroke-width="1.15"/>
<ellipse cx="378.5" cy="388.3" rx="2.6" ry="6.2" transform="rotate(26 378.5 388.3)" fill="#fff" stroke="#000" stroke-width="1.15"/>
<ellipse cx="381.0" cy="389.5" rx="2.6" ry="6.2" transform="rotate(26 381.0 389.5)" fill="#fff" stroke="#000" stroke-width="1.15"/>
<ellipse cx="383.5" cy="390.8" rx="2.6" ry="6.2" transform="rotate(26 383.5 390.8)" fill="#fff" stroke="#000" stroke-width="1.15"/>
<ellipse cx="386.0" cy="392.0" rx="2.6" ry="6.2" transform="rotate(26 386.0 392.0)" fill="#fff" stroke="#000" stroke-width="1.15"/>
<ellipse cx="388.5" cy="393.2" rx="2.6" ry="6.2" transform="rotate(26 388.5 393.2)" fill="#fff" stroke="#000" stroke-width="1.15"/>
<ellipse cx="388.5" cy="393.2" rx="1.6" ry="4.2" transform="rotate(26 388.5 393.2)" fill="#fff" stroke="#000" stroke-width="0.9"/>
<text transform="translate(346.2 419.8) scale(1.24 1)" font-size="12" font-weight="normal" text-anchor="start">9</text>
<line x1="355.3" y1="410.8" x2="372.5" y2="394.4" stroke="#000" stroke-width="0.9" />
<ellipse cx="426.6" cy="436.0" rx="27.7" ry="45.2" transform="rotate(27.4 426.6 436.0)" fill="#fff" stroke="#000" stroke-width="1.0"/>
<ellipse cx="427.8" cy="435.2" rx="27.7" ry="45.2" transform="rotate(27.4 427.8 435.2)" fill="#fff" stroke="#000" stroke-width="1.2"/>
<ellipse cx="428.4" cy="434.9" rx="26.0" ry="43.5" transform="rotate(27.4 428.4 434.9)" fill="none" stroke="#000" stroke-width="0.7"/>
<ellipse cx="429.3" cy="434.2" rx="22.8" ry="37.3" transform="rotate(27.4 429.3 434.2)" fill="none" stroke="#000" stroke-width="0.9"/>
<ellipse cx="429.3" cy="434.2" rx="20.8" ry="35.3" transform="rotate(27.4 429.3 434.2)" fill="none" stroke="#000" stroke-width="2.4" pathLength="100" stroke-dasharray="0.5 1.2"/>
<path d="M445.8,442.8 L446.1,443.5 L446.1,444.1 L445.8,444.6 L445.3,444.9 L444.6,445.0 L443.9,445.1 L443.3,445.4 L443.1,445.8 L443.1,446.4 L443.2,447.2 L443.4,448.1 L443.3,448.8 L443.0,449.2 L442.5,449.4 L441.8,449.4 L441.2,449.3 L440.6,449.4 L440.4,449.8 L440.3,450.5 L440.3,451.4 L440.3,452.3 L440.2,453.0 L439.9,453.4 L439.4,453.5 L438.7,453.3 L438.2,453.1 L437.7,453.1 L437.4,453.5 L437.2,454.2 L437.1,455.1 L437.0,456.1 L436.8,456.9 L436.4,457.2 L436.0,457.1 L435.4,456.8 L434.9,456.4 L434.5,456.3 L434.2,456.6 L433.9,457.3 L433.7,458.3 L433.5,459.4 L433.2,460.1 L432.9,460.4 L432.4,460.2 L432.0,459.7 L431.6,459.2 L431.2,459.0 L430.9,459.2 L430.6,459.9 L430.2,461.0 L429.9,462.0 L429.5,462.7 L429.2,462.9 L428.8,462.7 L428.5,462.0 L428.2,461.4 L427.8,461.1 L427.5,461.2 L427.1,461.9 L426.7,462.9 L426.3,463.9 L425.9,464.6 L425.5,464.8 L425.2,464.4 L425.0,463.7 L424.8,462.9 L424.5,462.5 L424.2,462.6 L423.8,463.2 L423.3,464.2 L422.7,465.2 L422.3,465.8 L421.9,465.9 L421.7,465.4 L421.6,464.5 L421.5,463.7 L421.3,463.2 L421.0,463.2 L420.5,463.8 L420.0,464.7 L419.4,465.6 L418.8,466.2 L418.5,466.2 L418.4,465.6 L418.4,464.7 L418.4,463.8 L418.3,463.2 L418.0,463.1 L417.5,463.6 L416.9,464.5 L416.2,465.3 L415.7,465.8 L415.4,465.7 L415.3,465.1 L415.5,464.1 L415.6,463.1 L415.6,462.4 L415.3,462.3 L414.8,462.8 L414.1,463.5 L413.4,464.2 L412.8,464.6 L412.6,464.4 L412.6,463.8 L412.9,462.7 L413.1,461.7 L413.2,461.0 L413.0,460.9 L412.5,461.2 L411.7,461.8 L411.0,462.4 L410.4,462.7 L410.2,462.4 L410.3,461.7 L410.7,460.7 L411.0,459.7 L411.2,459.0 L411.0,458.7 L410.5,458.9 L409.8,459.4 L409.0,459.9 L408.5,460.0 L408.3,459.7 L408.5,459.0 L409.0,458.0 L409.4,457.0 L409.7,456.3 L409.5,456.0 L409.0,456.1 L408.3,456.4 L407.5,456.7 L407.0,456.8 L406.9,456.4 L407.2,455.7 L407.7,454.7 L408.3,453.8 L408.6,453.0 L408.5,452.7 L408.0,452.7 L407.3,452.9 L406.6,453.0 L406.1,453.0 L406.1,452.6 L406.4,451.8 L407.0,450.9 L407.6,450.0 L408.0,449.3 L408.0,449.0 L407.6,448.8 L406.9,448.9 L406.2,448.9 L405.8,448.7 L405.8,448.2 L406.2,447.5 L406.9,446.7 L407.6,445.9 L408.0,445.3 L408.0,444.9 L407.6,444.6 L407.0,444.5 L406.4,444.3 L406.0,444.0 L406.1,443.6 L406.6,442.9 L407.3,442.2 L408.0,441.5 L408.5,440.9 L408.6,440.5 L408.2,440.2 L407.7,439.9 L407.2,439.6 L406.9,439.2 L407.0,438.7 L407.5,438.1 L408.2,437.5 L409.0,436.9 L409.5,436.4 L409.6,436.0 L409.4,435.6 L408.9,435.1 L408.5,434.6 L408.2,434.2 L408.4,433.6 L408.9,433.2 L409.7,432.7 L410.4,432.3 L411.0,431.9 L411.1,431.4 L411.0,430.9 L410.6,430.3 L410.3,429.7 L410.1,429.1 L410.4,428.7 L410.9,428.3 L411.6,428.0 L412.4,427.7 L412.9,427.4 L413.1,426.9 L413.0,426.3 L412.8,425.6 L412.5,424.9 L412.5,424.3 L412.8,423.8 L413.3,423.5 L414.0,423.4 L414.7,423.3 L415.3,423.0 L415.5,422.6 L415.5,422.0 L415.4,421.2 L415.2,420.3 L415.3,419.6 L415.6,419.2 L416.1,419.0 L416.8,419.0 L417.4,419.1 L418.0,419.0 L418.2,418.6 L418.3,417.9 L418.3,417.0 L418.3,416.1 L418.4,415.4 L418.7,415.0 L419.2,414.9 L419.9,415.1 L420.4,415.3 L420.9,415.3 L421.2,414.9 L421.4,414.2 L421.5,413.3 L421.6,412.3 L421.8,411.5 L422.2,411.2 L422.6,411.3 L423.2,411.6 L423.7,412.0 L424.1,412.1 L424.4,411.8 L424.7,411.1 L424.9,410.1 L425.1,409.0 L425.4,408.3 L425.7,408.0 L426.2,408.2 L426.6,408.7 L427.0,409.2 L427.4,409.4 L427.7,409.2 L428.0,408.5 L428.4,407.4 L428.7,406.4 L429.1,405.7 L429.4,405.5 L429.8,405.7 L430.1,406.4 L430.4,407.0 L430.8,407.3 L431.1,407.2 L431.5,406.5 L431.9,405.5 L432.3,404.5 L432.7,403.8 L433.1,403.6 L433.4,404.0 L433.6,404.7 L433.8,405.5 L434.1,405.9 L434.4,405.8 L434.8,405.2 L435.3,404.2 L435.9,403.2 L436.3,402.6 L436.7,402.5 L436.9,403.0 L437.0,403.9 L437.1,404.7 L437.3,405.2 L437.6,405.2 L438.1,404.6 L438.6,403.7 L439.2,402.8 L439.8,402.2 L440.1,402.2 L440.2,402.8 L440.2,403.7 L440.2,404.6 L440.3,405.2 L440.6,405.3 L441.1,404.8 L441.7,403.9 L442.4,403.1 L442.9,402.6 L443.2,402.7 L443.3,403.3 L443.1,404.3 L443.0,405.3 L443.0,406.0 L443.3,406.1 L443.8,405.6 L444.5,404.9 L445.2,404.2 L445.8,403.8 L446.0,404.0 L446.0,404.6 L445.7,405.7 L445.5,406.7 L445.4,407.4 L445.6,407.5 L446.1,407.2 L446.9,406.6 L447.6,406.0 L448.2,405.7 L448.4,406.0 L448.3,406.7 L447.9,407.7 L447.6,408.7 L447.4,409.4 L447.6,409.7 L448.1,409.5 L448.8,409.0 L449.6,408.5 L450.1,408.4 L450.3,408.7 L450.1,409.4 L449.6,410.4 L449.2,411.4 L448.9,412.1 L449.1,412.4 L449.6,412.3 L450.3,412.0 L451.1,411.7 L451.6,411.6 L451.7,412.0 L451.4,412.7 L450.9,413.7 L450.3,414.6 L450.0,415.4 L450.1,415.7 L450.6,415.7 L451.3,415.5 L452.0,415.4 L452.5,415.4 L452.5,415.8 L452.2,416.6 L451.6,417.5 L451.0,418.4 L450.6,419.1 L450.6,419.4 L451.0,419.6 L451.7,419.5 L452.4,419.5 L452.8,419.7 L452.8,420.2 L452.4,420.9 L451.7,421.7 L451.0,422.5 L450.6,423.1 L450.6,423.5 L451.0,423.8 L451.6,423.9 L452.2,424.1 L452.6,424.4 L452.5,424.8 L452.0,425.5 L451.3,426.2 L450.6,426.9 L450.1,427.5 L450.0,427.9 L450.4,428.2 L450.9,428.5 L451.4,428.8 L451.7,429.2 L451.6,429.7 L451.1,430.3 L450.4,430.9 L449.6,431.5 L449.1,432.0 L449.0,432.4 L449.2,432.8 L449.7,433.3 L450.1,433.8 L450.4,434.2 L450.2,434.8 L449.7,435.2 L448.9,435.7 L448.2,436.1 L447.6,436.5 L447.5,437.0 L447.6,437.5 L448.0,438.1 L448.3,438.7 L448.5,439.3 L448.2,439.7 L447.7,440.1 L447.0,440.4 L446.2,440.7 L445.7,441.0 L445.5,441.5 L445.6,442.1 L445.8,442.8" fill="#fff" stroke="#000" stroke-width="0.9"/>
<ellipse cx="439.5" cy="433.0" rx="4.6" ry="5.8" transform="rotate(25 439.5 433.0)" fill="#fff" stroke="#000" stroke-width="1.0"/>
<path d="M436.7,438.1 L450.2,446.4 L455.8,436.2 L442.3,427.9 Z" fill="#fff" stroke="none"/>
<line x1="436.7" y1="438.1" x2="450.2" y2="446.4" stroke="#000" stroke-width="1.0" />
<line x1="455.8" y1="436.2" x2="442.3" y2="427.9" stroke="#000" stroke-width="1.0" />
<ellipse cx="453.0" cy="441.3" rx="4.6" ry="5.8" transform="rotate(25 453.0 441.3)" fill="#fff" stroke="#000" stroke-width="1.0" />
<ellipse cx="453.0" cy="441.3" rx="2.5" ry="3.3" transform="rotate(25 453.0 441.3)" fill="#fff" stroke="#000" stroke-width="0.9"/>
<ellipse cx="438.8" cy="415.4" rx="4.6" ry="5.8" transform="rotate(25 438.8 415.4)" fill="#fff" stroke="#000" stroke-width="1.0"/>
<path d="M436.0,420.5 L449.5,428.8 L455.1,418.6 L441.6,410.3 Z" fill="#fff" stroke="none"/>
<line x1="436.0" y1="420.5" x2="449.5" y2="428.8" stroke="#000" stroke-width="1.0" />
<line x1="455.1" y1="418.6" x2="441.6" y2="410.3" stroke="#000" stroke-width="1.0" />
<ellipse cx="452.3" cy="423.7" rx="4.6" ry="5.8" transform="rotate(25 452.3 423.7)" fill="#fff" stroke="#000" stroke-width="1.0" />
<ellipse cx="452.3" cy="423.7" rx="2.5" ry="3.3" transform="rotate(25 452.3 423.7)" fill="#fff" stroke="#000" stroke-width="0.9"/>
<ellipse cx="425.5" cy="451.2" rx="4.6" ry="5.8" transform="rotate(25 425.5 451.2)" fill="#fff" stroke="#000" stroke-width="1.0"/>
<path d="M422.7,456.3 L436.2,464.6 L441.8,454.4 L428.3,446.1 Z" fill="#fff" stroke="none"/>
<line x1="422.7" y1="456.3" x2="436.2" y2="464.6" stroke="#000" stroke-width="1.0" />
<line x1="441.8" y1="454.4" x2="428.3" y2="446.1" stroke="#000" stroke-width="1.0" />
<ellipse cx="439.0" cy="459.5" rx="4.6" ry="5.8" transform="rotate(25 439.0 459.5)" fill="#fff" stroke="#000" stroke-width="1.0" />
<ellipse cx="439.0" cy="459.5" rx="2.5" ry="3.3" transform="rotate(25 439.0 459.5)" fill="#fff" stroke="#000" stroke-width="0.9"/>
<ellipse cx="424.9" cy="415.4" rx="4.6" ry="5.8" transform="rotate(25 424.9 415.4)" fill="#fff" stroke="#000" stroke-width="1.0"/>
<path d="M422.1,420.5 L435.6,428.8 L441.2,418.6 L427.7,410.3 Z" fill="#fff" stroke="none"/>
<line x1="422.1" y1="420.5" x2="435.6" y2="428.8" stroke="#000" stroke-width="1.0" />
<line x1="441.2" y1="418.6" x2="427.7" y2="410.3" stroke="#000" stroke-width="1.0" />
<ellipse cx="438.4" cy="423.7" rx="4.6" ry="5.8" transform="rotate(25 438.4 423.7)" fill="#fff" stroke="#000" stroke-width="1.0" />
<ellipse cx="438.4" cy="423.7" rx="2.5" ry="3.3" transform="rotate(25 438.4 423.7)" fill="#fff" stroke="#000" stroke-width="0.9"/>
<ellipse cx="412.2" cy="450.6" rx="4.6" ry="5.8" transform="rotate(25 412.2 450.6)" fill="#fff" stroke="#000" stroke-width="1.0"/>
<path d="M409.4,455.7 L422.9,464.0 L428.5,453.8 L415.0,445.5 Z" fill="#fff" stroke="none"/>
<line x1="409.4" y1="455.7" x2="422.9" y2="464.0" stroke="#000" stroke-width="1.0" />
<line x1="428.5" y1="453.8" x2="415.0" y2="445.5" stroke="#000" stroke-width="1.0" />
<ellipse cx="425.7" cy="458.9" rx="4.6" ry="5.8" transform="rotate(25 425.7 458.9)" fill="#fff" stroke="#000" stroke-width="1.0" />
<ellipse cx="425.7" cy="458.9" rx="2.5" ry="3.3" transform="rotate(25 425.7 458.9)" fill="#fff" stroke="#000" stroke-width="0.9"/>
<ellipse cx="411.6" cy="433.0" rx="4.6" ry="5.8" transform="rotate(25 411.6 433.0)" fill="#fff" stroke="#000" stroke-width="1.0"/>
<path d="M408.8,438.1 L422.3,446.4 L427.9,436.2 L414.4,427.9 Z" fill="#fff" stroke="none"/>
<line x1="408.8" y1="438.1" x2="422.3" y2="446.4" stroke="#000" stroke-width="1.0" />
<line x1="427.9" y1="436.2" x2="414.4" y2="427.9" stroke="#000" stroke-width="1.0" />
<ellipse cx="425.1" cy="441.3" rx="4.6" ry="5.8" transform="rotate(25 425.1 441.3)" fill="#fff" stroke="#000" stroke-width="1.0" />
<ellipse cx="425.1" cy="441.3" rx="2.5" ry="3.3" transform="rotate(25 425.1 441.3)" fill="#fff" stroke="#000" stroke-width="0.9"/>
<line x1="437" y1="441" x2="458" y2="452" stroke="#000" stroke-width="0.8" />
<path d="M460.8,414.5 L473.5,410 L496,422.6 L491.8,427" fill="none" stroke="#000" stroke-width="0.9" />
<text transform="translate(486.4 413.6) scale(1.24 1)" font-size="12" font-weight="normal" text-anchor="start">7</text>
<ellipse cx="459.5" cy="452.0" rx="5.6" ry="7.0" transform="rotate(25 459.5 452.0)" fill="#fff" stroke="#000" stroke-width="1.1"/>
<path d="M455.8,457.9 L460.1,461.1 L467.5,449.3 L463.2,446.1 Z" fill="#fff" stroke="none"/>
<line x1="455.8" y1="457.9" x2="460.1" y2="461.1" stroke="#000" stroke-width="1.1" />
<line x1="467.5" y1="449.3" x2="463.2" y2="446.1" stroke="#000" stroke-width="1.1" />
<ellipse cx="463.8" cy="455.2" rx="5.6" ry="7.0" transform="rotate(25 463.8 455.2)" fill="#fff" stroke="#000" stroke-width="1.1" />
<ellipse cx="463.8" cy="455.2" rx="5.6" ry="7.0" transform="rotate(25 463.8 455.2)" fill="#333" stroke="#000" stroke-width="1.0"/>
<ellipse cx="464.3" cy="455.0" rx="2.6" ry="3.6" transform="rotate(25 464.3 455.0)" fill="#fff" stroke="#000" stroke-width="0.8"/>
<text transform="translate(482.8 438.0) scale(1.24 1)" font-size="12" font-weight="normal" text-anchor="start">8</text>
<line x1="485" y1="440.5" x2="469" y2="451" stroke="#000" stroke-width="0.9" />
<path d="M473.8,459.6 L486,465.4 L484.4,468.8 L472.4,462.8 Z" fill="#fff" stroke="#000" stroke-width="0.9" stroke-linejoin="round"/>
<path d="M475.5,460 L474.3,463.4 M477.5,461 L476.3,464.4 M479.5,462 L478.3,465.4 M481.5,462.9 L480.3,466.3" stroke="#000" stroke-width="0.8"/>
<ellipse cx="485.0" cy="466.0" rx="4.6" ry="6.8" transform="rotate(25 485.0 466.0)" fill="#fff" stroke="#000" stroke-width="1.1"/>
<path d="M481.6,471.8 L485.6,474.8 L492.4,463.2 L488.4,460.2 Z" fill="#fff" stroke="none"/>
<line x1="481.6" y1="471.8" x2="485.6" y2="474.8" stroke="#000" stroke-width="1.1" />
<line x1="492.4" y1="463.2" x2="488.4" y2="460.2" stroke="#000" stroke-width="1.1" />
<ellipse cx="489.0" cy="469.0" rx="4.6" ry="6.8" transform="rotate(25 489.0 469.0)" fill="#fff" stroke="#000" stroke-width="1.1" />
<text transform="translate(505.1 447.7) scale(1.24 1)" font-size="12" font-weight="normal" text-anchor="start">17</text>
<line x1="505.7" y1="449.6" x2="492" y2="464.4" stroke="#000" stroke-width="0.9" />
<path d="M508.6,398 C509,395.5 510.5,394.5 512.5,394.6 L522.4,397 L529.8,401.2 L535.1,406.5 C535.8,408 535.2,409.6 533.5,409.8 L528.7,409.7 L518.1,404.4 L510.7,403.3 C509,402.5 508.4,400 508.6,398 Z" fill="#fff" stroke="#000" stroke-width="1.0" stroke-linejoin="round"/>
<path d="M511,398.5 C513,397 517,398 521,400 L527,403.5 M513,401.5 L520.5,403.5" fill="none" stroke="#000" stroke-width="0.8"/>
<ellipse cx="521.5" cy="400.5" rx="2.6" ry="1.6" transform="rotate(20 521.5 400.5)" fill="#fff" stroke="#000" stroke-width="0.8"/>
<path d="M506.5,390.8 C510,389.5 515,390.5 519.2,392.7" fill="none" stroke="#000" stroke-width="1.6"/>
<path d="M508,393 C512,392 516,393.5 519,395.5" fill="none" stroke="#000" stroke-width="0.8"/>
<path d="M533.5,407.5 L545.7,413.5 L544.2,417.6 L532,411.6" fill="#fff" stroke="#000" stroke-width="0.9"/>
<line x1="535" y1="410.5" x2="543" y2="414.8" stroke="#000" stroke-width="0.6" stroke-dasharray="1 0.8"/>
<ellipse cx="548.9" cy="418.1" rx="7.0" ry="4.3" transform="rotate(-12 548.9 418.1)" fill="#fff" stroke="#000" stroke-width="1.0"/>
<path d="M542.0,419.0 L542.0,422.1 L555.8,420.3 L555.8,417.2 Z" fill="#fff" stroke="none"/>
<line x1="542.0" y1="419.0" x2="542.0" y2="422.1" stroke="#000" stroke-width="1.0" />
<line x1="555.8" y1="420.3" x2="555.8" y2="417.2" stroke="#000" stroke-width="1.0" />
<ellipse cx="548.9" cy="421.2" rx="7.0" ry="4.3" transform="rotate(-12 548.9 421.2)" fill="#fff" stroke="#000" stroke-width="1.0" />
<ellipse cx="549.2" cy="417.9" rx="3.6" ry="2.3" transform="rotate(-12 549.2 417.9)" fill="#333" stroke="#000" stroke-width="0.8"/>
<ellipse cx="552.4" cy="405.2" rx="6.2" ry="3.4" transform="rotate(-12 552.4 405.2)" fill="#fff" stroke="#000" stroke-width="1.0"/>
<ellipse cx="552.6" cy="405.0" rx="3.6" ry="1.9" transform="rotate(-12 552.6 405.0)" fill="#666" stroke="#000" stroke-width="0.8"/>
<ellipse cx="551.8" cy="406.0" rx="6.0" ry="3.2" transform="rotate(-12 551.8 406.0)" fill="none" stroke="#000" stroke-width="0.6"/>
<path d="M551.2,392.2 C552.5,390.8 556,391 558.6,392.6 L559.8,395.6 C559,397.6 555.5,398 552.6,397 C550.8,395.8 550.5,393.6 551.2,392.2 Z" fill="#fff" stroke="#000" stroke-width="1.0"/>
<path d="M553.5,392 L552.8,397 M555.5,391.8 L554.8,397.4 M557.5,392.4 L556.8,397.6" stroke="#000" stroke-width="0.8"/>
<line x1="560" y1="395.5" x2="586.4" y2="395.6" stroke="#000" stroke-width="0.8" stroke-dasharray="1.2 0.5"/>
<text transform="translate(587.7 399.9) scale(1.24 1)" font-size="12" font-weight="normal" text-anchor="start">21</text>
<line x1="557.8" y1="406.4" x2="582.4" y2="416.2" stroke="#000" stroke-width="0.9" />
<text transform="translate(583.8 423.0) scale(1.24 1)" font-size="12" font-weight="normal" text-anchor="start">20</text>
<line x1="554" y1="421.5" x2="577.5" y2="433" stroke="#000" stroke-width="0.9" />
<text transform="translate(578.9 441.8) scale(1.24 1)" font-size="12" font-weight="normal" text-anchor="start">18</text>
<ellipse cx="545.0" cy="429.5" rx="4.6" ry="2.4" transform="rotate(-10 545.0 429.5)" fill="none" stroke="#000" stroke-width="1.1"/>
<ellipse cx="545.0" cy="431.7" rx="4.6" ry="2.4" transform="rotate(-10 545.0 431.7)" fill="none" stroke="#000" stroke-width="1.1"/>
<ellipse cx="545.0" cy="433.9" rx="4.6" ry="2.4" transform="rotate(-10 545.0 433.9)" fill="none" stroke="#000" stroke-width="1.1"/>
<ellipse cx="545.0" cy="436.1" rx="4.6" ry="2.4" transform="rotate(-10 545.0 436.1)" fill="none" stroke="#000" stroke-width="1.1"/>
<path d="M540,430 C537,426 536,422 534,420.5 C532.5,419.5 533.5,418.5 535,419.5" fill="none" stroke="#000" stroke-width="0.9"/>
<path d="M541,436 L533,435.5 L532,433.5" fill="none" stroke="#000" stroke-width="0.9"/>
<line x1="549" y1="436.9" x2="572.6" y2="450.6" stroke="#000" stroke-width="0.9" />
<text transform="translate(573.0 460.9) scale(1.24 1)" font-size="12" font-weight="normal" text-anchor="start">19</text>
<path d="M538.5,443.5 C540,442 543.5,442 544.8,443.5 L542,457 L537,456.5 Z" fill="#fff" stroke="#000" stroke-width="1.0"/>
<path d="M539.5,445 L543.5,446 M539,448 L543,449 M538.5,451 L542.5,452 M538,454 L542,455" stroke="#000" stroke-width="1.2"/>
<path d="M530,461 C532,457.5 543,458 545.5,462 L543.5,473 C541,476 534,476 532,472.5 Z" fill="#fff" stroke="#000" stroke-width="1.1"/>
<ellipse cx="537.8" cy="461.0" rx="7.3" ry="2.8" transform="rotate(8 537.8 461.0)" fill="#fff" stroke="#000" stroke-width="1.0"/>
<ellipse cx="537.6" cy="460.8" rx="3.6" ry="1.5" transform="rotate(8 537.6 460.8)" fill="none" stroke="#000" stroke-width="0.8"/>
<line x1="530.8" y1="466.5" x2="544.6" y2="468" stroke="#000" stroke-width="0.8" />
<line x1="533.5" y1="474.5" x2="524" y2="512.5" stroke="#000" stroke-width="0.9" stroke-dasharray="5 1.5"/>
<line x1="539.5" y1="475" x2="529.5" y2="513.5" stroke="#000" stroke-width="0.9" stroke-dasharray="5 1.5"/>
<path d="M517.5,513 C519.5,510.5 527,511 529.7,514.5 L528,524.5 C526,527.5 518.5,527 516.5,524.5 Z" fill="#fff" stroke="#000" stroke-width="1.0"/>
<path d="M519.5,514 L518.5,524 M521.5,514.5 L520.5,525 M523.5,514.8 L522.5,525.2 M525.5,514.8 L524.5,525 M527.5,514.5 L526.5,524.5" stroke="#000" stroke-width="0.8"/>
<path d="M517.5,526 L523.5,527 L522.5,531.5 L517,530.5 Z" fill="#333" stroke="#000" stroke-width="0.8"/>
<path d="M147.5,667 L151,662 L158,660.5 L164.5,662.5 L167.5,667.5 L168,675 L165,680 L158,682 L151.5,680.5 L148,675.5 Z" fill="#fff" stroke="#000" stroke-width="1.2"/>
<path d="M151,662 L152,668 L148,675.5 M152,668 L158.5,667 L165,671 M158.5,667 L164.5,662.5" fill="none" stroke="#000" stroke-width="0.8"/>
<ellipse cx="161.0" cy="673.0" rx="5.2" ry="6.6" transform="rotate(25 161.0 673.0)" fill="#fff" stroke="#000" stroke-width="1.0"/>
<ellipse cx="161.5" cy="673.5" rx="4.0" ry="5.4" transform="rotate(25 161.5 673.5)" fill="#666" stroke="#000" stroke-width="0.9"/>
<path d="M158.5,670 L164.5,672 M158,672.5 L165,675 M158.5,675 L164.5,677.5" stroke="#ddd" stroke-width="0.6"/>
<ellipse cx="176.9" cy="682.3" rx="7.6" ry="10.2" transform="rotate(25 176.9 682.3)" fill="#fff" stroke="#000" stroke-width="1.1"/>
<ellipse cx="178.0" cy="682.0" rx="7.0" ry="9.6" transform="rotate(25 178.0 682.0)" fill="#fff" stroke="#000" stroke-width="1.0"/>
<ellipse cx="178.3" cy="682.2" rx="3.6" ry="5.4" transform="rotate(25 178.3 682.2)" fill="#fff" stroke="#000" stroke-width="1.0"/>
<ellipse cx="194.4" cy="692.0" rx="8.2" ry="11.0" transform="rotate(25 194.4 692.0)" fill="#fff" stroke="#000" stroke-width="1.1"/>
<ellipse cx="195.4" cy="692.0" rx="7.6" ry="10.4" transform="rotate(25 195.4 692.0)" fill="#fff" stroke="#000" stroke-width="1.0"/>
<ellipse cx="196.0" cy="692.0" rx="4.6" ry="6.8" transform="rotate(25 196.0 692.0)" fill="#fff" stroke="#000" stroke-width="1.0"/>
<text transform="translate(130.4 725.6) scale(1.24 1)" font-size="12" font-weight="normal" text-anchor="start">16</text>
<line x1="141.6" y1="715" x2="151.5" y2="681" stroke="#000" stroke-width="0.9" />
<text transform="translate(149.4 736.9) scale(1.24 1)" font-size="12" font-weight="normal" text-anchor="start">15</text>
<line x1="161.3" y1="726.3" x2="171.9" y2="692.5" stroke="#000" stroke-width="0.9" />
<text transform="translate(171.3 749.8) scale(1.24 1)" font-size="12" font-weight="normal" text-anchor="start">14</text>
<line x1="182.5" y1="738.4" x2="189.3" y2="704.5" stroke="#000" stroke-width="0.9" />
<ellipse cx="230.2" cy="712.2" rx="29.0" ry="39.0" transform="rotate(27 230.2 712.2)" fill="#fff" stroke="#000" stroke-width="1.1"/>
<ellipse cx="230.2" cy="712.2" rx="30.0" ry="40.0" transform="rotate(27 230.2 712.2)" fill="none" stroke="#000" stroke-width="4.6" pathLength="80" stroke-dasharray="1.2 0.8"/>
<ellipse cx="230.2" cy="712.2" rx="30.0" ry="40.0" transform="rotate(27 230.2 712.2)" fill="none" stroke="#fff" stroke-width="3.0" pathLength="80" stroke-dasharray="0.6 1.4" stroke-dashoffset="-0.3"/>
<ellipse cx="232.2" cy="713.2" rx="29.5" ry="39.5" transform="rotate(27 232.2 713.2)" fill="#fff" stroke="#000" stroke-width="1.0"/>
<path d="M212.9,747.6 L222.9,753.6 L261.5,684.8 L251.5,678.8 Z" fill="#fff" stroke="none"/>
<line x1="212.9" y1="747.6" x2="222.9" y2="753.6" stroke="#000" stroke-width="1.0" />
<line x1="261.5" y1="684.8" x2="251.5" y2="678.8" stroke="#000" stroke-width="1.0" />
<ellipse cx="242.2" cy="719.2" rx="29.5" ry="39.5" transform="rotate(27 242.2 719.2)" fill="#fff" stroke="#000" stroke-width="1.0" />
<path d="M211.7,749.4 L211.5,749.2 L211.4,748.9 L211.5,748.3 L211.6,747.7 L211.8,747.0 L212.0,746.3 L212.2,745.7 L212.2,745.2 L212.1,745.0 L211.9,744.9 L211.5,744.9 L211.0,745.1 L210.5,745.4 L209.9,745.7 L209.3,746.0 L208.9,746.2 L208.5,746.2 L208.3,746.0 L208.3,745.6 L208.4,745.1 L208.6,744.5 L208.8,743.8 L209.1,743.2 L209.3,742.6 L209.5,742.1 L209.5,741.7 L209.3,741.5 L209.0,741.5 L208.5,741.6 L207.9,741.8 L207.4,742.0 L206.8,742.2 L206.3,742.3 L205.9,742.3 L205.7,742.1 L205.7,741.8 L205.8,741.3 L206.0,740.7 L206.4,740.1 L206.7,739.5 L207.0,738.9 L207.2,738.3 L207.3,738.0 L207.2,737.7 L206.9,737.6 L206.5,737.6 L206.0,737.7 L205.4,737.8 L204.8,737.9 L204.3,738.0 L203.9,737.9 L203.7,737.7 L203.6,737.4 L203.8,737.0 L204.1,736.4 L204.5,735.8 L204.9,735.2 L205.3,734.7 L205.6,734.2 L205.7,733.8 L205.7,733.5 L205.5,733.3 L205.1,733.2 L204.6,733.2 L204.0,733.2 L203.4,733.2 L202.9,733.2 L202.5,733.1 L202.3,732.9 L202.3,732.6 L202.4,732.2 L202.7,731.7 L203.1,731.1 L203.6,730.6 L204.1,730.1 L204.4,729.6 L204.7,729.2 L204.7,728.9 L204.6,728.6 L204.3,728.5 L203.8,728.4 L203.3,728.3 L202.7,728.2 L202.2,728.1 L201.8,727.9 L201.6,727.7 L201.5,727.4 L201.7,727.0 L202.0,726.6 L202.5,726.1 L203.0,725.6 L203.5,725.1 L203.9,724.7 L204.2,724.3 L204.4,724.0 L204.3,723.7 L204.1,723.5 L203.7,723.3 L203.2,723.1 L202.6,722.9 L202.1,722.7 L201.8,722.5 L201.5,722.2 L201.5,721.9 L201.6,721.6 L202.0,721.2 L202.4,720.8 L203.0,720.4 L203.5,720.0 L204.0,719.6 L204.4,719.3 L204.6,718.9 L204.6,718.6 L204.5,718.4 L204.1,718.1 L203.7,717.8 L203.2,717.5 L202.8,717.3 L202.4,717.0 L202.2,716.6 L202.1,716.3 L202.2,716.0 L202.6,715.7 L203.0,715.3 L203.6,715.0 L204.2,714.7 L204.7,714.4 L205.2,714.1 L205.4,713.8 L205.5,713.5 L205.5,713.2 L205.2,712.9 L204.8,712.5 L204.4,712.2 L204.0,711.8 L203.7,711.4 L203.4,711.1 L203.4,710.7 L203.5,710.4 L203.9,710.1 L204.3,709.8 L204.9,709.6 L205.5,709.4 L206.0,709.2 L206.5,708.9 L206.9,708.7 L207.0,708.4 L207.0,708.1 L206.9,707.7 L206.6,707.3 L206.2,706.9 L205.9,706.4 L205.6,706.0 L205.4,705.6 L205.3,705.2 L205.5,704.9 L205.8,704.6 L206.2,704.4 L206.8,704.3 L207.4,704.1 L207.9,704.0 L208.4,703.9 L208.8,703.7 L209.1,703.5 L209.1,703.1 L209.1,702.8 L208.9,702.3 L208.6,701.8 L208.3,701.3 L208.1,700.8 L207.9,700.3 L207.9,699.9 L208.0,699.6 L208.3,699.3 L208.7,699.2 L209.2,699.1 L209.8,699.1 L210.4,699.1 L210.9,699.0 L211.3,698.9 L211.6,698.7 L211.8,698.4 L211.8,698.1 L211.7,697.6 L211.5,697.0 L211.3,696.4 L211.1,695.9 L210.9,695.3 L210.9,694.9 L211.1,694.6 L211.3,694.3 L211.7,694.2 L212.2,694.2 L212.8,694.3 L213.4,694.4 L213.9,694.4 L214.3,694.4 L214.6,694.3 L214.8,694.1 L214.9,693.7 L214.9,693.2 L214.8,692.6 L214.7,692.0 L214.5,691.4 L214.5,690.8 L214.5,690.3 L214.6,690.0 L214.9,689.8 L215.3,689.7 L215.7,689.8 L216.2,689.9 L216.8,690.1 L217.3,690.2 L217.7,690.3 L218.1,690.3 L218.3,690.1 L218.4,689.8 L218.5,689.3 L218.5,688.7 L218.4,688.1 L218.4,687.4 L218.4,686.8 L218.5,686.3 L218.6,685.9 L218.9,685.7 L219.2,685.6 L219.6,685.8 L220.1,686.0 L220.6,686.2 L221.1,686.5 L221.5,686.7 L221.8,686.8 L222.1,686.7 L222.3,686.4 L222.4,686.0 L222.5,685.4 L222.5,684.7 L222.6,684.0 L222.6,683.3 L222.7,682.8 L222.9,682.4 L223.2,682.2 L223.5,682.2 L223.9,682.3 L224.3,682.6 L224.7,683.0 L225.1,683.3 L225.5,683.6 L225.9,683.8 L226.2,683.8 L226.4,683.6 L226.6,683.2 L226.7,682.6 L226.8,682.0 L226.9,681.2 L227.1,680.6 L227.3,680.0 L227.5,679.6 L227.7,679.4 L228.0,679.4 L228.4,679.5 L228.7,679.9 L229.1,680.3 L229.4,680.7 L229.8,681.1 L230.1,681.4 L230.4,681.5 L230.6,681.4 L230.9,681.0 L231.1,680.5 L231.3,679.9 L231.5,679.2 L231.7,678.5 L231.9,677.9 L232.2,677.5 L232.4,677.3 L232.7,677.2 L233.0,677.4 L233.3,677.8 L233.6,678.3 L233.9,678.8 L234.2,679.3 L234.4,679.7 L234.7,679.8 L235.0,679.8 L235.2,679.6 L235.5,679.1 L235.7,678.5 L236.0,677.9 L236.3,677.2 L236.6,676.6 L236.9,676.1 L237.2,675.9 L237.5,675.9 L237.7,676.1 L238.0,676.5 L238.2,677.0 L238.4,677.6 L238.6,678.2 L238.8,678.6 L239.1,678.9 L239.3,679.0 L239.6,678.8 L239.9,678.4 L240.2,677.9 L240.5,677.3 L240.9,676.6 L241.2,676.0 L241.6,675.6 L241.9,675.4 L242.2,675.3 L242.4,675.6 L242.6,676.0 L242.8,676.5 L242.9,677.2 L243.0,677.8 L243.2,678.3 L243.3,678.7 L243.6,678.8 L243.8,678.8 L244.1,678.5 L244.5,678.0 L244.9,677.4 L245.3,676.8 L245.7,676.3 L246.1,675.8 L246.5,675.6 L246.8,675.6 L247.0,675.8 L247.1,676.2 L247.2,676.8 L247.3,677.4 L247.3,678.1 L247.4,678.7 L247.5,679.1 L247.6,679.4 L247.9,679.4 L248.2,679.2 L248.6,678.8 L249.1,678.4 L249.5,677.8 L250.0,677.3 L250.4,676.9 L250.8,676.6 L251.1,676.6 L251.3,676.8 L251.4,677.2 L251.4,677.8 L251.4,678.5 L251.4,679.2 L251.4,679.8 L251.4,680.3 L251.5,680.7 L251.7,680.8 L252.0,680.7 L252.4,680.4 L252.9,680.0 L253.4,679.5 L253.9,679.0 L254.4,678.7 L254.8,678.5 L255.1,678.4 L255.3,678.6 L255.4,679.0 L255.4,679.6 L255.3,680.3 L255.2,681.0 L255.1,681.6 L255.0,682.2 L255.0,682.6 L255.2,682.8 L255.5,682.8 L255.9,682.6 L256.4,682.3 L256.9,681.9 L257.5,681.5 L258.0,681.2 L258.4,681.0 L258.8,681.0 L258.9,681.2 L259.0,681.6 L258.9,682.1 L258.8,682.8 L258.6,683.5 L258.4,684.1 L258.2,684.7 L258.2,685.2 L258.3,685.5 L258.5,685.5 L258.9,685.5 L259.4,685.2 L260.0,684.9 L260.5,684.6 L261.1,684.4 L261.6,684.2 L261.9,684.2 L262.1,684.4 L262.1,684.8 L262.0,685.3 L261.8,685.9" fill="none" stroke="#000" stroke-width="0.8"/>
<line x1="205.4" y1="743.8" x2="218.4" y2="751.5" stroke="#000" stroke-width="0.8" />
<line x1="201.8" y1="740.1" x2="214.8" y2="747.8" stroke="#000" stroke-width="0.8" />
<line x1="198.9" y1="735.5" x2="211.9" y2="743.2" stroke="#000" stroke-width="0.8" />
<line x1="196.9" y1="730.3" x2="209.9" y2="738.0" stroke="#000" stroke-width="0.8" />
<line x1="195.7" y1="724.6" x2="208.7" y2="732.3" stroke="#000" stroke-width="0.8" />
<line x1="195.4" y1="718.4" x2="208.4" y2="726.1" stroke="#000" stroke-width="0.8" />
<line x1="196.0" y1="712.1" x2="209.0" y2="719.8" stroke="#000" stroke-width="0.8" />
<line x1="197.5" y1="705.7" x2="210.5" y2="713.4" stroke="#000" stroke-width="0.8" />
<line x1="199.8" y1="699.4" x2="212.8" y2="707.1" stroke="#000" stroke-width="0.8" />
<line x1="202.9" y1="693.5" x2="215.9" y2="701.2" stroke="#000" stroke-width="0.8" />
<line x1="206.7" y1="688.0" x2="219.7" y2="695.7" stroke="#000" stroke-width="0.8" />
<line x1="211.1" y1="683.1" x2="224.1" y2="690.8" stroke="#000" stroke-width="0.8" />
<line x1="216.0" y1="679.0" x2="229.0" y2="686.7" stroke="#000" stroke-width="0.8" />
<line x1="221.1" y1="675.8" x2="234.1" y2="683.5" stroke="#000" stroke-width="0.8" />
<line x1="226.5" y1="673.5" x2="239.5" y2="681.2" stroke="#000" stroke-width="0.8" />
<line x1="232.0" y1="672.3" x2="245.0" y2="680.0" stroke="#000" stroke-width="0.8" />
<line x1="237.3" y1="672.1" x2="250.3" y2="679.8" stroke="#000" stroke-width="0.8" />
<line x1="242.4" y1="673.0" x2="255.4" y2="680.7" stroke="#000" stroke-width="0.8" />
<line x1="247.1" y1="674.9" x2="260.1" y2="682.6" stroke="#000" stroke-width="0.8" />
<line x1="251.2" y1="677.7" x2="264.2" y2="685.4" stroke="#000" stroke-width="0.8" />
<ellipse cx="244.2" cy="720.2" rx="31.0" ry="41.5" transform="rotate(27 244.2 720.2)" fill="#fff" stroke="#000" stroke-width="1.2"/>
<ellipse cx="244.7" cy="719.9" rx="28.5" ry="39.0" transform="rotate(27 244.7 719.9)" fill="none" stroke="#000" stroke-width="0.9"/>
<ellipse cx="246.7" cy="719.0" rx="20.5" ry="30.0" transform="rotate(27 246.7 719.0)" fill="none" stroke="#000" stroke-width="1.0"/>
<ellipse cx="247.2" cy="718.7" rx="18.5" ry="28.0" transform="rotate(27 247.2 718.7)" fill="none" stroke="#000" stroke-width="0.7"/>
<ellipse cx="255.3" cy="702.5" rx="1.4" ry="1.9" transform="rotate(27 255.3 702.5)" fill="#fff" stroke="#000" stroke-width="0.8"/>
<ellipse cx="241.0" cy="702.5" rx="1.4" ry="1.9" transform="rotate(27 241.0 702.5)" fill="#fff" stroke="#000" stroke-width="0.8"/>
<ellipse cx="228.9" cy="718.4" rx="1.4" ry="1.9" transform="rotate(27 228.9 718.4)" fill="#fff" stroke="#000" stroke-width="0.8"/>
<ellipse cx="228.1" cy="735.8" rx="1.4" ry="1.9" transform="rotate(27 228.1 735.8)" fill="#fff" stroke="#000" stroke-width="0.8"/>
<ellipse cx="240.2" cy="738.8" rx="1.4" ry="1.9" transform="rotate(27 240.2 738.8)" fill="#fff" stroke="#000" stroke-width="0.8"/>
<ellipse cx="256.1" cy="720.0" rx="1.4" ry="1.9" transform="rotate(27 256.1 720.0)" fill="#fff" stroke="#000" stroke-width="0.8"/>
<ellipse cx="243.2" cy="719.7" rx="10.5" ry="13.5" transform="rotate(27 243.2 719.7)" fill="#fff" stroke="#000" stroke-width="1.0"/>
<path d="M236.6,731.5 L239.1,733.0 L252.3,709.4 L249.8,707.9 Z" fill="#fff" stroke="none"/>
<line x1="236.6" y1="731.5" x2="239.1" y2="733.0" stroke="#000" stroke-width="1.0" />
<line x1="252.3" y1="709.4" x2="249.8" y2="707.9" stroke="#000" stroke-width="1.0" />
<ellipse cx="245.7" cy="721.2" rx="10.5" ry="13.5" transform="rotate(27 245.7 721.2)" fill="#fff" stroke="#000" stroke-width="1.0" />
<ellipse cx="246.3" cy="722.0" rx="5.6" ry="7.6" transform="rotate(27 246.3 722.0)" fill="#fff" stroke="#000" stroke-width="1.0"/>
<ellipse cx="246.3" cy="722.0" rx="4.6" ry="6.6" transform="rotate(27 246.3 722.0)" fill="none" stroke="#000" stroke-width="2.0" pathLength="40" stroke-dasharray="0.6 1"/>
<text transform="translate(191.7 792.1) scale(1.24 1)" font-size="12" font-weight="normal" text-anchor="start">3</text>
<line x1="200.6" y1="781.5" x2="216.5" y2="759.6" stroke="#000" stroke-width="0.9" />
<ellipse cx="275.5" cy="740.5" rx="9.4" ry="12.6" transform="rotate(25 275.5 740.5)" fill="#fff" stroke="#000" stroke-width="1.1"/>
<ellipse cx="276.6" cy="740.5" rx="8.7" ry="12.0" transform="rotate(25 276.6 740.5)" fill="#fff" stroke="#000" stroke-width="1.0"/>
<ellipse cx="277.3" cy="740.8" rx="5.2" ry="7.8" transform="rotate(25 277.3 740.8)" fill="#fff" stroke="#000" stroke-width="1.0"/>
<text transform="translate(230.1 815.0) scale(1.24 1)" font-size="12" font-weight="normal" text-anchor="start">2</text>
<line x1="239.3" y1="803.3" x2="271.7" y2="755" stroke="#000" stroke-width="0.9" />
<ellipse cx="320.5" cy="764.5" rx="34.0" ry="46.0" transform="rotate(27 320.5 764.5)" fill="#fff" stroke="#000" stroke-width="1.1"/>
<ellipse cx="322.5" cy="765.5" rx="34.5" ry="46.5" transform="rotate(27 322.5 765.5)" fill="#fff" stroke="#000" stroke-width="1.1"/>
<path d="M300.3,806.4 L318.3,816.4 L362.7,734.6 L344.7,724.6 Z" fill="#fff" stroke="none"/>
<line x1="300.3" y1="806.4" x2="318.3" y2="816.4" stroke="#000" stroke-width="1.1" />
<line x1="362.7" y1="734.6" x2="344.7" y2="724.6" stroke="#000" stroke-width="1.1" />
<ellipse cx="340.5" cy="775.5" rx="34.5" ry="46.5" transform="rotate(27 340.5 775.5)" fill="#fff" stroke="#000" stroke-width="1.1" />
<path d="M294.0,798.1 L291.0,800.7 L287.5,798.7 L283.8,791.9 L287.3,793.9 L290.8,791.9 Z" fill="#fff" stroke="#000" stroke-width="0.9" stroke-linejoin="round"/>
<path d="M291.0,800.7 L287.3,793.9" stroke="#000" stroke-width="0.7"/>
<path d="M288.4,781.3 L284.5,782.2 L281.0,780.2 L280.9,771.4 L284.4,773.4 L288.3,773.2 Z" fill="#fff" stroke="#000" stroke-width="0.9" stroke-linejoin="round"/>
<path d="M284.5,782.2 L284.4,773.4" stroke="#000" stroke-width="0.7"/>
<path d="M290.7,761.2 L286.8,760.2 L283.3,758.2 L286.6,749.4 L290.1,751.4 L293.8,753.1 Z" fill="#fff" stroke="#000" stroke-width="0.9" stroke-linejoin="round"/>
<path d="M286.8,760.2 L290.1,751.4" stroke="#000" stroke-width="0.7"/>
<path d="M300.3,742.2 L297.3,739.6 L293.8,737.6 L299.9,730.7 L303.4,732.7 L305.9,735.8 Z" fill="#fff" stroke="#000" stroke-width="0.9" stroke-linejoin="round"/>
<path d="M297.3,739.6 L303.4,732.7" stroke="#000" stroke-width="0.7"/>
<path d="M315.2,728.6 L313.7,724.9 L310.2,722.9 L317.8,719.4 L321.3,721.4 L322.1,725.3 Z" fill="#fff" stroke="#000" stroke-width="0.9" stroke-linejoin="round"/>
<path d="M313.7,724.9 L321.3,721.4" stroke="#000" stroke-width="0.7"/>
<path d="M332.2,723.2 L332.5,719.2 L329.0,717.2 L336.4,717.9 L339.9,719.9 L338.8,723.7 Z" fill="#fff" stroke="#000" stroke-width="0.9" stroke-linejoin="round"/>
<path d="M332.5,719.2 L339.9,719.9" stroke="#000" stroke-width="0.7"/>
<path d="M308.8,810.9 L307.3,809.8 L305.9,808.7 L304.6,807.4 L303.3,806.0 L302.1,804.6 L301.1,803.0 L300.1,801.4 L299.1,799.6 L298.3,797.8 L297.6,796.0 L296.9,794.0 L296.4,792.0 L296.0,789.9 L295.6,787.8 L295.4,785.6 L295.2,783.4 L295.2,781.2 L295.3,778.9 L295.4,776.6 L295.7,774.3 L296.1,772.0 L296.6,769.7 L297.1,767.4 L297.8,765.1 L298.6,762.8 L299.4,760.5 L300.4,758.3 L301.4,756.1 L302.5,753.9 L303.7,751.8 L305.0,749.7 L306.4,747.7 L307.8,745.8 L309.3,743.9 L310.8,742.1 L312.5,740.4 L314.1,738.8 L315.8,737.2 L317.6,735.8 L319.4,734.4 L321.3,733.1 L323.2,732.0 L325.1,731.0 L327.0,730.0 L328.9,729.2 L330.9,728.5 L332.8,727.9 L334.8,727.4 L336.7,727.1 L338.6,726.8 L340.6,726.7 L342.5,726.7 L344.3,726.9 L346.2,727.1 L348.0,727.5 L349.7,728.0 L351.4,728.6 L353.1,729.3 L354.7,730.1 L356.2,731.1" fill="none" stroke="#000" stroke-width="0.8"/>
<path d="M312.8,812.9 L311.3,811.8 L309.9,810.7 L308.6,809.4 L307.3,808.0 L306.1,806.6 L305.1,805.0 L304.1,803.4 L303.1,801.6 L302.3,799.8 L301.6,798.0 L300.9,796.0 L300.4,794.0 L300.0,791.9 L299.6,789.8 L299.4,787.6 L299.2,785.4 L299.2,783.2 L299.3,780.9 L299.4,778.6 L299.7,776.3 L300.1,774.0 L300.6,771.7 L301.1,769.4 L301.8,767.1 L302.6,764.8 L303.4,762.5 L304.4,760.3 L305.4,758.1 L306.5,755.9 L307.7,753.8 L309.0,751.7 L310.4,749.7 L311.8,747.8 L313.3,745.9 L314.8,744.1 L316.5,742.4 L318.1,740.8 L319.8,739.2 L321.6,737.8 L323.4,736.4 L325.3,735.1 L327.2,734.0 L329.1,733.0 L331.0,732.0 L332.9,731.2 L334.9,730.5 L336.8,729.9 L338.8,729.4 L340.7,729.1 L342.6,728.8 L344.6,728.7 L346.5,728.7 L348.3,728.9 L350.2,729.1 L352.0,729.5 L353.7,730.0 L355.4,730.6 L357.1,731.3 L358.7,732.1 L360.2,733.1" fill="none" stroke="#000" stroke-width="0.8" stroke-dasharray="6 2"/>
<ellipse cx="344.5" cy="777.5" rx="36.0" ry="49.5" transform="rotate(27 344.5 777.5)" fill="#fff" stroke="#000" stroke-width="1.2"/>
<ellipse cx="345.5" cy="777.0" rx="34.0" ry="47.5" transform="rotate(27 345.5 777.0)" fill="none" stroke="#000" stroke-width="0.8" stroke-dasharray="3 1"/>
<ellipse cx="347.5" cy="776.0" rx="28.0" ry="40.0" transform="rotate(27 347.5 776.0)" fill="none" stroke="#000" stroke-width="1.0"/>
<ellipse cx="348.0" cy="775.7" rx="26.0" ry="38.0" transform="rotate(27 348.0 775.7)" fill="none" stroke="#000" stroke-width="0.7"/>
<path d="M323.9,758.9 L324.2,758.3 L324.6,757.7 L325.1,757.1 L325.5,756.5 L325.9,755.9 L326.3,755.3 L326.8,754.8 L327.2,754.2 L327.6,753.6 L328.1,753.1 L328.6,752.5 L329.0,752.0 L329.5,751.5 L330.0,751.0 L330.5,750.5 L330.9,750.0 L331.4,749.5 L331.9,749.0 L332.4,748.5 L332.9,748.0 L333.4,747.6 L334.0,747.1 L334.5,746.7 L335.0,746.3 L335.5,745.8 L336.0,745.4 L336.6,745.0 L337.1,744.7 L337.6,744.3 L338.2,743.9 L338.7,743.6 L339.3,743.2 L339.8,742.9 L340.4,742.6 L340.9,742.2 L341.5,741.9 L342.0,741.6 L342.6,741.4 L343.1,741.1 L343.7,740.8 L344.2,740.6 L344.8,740.4 L345.4,740.1 L345.9,739.9 L346.5,739.7 L347.0,739.6 L347.6,739.4 L348.2,739.2 L348.7,739.1 L349.3,738.9 L349.8,738.8 L350.4,738.7 L350.9,738.6 L351.5,738.5 L352.0,738.4 L352.6,738.4 L353.1,738.3 L353.7,738.3 L354.2,738.3 L354.7,738.2" fill="none" stroke="#000" stroke-width="6" stroke-dasharray="1.5 1.6"/>
<path d="M326.5,760.7 L326.8,760.2 L327.2,759.6 L327.6,759.1 L327.9,758.5 L328.3,758.0 L328.7,757.5 L329.1,756.9 L329.5,756.4 L329.9,755.9 L330.3,755.4 L330.8,754.9 L331.2,754.4 L331.6,753.9 L332.0,753.4 L332.5,753.0 L332.9,752.5 L333.4,752.0 L333.8,751.6 L334.3,751.2 L334.7,750.7 L335.2,750.3 L335.6,749.9 L336.1,749.5 L336.6,749.1 L337.0,748.7 L337.5,748.3 L338.0,747.9 L338.5,747.6 L339.0,747.2 L339.5,746.9 L339.9,746.6 L340.4,746.2 L340.9,745.9 L341.4,745.6 L341.9,745.3 L342.4,745.0 L342.9,744.8 L343.4,744.5 L343.9,744.3 L344.4,744.0 L344.9,743.8 L345.4,743.6 L345.9,743.4 L346.4,743.2 L346.9,743.0 L347.4,742.8 L347.9,742.6 L348.4,742.5 L348.9,742.3 L349.4,742.2 L349.9,742.1 L350.4,742.0 L350.9,741.9 L351.4,741.8 L351.9,741.7 L352.4,741.6 L352.9,741.6 L353.3,741.6 L353.8,741.5 L354.3,741.5" fill="none" stroke="#000" stroke-width="0.9"/>
<g transform="translate(354.4 752.5) rotate(-10)"><rect x="-6" y="-4.6" width="12" height="9.2" fill="#fff" stroke="#000" stroke-width="1.1"/><path d="M-4.2,-3.2 V3.6 M-2.1,-3.2 V3.6 M0,-3.2 V3.6 M2.1,-3.2 V3.6 M4.2,-3.2 V3.6" stroke="#000" stroke-width="1.2"/><path d="M-6,-2.2 H6" stroke="#000" stroke-width="0.9"/></g>
<g transform="translate(370 770) rotate(70)"><rect x="-6" y="-4.6" width="12" height="9.2" fill="#fff" stroke="#000" stroke-width="1.1"/><path d="M-4.2,-3.2 V3.6 M-2.1,-3.2 V3.6 M0,-3.2 V3.6 M2.1,-3.2 V3.6 M4.2,-3.2 V3.6" stroke="#000" stroke-width="1.2"/><path d="M-6,-2.2 H6" stroke="#000" stroke-width="0.9"/></g>
<g transform="translate(361.5 797.5) rotate(-50)"><rect x="-6" y="-4.6" width="12" height="9.2" fill="#fff" stroke="#000" stroke-width="1.1"/><path d="M-4.2,-3.2 V3.6 M-2.1,-3.2 V3.6 M0,-3.2 V3.6 M2.1,-3.2 V3.6 M4.2,-3.2 V3.6" stroke="#000" stroke-width="1.2"/><path d="M-6,-2.2 H6" stroke="#000" stroke-width="0.9"/></g>
<g transform="translate(334 807) rotate(20)"><rect x="-6" y="-4.6" width="12" height="9.2" fill="#fff" stroke="#000" stroke-width="1.1"/><path d="M-4.2,-3.2 V3.6 M-2.1,-3.2 V3.6 M0,-3.2 V3.6 M2.1,-3.2 V3.6 M4.2,-3.2 V3.6" stroke="#000" stroke-width="1.2"/><path d="M-6,-2.2 H6" stroke="#000" stroke-width="0.9"/></g>
<g transform="translate(323.5 791) rotate(75)"><rect x="-6" y="-4.6" width="12" height="9.2" fill="#fff" stroke="#000" stroke-width="1.1"/><path d="M-4.2,-3.2 V3.6 M-2.1,-3.2 V3.6 M0,-3.2 V3.6 M2.1,-3.2 V3.6 M4.2,-3.2 V3.6" stroke="#000" stroke-width="1.2"/><path d="M-6,-2.2 H6" stroke="#000" stroke-width="0.9"/></g>
<g transform="translate(336.5 764.5) rotate(-40)"><rect x="-6" y="-4.6" width="12" height="9.2" fill="#fff" stroke="#000" stroke-width="1.1"/><path d="M-4.2,-3.2 V3.6 M-2.1,-3.2 V3.6 M0,-3.2 V3.6 M2.1,-3.2 V3.6 M4.2,-3.2 V3.6" stroke="#000" stroke-width="1.2"/><path d="M-6,-2.2 H6" stroke="#000" stroke-width="0.9"/></g>
<ellipse cx="368.0" cy="754.0" rx="2.4" ry="3.0" transform="rotate(27 368.0 754.0)" fill="#fff" stroke="#000" stroke-width="0.9"/>
<ellipse cx="325.4" cy="776.7" rx="2.4" ry="3.0" transform="rotate(27 325.4 776.7)" fill="#fff" stroke="#000" stroke-width="0.9"/>
<ellipse cx="347.1" cy="807.5" rx="2.4" ry="3.0" transform="rotate(27 347.1 807.5)" fill="#fff" stroke="#000" stroke-width="0.9"/>
<path d="M361.5,788.0 L361.7,788.4 L361.9,788.7 L362.0,789.0 L362.0,789.4 L362.0,789.6 L361.9,789.8 L361.7,790.0 L361.4,790.1 L361.1,790.1 L360.7,790.1 L360.3,790.1 L359.9,790.0 L359.5,790.0 L359.2,790.0 L358.9,790.0 L358.7,790.1 L358.6,790.2 L358.5,790.4 L358.5,790.7 L358.6,791.0 L358.6,791.4 L358.7,791.9 L358.8,792.3 L358.8,792.7 L358.8,793.1 L358.8,793.5 L358.7,793.7 L358.6,793.9 L358.3,794.0 L358.1,794.0 L357.8,794.0 L357.5,793.8 L357.1,793.6 L356.8,793.4 L356.5,793.2 L356.2,793.1 L355.9,793.0 L355.7,792.9 L355.6,793.0 L355.4,793.2 L355.3,793.4 L355.3,793.8 L355.2,794.2 L355.2,794.6 L355.1,795.1 L355.0,795.6 L354.9,796.0 L354.8,796.3 L354.6,796.6 L354.4,796.7 L354.2,796.8 L354.0,796.7 L353.7,796.5 L353.5,796.3 L353.3,796.0 L353.0,795.6 L352.8,795.3 L352.6,795.0 L352.4,794.8 L352.3,794.6 L352.1,794.6 L351.9,794.7 L351.8,794.9 L351.6,795.2 L351.4,795.6 L351.2,796.0 L351.0,796.4 L350.8,796.9 L350.6,797.3 L350.4,797.6 L350.2,797.8 L349.9,797.9 L349.7,797.9 L349.6,797.7 L349.4,797.5 L349.3,797.2 L349.2,796.8 L349.1,796.3 L349.0,795.9 L348.9,795.5 L348.8,795.2 L348.7,795.0 L348.6,794.9 L348.4,794.9 L348.2,795.0 L348.0,795.2 L347.7,795.5 L347.4,795.8 L347.1,796.2 L346.8,796.6 L346.5,796.9 L346.2,797.1 L345.9,797.3 L345.7,797.3 L345.5,797.2 L345.4,797.1 L345.3,796.8 L345.3,796.4 L345.3,795.9 L345.3,795.5 L345.4,795.0 L345.4,794.6 L345.5,794.2 L345.4,793.9 L345.4,793.7 L345.3,793.6 L345.1,793.6 L344.8,793.7 L344.5,793.9 L344.2,794.1 L343.8,794.4 L343.4,794.6 L343.0,794.8 L342.7,795.0 L342.4,795.1 L342.2,795.0 L342.0,794.9 L341.9,794.7 L342.0,794.4 L342.0,794.0 L342.2,793.6 L342.3,793.1 L342.5,792.7 L342.7,792.2 L342.8,791.9 L342.9,791.5 L342.9,791.3 L342.9,791.1 L342.7,791.1 L342.5,791.0 L342.2,791.1 L341.8,791.2 L341.4,791.3 L341.0,791.4 L340.6,791.4 L340.3,791.5 L340.0,791.4 L339.8,791.3 L339.7,791.2 L339.6,790.9 L339.7,790.6 L339.9,790.3 L340.1,789.9 L340.4,789.5 L340.7,789.1 L341.0,788.8 L341.2,788.4 L341.4,788.1 L341.5,787.9 L341.6,787.7 L341.5,787.5 L341.3,787.4 L341.0,787.4 L340.7,787.3 L340.3,787.2 L339.9,787.2 L339.6,787.1 L339.2,787.0 L339.0,786.8 L338.8,786.6 L338.7,786.4 L338.8,786.2 L338.9,785.9 L339.1,785.7 L339.4,785.4 L339.8,785.1 L340.2,784.8 L340.5,784.6 L340.9,784.3 L341.1,784.1 L341.3,783.9 L341.4,783.7 L341.4,783.5 L341.3,783.3 L341.1,783.1 L340.9,783.0 L340.6,782.7 L340.2,782.5 L339.9,782.3 L339.7,782.0 L339.5,781.8 L339.4,781.5 L339.3,781.3 L339.4,781.1 L339.6,780.9 L339.9,780.7 L340.2,780.5 L340.6,780.4 L341.0,780.2 L341.4,780.1 L341.8,780.0 L342.1,779.9 L342.3,779.8 L342.5,779.6 L342.6,779.4 L342.6,779.2 L342.5,779.0 L342.3,778.7 L342.1,778.4 L341.9,778.0 L341.7,777.6 L341.5,777.3 L341.4,777.0 L341.4,776.6 L341.4,776.4 L341.5,776.2 L341.7,776.0 L342.0,775.9 L342.3,775.9 L342.7,775.9 L343.1,775.9 L343.5,776.0 L343.9,776.0 L344.2,776.0 L344.5,776.0 L344.7,775.9 L344.8,775.8 L344.9,775.6 L344.9,775.3 L344.8,775.0 L344.8,774.6 L344.7,774.1 L344.6,773.7 L344.6,773.3 L344.6,772.9 L344.6,772.5 L344.7,772.3 L344.8,772.1 L345.1,772.0 L345.3,772.0 L345.6,772.0 L345.9,772.2 L346.3,772.4 L346.6,772.6 L346.9,772.8 L347.2,772.9 L347.5,773.0 L347.7,773.1 L347.8,773.0 L348.0,772.8 L348.1,772.6 L348.1,772.2 L348.2,771.8 L348.2,771.4 L348.3,770.9 L348.4,770.4 L348.5,770.0 L348.6,769.7 L348.8,769.4 L349.0,769.3 L349.2,769.2 L349.4,769.3 L349.7,769.5 L349.9,769.7 L350.1,770.0 L350.4,770.4 L350.6,770.7 L350.8,771.0 L351.0,771.2 L351.1,771.4 L351.3,771.4 L351.5,771.3 L351.6,771.1 L351.8,770.8 L352.0,770.4 L352.2,770.0 L352.4,769.6 L352.6,769.1 L352.8,768.7 L353.0,768.4 L353.2,768.2 L353.5,768.1 L353.7,768.1 L353.8,768.3 L354.0,768.5 L354.1,768.8 L354.2,769.2 L354.3,769.7 L354.4,770.1 L354.5,770.5 L354.6,770.8 L354.7,771.0 L354.8,771.1 L355.0,771.1 L355.2,771.0 L355.4,770.8 L355.7,770.5 L356.0,770.2 L356.3,769.8 L356.6,769.4 L356.9,769.1 L357.2,768.9 L357.5,768.7 L357.7,768.7 L357.9,768.8 L358.0,768.9 L358.1,769.2 L358.1,769.6 L358.1,770.1 L358.1,770.5 L358.0,771.0 L358.0,771.4 L357.9,771.8 L358.0,772.1 L358.0,772.3 L358.1,772.4 L358.3,772.4 L358.6,772.3 L358.9,772.1 L359.2,771.9 L359.6,771.6 L360.0,771.4 L360.4,771.2 L360.7,771.0 L361.0,770.9 L361.2,771.0 L361.4,771.1 L361.5,771.3 L361.4,771.6 L361.4,772.0 L361.2,772.4 L361.1,772.9 L360.9,773.3 L360.7,773.8 L360.6,774.1 L360.5,774.5 L360.5,774.7 L360.5,774.9 L360.7,774.9 L360.9,775.0 L361.2,774.9 L361.6,774.8 L362.0,774.7 L362.4,774.6 L362.8,774.6 L363.1,774.5 L363.4,774.6 L363.6,774.7 L363.7,774.8 L363.8,775.1 L363.7,775.4 L363.5,775.7 L363.3,776.1 L363.0,776.5 L362.7,776.9 L362.4,777.2 L362.2,777.6 L362.0,777.9 L361.9,778.1 L361.8,778.3 L361.9,778.5 L362.1,778.6 L362.4,778.6 L362.7,778.7 L363.1,778.8 L363.5,778.8 L363.8,778.9 L364.2,779.0 L364.4,779.2 L364.6,779.4 L364.7,779.6 L364.6,779.8 L364.5,780.1 L364.3,780.3 L364.0,780.6 L363.6,780.9 L363.2,781.2 L362.9,781.4 L362.5,781.7 L362.3,781.9 L362.1,782.1 L362.0,782.3 L362.0,782.5 L362.1,782.7 L362.3,782.9 L362.5,783.0 L362.8,783.3 L363.2,783.5 L363.5,783.7 L363.7,784.0 L363.9,784.2 L364.0,784.5 L364.1,784.7 L364.0,784.9 L363.8,785.1 L363.5,785.3 L363.2,785.5 L362.8,785.6 L362.4,785.8 L362.0,785.9 L361.6,786.0 L361.3,786.1 L361.1,786.2 L360.9,786.4 L360.8,786.6 L360.8,786.8 L360.9,787.0 L361.1,787.3 L361.3,787.6 L361.5,788.0" fill="#fff" stroke="#000" stroke-width="1.0"/>
<ellipse cx="353.0" cy="782.5" rx="7.6" ry="10.0" transform="rotate(27 353.0 782.5)" fill="#fff" stroke="#000" stroke-width="1.1"/>
<ellipse cx="353.6" cy="782.2" rx="6.4" ry="8.8" transform="rotate(27 353.6 782.2)" fill="none" stroke="#000" stroke-width="0.7"/>
<text transform="translate(270.1 835.0) scale(1.24 1)" font-size="12" font-weight="normal" text-anchor="start">1</text>
<line x1="277.3" y1="828.3" x2="295" y2="813.3" stroke="#000" stroke-width="0.9" />
<ellipse cx="380.5" cy="797.0" rx="7.0" ry="9.6" transform="rotate(25 380.5 797.0)" fill="#fff" stroke="#000" stroke-width="1.1"/>
<path d="M376.2,805.6 L388.4,812.1 L397.0,794.9 L384.8,788.4 Z" fill="#fff" stroke="none"/>
<line x1="376.2" y1="805.6" x2="388.4" y2="812.1" stroke="#000" stroke-width="1.1" />
<line x1="397.0" y1="794.9" x2="384.8" y2="788.4" stroke="#000" stroke-width="1.1" />
<ellipse cx="392.7" cy="803.5" rx="7.0" ry="9.6" transform="rotate(25 392.7 803.5)" fill="#fff" stroke="#000" stroke-width="1.1" />
<ellipse cx="393.0" cy="803.3" rx="4.8" ry="7.4" transform="rotate(25 393.0 803.3)" fill="#fff" stroke="#000" stroke-width="0.9"/>
<ellipse cx="378.8" cy="806.6" rx="0.7" ry="0.7" transform="rotate(0 378.8 806.6)" fill="#000"/>
<text transform="translate(401.1 765.4) scale(1.24 1)" font-size="12" font-weight="normal" text-anchor="start">11</text>
<line x1="404.5" y1="770" x2="392.7" y2="794.5" stroke="#000" stroke-width="0.9" />
<ellipse cx="409.0" cy="812.5" rx="7.5" ry="10.5" transform="rotate(25 409.0 812.5)" fill="#fff" stroke="#000" stroke-width="1.1"/>
<path d="M404.3,821.9 L417.0,828.4 L426.4,809.6 L413.7,803.1 Z" fill="#fff" stroke="none"/>
<line x1="404.3" y1="821.9" x2="417.0" y2="828.4" stroke="#000" stroke-width="1.1" />
<line x1="426.4" y1="809.6" x2="413.7" y2="803.1" stroke="#000" stroke-width="1.1" />
<ellipse cx="421.7" cy="819.0" rx="7.5" ry="10.5" transform="rotate(25 421.7 819.0)" fill="#fff" stroke="#000" stroke-width="1.1" />
<line x1="404.0" y1="821.7" x2="416.7" y2="828.2" stroke="#000" stroke-width="0.9" />
<line x1="403.1" y1="821.0" x2="415.8" y2="827.5" stroke="#000" stroke-width="0.9" />
<line x1="402.3" y1="820.1" x2="415.0" y2="826.6" stroke="#000" stroke-width="0.9" />
<line x1="401.7" y1="819.1" x2="414.4" y2="825.6" stroke="#000" stroke-width="0.9" />
<line x1="401.3" y1="817.9" x2="414.0" y2="824.4" stroke="#000" stroke-width="0.9" />
<line x1="401.0" y1="816.6" x2="413.7" y2="823.1" stroke="#000" stroke-width="0.9" />
<line x1="400.9" y1="815.2" x2="413.6" y2="821.7" stroke="#000" stroke-width="0.9" />
<line x1="401.0" y1="813.7" x2="413.7" y2="820.2" stroke="#000" stroke-width="0.9" />
<line x1="401.2" y1="812.3" x2="413.9" y2="818.8" stroke="#000" stroke-width="0.9" />
<line x1="401.6" y1="810.8" x2="414.3" y2="817.3" stroke="#000" stroke-width="0.9" />
<line x1="402.2" y1="809.3" x2="414.9" y2="815.8" stroke="#000" stroke-width="0.9" />
<line x1="402.9" y1="808.0" x2="415.6" y2="814.5" stroke="#000" stroke-width="0.9" />
<line x1="403.8" y1="806.7" x2="416.5" y2="813.2" stroke="#000" stroke-width="0.9" />
<line x1="404.8" y1="805.5" x2="417.5" y2="812.0" stroke="#000" stroke-width="0.9" />
<line x1="405.8" y1="804.6" x2="418.5" y2="811.1" stroke="#000" stroke-width="0.9" />
<line x1="407.0" y1="803.7" x2="419.7" y2="810.2" stroke="#000" stroke-width="0.9" />
<line x1="408.2" y1="803.1" x2="420.9" y2="809.6" stroke="#000" stroke-width="0.9" />
<line x1="409.4" y1="802.7" x2="422.1" y2="809.2" stroke="#000" stroke-width="0.9" />
<line x1="410.6" y1="802.5" x2="423.3" y2="809.0" stroke="#000" stroke-width="0.9" />
<line x1="411.7" y1="802.5" x2="424.4" y2="809.0" stroke="#000" stroke-width="0.9" />
<line x1="412.8" y1="802.7" x2="425.5" y2="809.2" stroke="#000" stroke-width="0.9" />
<line x1="413.8" y1="803.2" x2="426.5" y2="809.7" stroke="#000" stroke-width="0.9" />
<ellipse cx="421.7" cy="819.0" rx="7.5" ry="10.5" transform="rotate(25 421.7 819.0)" fill="#fff" stroke="#000" stroke-width="1.1"/>
<ellipse cx="422.0" cy="819.0" rx="5.6" ry="8.4" transform="rotate(25 422.0 819.0)" fill="none" stroke="#000" stroke-width="2.6" pathLength="48" stroke-dasharray="0.7 0.9"/>
<ellipse cx="422.2" cy="819.0" rx="4.3" ry="7.0" transform="rotate(25 422.2 819.0)" fill="#fff" stroke="#000" stroke-width="0.8"/>
<text transform="translate(431.1 784.1) scale(1.24 1)" font-size="12" font-weight="normal" text-anchor="start">12</text>
<line x1="435.3" y1="786.3" x2="419.9" y2="809.9" stroke="#000" stroke-width="0.9" />
<ellipse cx="437.6" cy="832.9" rx="10.6" ry="13.6" transform="rotate(25 437.6 832.9)" fill="#fff" stroke="#000" stroke-width="1.1"/>
<ellipse cx="438.7" cy="832.7" rx="10.1" ry="13.1" transform="rotate(25 438.7 832.7)" fill="#fff" stroke="#000" stroke-width="1.0"/>
<ellipse cx="439.5" cy="833.2" rx="5.6" ry="7.8" transform="rotate(25 439.5 833.2)" fill="#fff" stroke="#000" stroke-width="1.0"/>
<text transform="translate(458.9 799.9) scale(1.24 1)" font-size="12" font-weight="normal" text-anchor="start">13</text>
<line x1="462.5" y1="801.7" x2="445.3" y2="821.7" stroke="#000" stroke-width="0.9" />
<path d="M97.9,818.7 L110.8,797.9 L112.3,798.6 L114.3,803.2 L133.7,791.2 L137.4,792.9 L137.4,809.5 L115,821.6 L114.5,828.3 Z" fill="#fff" stroke="#000" stroke-width="1.1" stroke-linejoin="round"/>
<path d="M99.6,819.5 L112.3,798.6 M114.3,803.2 L114.5,821.2 M114.5,803.4 L134.8,792 L134.9,810.5" fill="none" stroke="#000" stroke-width="0.9"/>
<text transform="translate(113.6 819.6) rotate(-27.8) skewX(-34)" font-size="14.5" font-weight="bold" stroke="#000" stroke-width="0.4" textLength="24.5" lengthAdjust="spacingAndGlyphs">FWD</text>
<path d="M132.7,186 C131.5,183 134,181 141.8,181 C149,181 152,183 151.3,186 L152.7,190.7 L156.3,188.3 L166,186.5 L169.6,184.1 L176.9,185.3 L180.5,187.1 L184.2,188.3 L187.8,198 L191.4,205.3 L193.8,210.1 L192.6,212.5 L187.8,215 L186.6,218.6 L185.4,245 L186,252 L184.2,270.3 L179.3,288.4 L176.9,293.3 L172,305 L165,318 L156,333 L146,345 L135,351.7 L125.4,357.8 L118.1,362.6 L112,361.4 L108.4,356.6 L106,351.7 L100,344.5 L91.5,343.3 L84.2,339.6 L75.7,338.4 L70.9,336 L68.5,328.7 L67.3,314.2 L65.5,300 C61,296 59.5,288 59.8,278.4 C61,270 64.5,265 69.5,262.7 L76,258 L83,250 L88,243 L86.5,240 L89,236.5 L95,231 L101,226 L110,215 L120,203 L128,194 L131.5,190.5 Z" fill="#fff" stroke="#000" stroke-width="1.0" stroke-linejoin="round"/>
<path d="M132.7,186 L132.1,190.7 M151.3,186 L152.7,190.7" stroke="#000" fill="none" stroke-width="0.75" stroke-linejoin="round" stroke-linecap="round"/>
<path d="M132.1,190.7 C136,194 148,194.5 152.7,190.7" stroke="#000" fill="none" stroke-width="0.75" stroke-linejoin="round" stroke-linecap="round"/>
<path d="M178.1,194.4 L184.2,202.8 L187.8,215 M183,223.4 L183,245 L181.1,258.2 L176.9,281.2 L175.7,288.4 L170,300 L162,316 L153,330 L143,341 L133,348 L124,354 L117,357" stroke="#000" fill="none" stroke-width="0.75" stroke-linejoin="round" stroke-linecap="round"/>
<path d="M185.4,228 L183,228 M185.8,236 L183.2,236 M184.5,262 L182,262 M182,276 L179.3,275 M178,286 L176,285" stroke="#000" fill="none" stroke-width="0.75" stroke-linejoin="round" stroke-linecap="round"/>
<path d="M132.1,193.2 L120,207.7 L104,226 L96,236" stroke="#000" fill="none" stroke-width="0.75" stroke-linejoin="round" stroke-linecap="round"/>
<path d="M141.8,196.2 L120,225.8 L110,239 L102,250" stroke="#000" fill="none" stroke-width="0.75" stroke-linejoin="round" stroke-linecap="round"/>
<path d="M136,195 L114,222 L100,240" stroke="#000" fill="none" stroke-width="0.75" stroke-linejoin="round" stroke-linecap="round"/>
<path d="M126.5,194 L118,204" stroke="#000" fill="none" stroke-width="0.75" stroke-linejoin="round" stroke-linecap="round"/>
<path d="M88,236 L86,232 L92,229 L97,229" stroke="#000" fill="none" stroke-width="0.75" stroke-linejoin="round" stroke-linecap="round"/>
<path d="M145.4,205.3 C150,200 156,201 161,199 C166,196.5 171,197.5 176.9,196.2" stroke="#000" fill="none" stroke-width="0.75" stroke-linejoin="round" stroke-linecap="round"/>
<path d="M144,210.5 C150,206 157,207 163,205 C168,203 173,203.5 179,202.5" stroke="#000" fill="none" stroke-width="0.75" stroke-linejoin="round" stroke-linecap="round"/>
<path d="M143,215 C150,211.5 158,212 165,210.5 C171,209 176,209.5 181,209" stroke="#000" fill="none" stroke-width="0.75" stroke-linejoin="round" stroke-linecap="round"/>
<path d="M147,200 L152.7,194 L160,192.5 L170,192 L178.1,194.4" stroke="#000" fill="none" stroke-width="0.75" stroke-linejoin="round" stroke-linecap="round"/>
<path d="M156.3,216.2 L155.1,245 C154.5,258 150,270 140.6,280" stroke="#000" fill="none" stroke-width="0.75" stroke-linejoin="round" stroke-linecap="round"/>
<path d="M162.4,216.2 L162.4,245 C162,258 158,270 150.3,280" stroke="#000" fill="none" stroke-width="0.75" stroke-linejoin="round" stroke-linecap="round"/>
<path d="M168.4,215 L168.4,245 C168,260 165,272 160,282" stroke="#000" fill="none" stroke-width="0.75" stroke-linejoin="round" stroke-linecap="round"/>
<path d="M173.3,215 L173.3,245 C173,262 171,275 166,286" stroke="#000" fill="none" stroke-width="0.75" stroke-linejoin="round" stroke-linecap="round"/>
<path d="M178.5,212 L178.5,250 C178,265 176,278 172,290" stroke="#000" fill="none" stroke-width="0.75" stroke-linejoin="round" stroke-linecap="round"/>
<path d="M143.5,236 C152,239 162,241 172,242.5 C176.5,243 177.5,248 174,250.5 C164,249.5 153,247.5 142.5,244.5" stroke="#000" fill="none" stroke-width="0.75" stroke-linejoin="round" stroke-linecap="round"/>
<path d="M166,281.2 L173.3,272.7 L174.5,274.5 L167.5,283 Z" stroke="#000" fill="none" stroke-width="0.75" stroke-linejoin="round" stroke-linecap="round"/>
<path d="M69.5,262.7 C66,270 65,282 66.5,295" stroke="#000" fill="none" stroke-width="0.75" stroke-linejoin="round" stroke-linecap="round"/>
<path d="M69.5,262.7 L91.3,254.2 L96,258 L74,267.5 Z" stroke="#000" fill="none" stroke-width="0.75" stroke-linejoin="round" stroke-linecap="round"/>
<path d="M70.7,263.9 L72,300 M76.8,270 L78,305" stroke="#000" fill="none" stroke-width="0.75" stroke-linejoin="round" stroke-linecap="round"/>
<path d="M88.9,271.2 L105.8,279.6 M86.5,276 L103.5,284.5" stroke="#000" fill="none" stroke-width="0.75" stroke-linejoin="round" stroke-linecap="round"/>
<path d="M84,252 C90,256 96,262 98,270 L99,285" stroke="#000" fill="none" stroke-width="0.75" stroke-linejoin="round" stroke-linecap="round"/>
<path d="M96,250 L106,256 L112,266 L110,280" stroke="#000" fill="none" stroke-width="0.75" stroke-linejoin="round" stroke-linecap="round"/>
<path d="M112,240 L120,248 L122,260" stroke="#000" fill="none" stroke-width="0.75" stroke-linejoin="round" stroke-linecap="round"/>
<path d="M100,238 L108,246 L113,256" stroke="#000" fill="none" stroke-width="0.75" stroke-linejoin="round" stroke-linecap="round"/>
<path d="M122,270 C126,276 130,282 133,290 M126,262 C132,268 138,278 141,288" stroke="#000" fill="none" stroke-width="0.75" stroke-linejoin="round" stroke-linecap="round"/>
<path d="M108,285 C112,288 116,292 119,298" stroke="#000" fill="none" stroke-width="0.75" stroke-linejoin="round" stroke-linecap="round"/>
<path d="M75.7,323.9 C88,318 100,314 110.8,314.2 C122,314 132,315.5 140,316.6" stroke="#000" fill="none" stroke-width="0.75" stroke-linejoin="round" stroke-linecap="round"/>
<path d="M78,330 C90,324 102,320 114,320 C124,320 132,322 138,323" stroke="#000" fill="none" stroke-width="0.75" stroke-linejoin="round" stroke-linecap="round"/>
<path d="M70.9,298 C80,296 90,295 100,296 C112,297 124,298 136,296 C146,294 152,291 158,288" stroke="#000" fill="none" stroke-width="0.75" stroke-linejoin="round" stroke-linecap="round"/>
<path d="M72,304 C84,302 96,302 108,303" stroke="#000" fill="none" stroke-width="0.75" stroke-linejoin="round" stroke-linecap="round"/>
<path d="M69.7,326.3 L75.7,333.6 L86,336 L100,340.8 L108,346 L116.9,355.4" stroke="#000" fill="none" stroke-width="0.75" stroke-linejoin="round" stroke-linecap="round"/>
<path d="M78.2,302.1 L88,318 L100,340.8" stroke="#000" fill="none" stroke-width="0.75" stroke-linejoin="round" stroke-linecap="round"/>
<path d="M91.5,302.1 L100,318 L110.8,343.3" stroke="#000" fill="none" stroke-width="0.75" stroke-linejoin="round" stroke-linecap="round"/>
<path d="M104,305 L112,322 L118,340" stroke="#000" fill="none" stroke-width="0.75" stroke-linejoin="round" stroke-linecap="round"/>
<path d="M120,326 L128,340 L132,350" stroke="#000" fill="none" stroke-width="0.75" stroke-linejoin="round" stroke-linecap="round"/>
<path d="M126,322 C131,330 136,338 138,346" stroke="#000" fill="none" stroke-width="0.75" stroke-linejoin="round" stroke-linecap="round"/>
<path d="M140,300 L148,292 M150,305 L156,298 L160,292" stroke="#000" fill="none" stroke-width="0.75" stroke-linejoin="round" stroke-linecap="round"/>
<path d="M118,340 C124,338 130,337 136,336" stroke="#000" fill="none" stroke-width="0.75" stroke-linejoin="round" stroke-linecap="round"/>
<path d="M108,326 C114,327 122,329 128,330" stroke="#000" fill="none" stroke-width="0.75" stroke-linejoin="round" stroke-linecap="round"/>
<path d="M160,300 L152,312 M165,304 L158,316" stroke="#000" fill="none" stroke-width="0.75" stroke-linejoin="round" stroke-linecap="round"/>
<path d="M132,300 L137,310 L140,318" stroke="#000" fill="none" stroke-width="0.75" stroke-linejoin="round" stroke-linecap="round"/>
<path d="M96,232 C100,236 104,240 106,246" stroke="#000" fill="none" stroke-width="0.75" stroke-linejoin="round" stroke-linecap="round"/>
<path d="M142.7,198.1 L104.6,231" stroke="#000" fill="none" stroke-width="0.75" stroke-linejoin="round" stroke-linecap="round"/>
<path d="M144.9,205.5 L111,234.1" stroke="#000" fill="none" stroke-width="0.75" stroke-linejoin="round" stroke-linecap="round"/>
<path d="M117.3,233 L134.3,239.4 L132.2,250 L119.4,247.9 Z" stroke="#000" fill="none" stroke-width="0.75" stroke-linejoin="round" stroke-linecap="round"/>
<path d="M111,291.8 C118,289 124,288.6 127.9,288.6 C138,288.5 146,289 153.3,289.7 C158,290.5 162,291.5 164,293.9 L161.8,306.6" stroke="#000" fill="none" stroke-width="0.75" stroke-linejoin="round" stroke-linecap="round"/>
<path d="M113,299.2 C125,298 140,297.5 151.2,298.1 C155,299 157,302 157.6,305.6" stroke="#000" fill="none" stroke-width="0.75" stroke-linejoin="round" stroke-linecap="round"/>
<path d="M122,305 L128,304 M124,312.5 L130,311.5" stroke="#000" fill="none" stroke-width="0.75" stroke-linejoin="round" stroke-linecap="round"/>
<path d="M111,336.3 L127.9,353.2" stroke="#000" fill="none" stroke-width="0.75" stroke-linejoin="round" stroke-linecap="round"/>
<path d="M127.9,332 L136.4,353.2" stroke="#000" fill="none" stroke-width="0.75" stroke-linejoin="round" stroke-linecap="round"/>
<path d="M70.7,302.4 L70.7,329.9" stroke="#000" fill="none" stroke-width="0.75" stroke-linejoin="round" stroke-linecap="round"/>
<path d="M78.1,277 L79.2,329.9" stroke="#000" fill="none" stroke-width="0.75" stroke-linejoin="round" stroke-linecap="round"/>
<path d="M70.7,260 L85.5,264.2 L95,262" stroke="#000" fill="none" stroke-width="0.75" stroke-linejoin="round" stroke-linecap="round"/>
<path d="M89.8,272.7 L106.7,281.2" stroke="#000" fill="none" stroke-width="0.75" stroke-linejoin="round" stroke-linecap="round"/>
<path d="M85.5,264.2 C88,270 90,276 90,284" stroke="#000" fill="none" stroke-width="0.75" stroke-linejoin="round" stroke-linecap="round"/>
<path d="M138.5,313 C134,318 134,328 140,333 C146,337 154,336 157.6,330" stroke="#000" fill="none" stroke-width="0.75" stroke-linejoin="round" stroke-linecap="round"/>
<path d="M100,250 L104,262 L100,272" stroke="#000" fill="none" stroke-width="0.75" stroke-linejoin="round" stroke-linecap="round"/>
<path d="M114,252 L118,262 L126,266" stroke="#000" fill="none" stroke-width="0.75" stroke-linejoin="round" stroke-linecap="round"/>
<path d="M130,270 L134,282 L131,292" stroke="#000" fill="none" stroke-width="0.75" stroke-linejoin="round" stroke-linecap="round"/>
<path d="M144,264 L148,276" stroke="#000" fill="none" stroke-width="0.75" stroke-linejoin="round" stroke-linecap="round"/>
<path d="M160,250 L156,262" stroke="#000" fill="none" stroke-width="0.75" stroke-linejoin="round" stroke-linecap="round"/>
<path d="M150,302 L146,314 L142,320" stroke="#000" fill="none" stroke-width="0.75" stroke-linejoin="round" stroke-linecap="round"/>
<path d="M88,316 L94,330 L90,338" stroke="#000" fill="none" stroke-width="0.75" stroke-linejoin="round" stroke-linecap="round"/>
<path d="M104,318 L110,330 L108,342" stroke="#000" fill="none" stroke-width="0.75" stroke-linejoin="round" stroke-linecap="round"/>
<path d="M140,340 L146,332 L156,326" stroke="#000" fill="none" stroke-width="0.75" stroke-linejoin="round" stroke-linecap="round"/>
<path d="M126,196 L130,200 L128,206" stroke="#000" fill="none" stroke-width="0.75" stroke-linejoin="round" stroke-linecap="round"/>
<path d="M118,210 L124,214" stroke="#000" fill="none" stroke-width="0.75" stroke-linejoin="round" stroke-linecap="round"/>
<path d="M110,222 L116,226" stroke="#000" fill="none" stroke-width="0.75" stroke-linejoin="round" stroke-linecap="round"/>
<path d="M101,231 C104,236 106,242 105,248" stroke="#000" fill="none" stroke-width="0.75" stroke-linejoin="round" stroke-linecap="round"/>
<path d="M92,240 L98,246 L98,254" stroke="#000" fill="none" stroke-width="0.75" stroke-linejoin="round" stroke-linecap="round"/>
<path d="M150,196 C155,192 162,191 168,190" stroke="#000" fill="none" stroke-width="0.75" stroke-linejoin="round" stroke-linecap="round"/>
<path d="M171,190 L176,196 L178,204" stroke="#000" fill="none" stroke-width="0.75" stroke-linejoin="round" stroke-linecap="round"/>
<path d="M186.5,193 L183,198 L184,206" stroke="#000" fill="none" stroke-width="0.75" stroke-linejoin="round" stroke-linecap="round"/>
<path d="M135,226 C138,230 142,232 146,232" stroke="#000" fill="none" stroke-width="0.75" stroke-linejoin="round" stroke-linecap="round"/>
<path d="M126,238 L124,250 L128,256" stroke="#000" fill="none" stroke-width="0.75" stroke-linejoin="round" stroke-linecap="round"/>
<path d="M140,266 C146,270 150,276 152,284" stroke="#000" fill="none" stroke-width="0.75" stroke-linejoin="round" stroke-linecap="round"/>
<path d="M96,268 L98,280 L96,292" stroke="#000" fill="none" stroke-width="0.75" stroke-linejoin="round" stroke-linecap="round"/>
<path d="M82,280 L84,296" stroke="#000" fill="none" stroke-width="0.75" stroke-linejoin="round" stroke-linecap="round"/>
<path d="M74,306 L82,312 L88,322" stroke="#000" fill="none" stroke-width="0.75" stroke-linejoin="round" stroke-linecap="round"/>
<path d="M115,330 L120,342" stroke="#000" fill="none" stroke-width="0.75" stroke-linejoin="round" stroke-linecap="round"/>
<path d="M98,320 L102,332 L98,340" stroke="#000" fill="none" stroke-width="0.75" stroke-linejoin="round" stroke-linecap="round"/>
<path d="M136,300 C140,304 142,310 142,316" stroke="#000" fill="none" stroke-width="0.75" stroke-linejoin="round" stroke-linecap="round"/>
<path d="M156,274 L162,282 L166,290" stroke="#000" fill="none" stroke-width="0.75" stroke-linejoin="round" stroke-linecap="round"/>
<path d="M166,250 L170,258" stroke="#000" fill="none" stroke-width="0.75" stroke-linejoin="round" stroke-linecap="round"/>
<path d="M150,250 L152,262 L148,270" stroke="#000" fill="none" stroke-width="0.75" stroke-linejoin="round" stroke-linecap="round"/>
<path d="M92,310 C100,314 108,318 112,326" stroke="#000" fill="none" stroke-width="0.75" stroke-linejoin="round" stroke-linecap="round"/>
<path d="M120,288 C128,290 136,292 142,296" stroke="#000" fill="none" stroke-width="0.75" stroke-linejoin="round" stroke-linecap="round"/>
<path d="M155.1,250 C153,262 146,272 138,279" stroke="#000" fill="none" stroke-width="0.8" stroke-dasharray="3 1.2" stroke-linecap="round"/>
<path d="M150,222 C148,236 144,246 138,254" stroke="#000" fill="none" stroke-width="0.8" stroke-dasharray="3 1.2" stroke-linecap="round"/>
<path d="M170,252 C167,266 161,276 152,285" stroke="#000" fill="none" stroke-width="0.8" stroke-dasharray="3 1.2" stroke-linecap="round"/>
<ellipse cx="141.8" cy="184.6" rx="9.2" ry="3.8" transform="rotate(8 141.8 184.6)" fill="#fff" stroke="#000" stroke-width="0.9"/>
<ellipse cx="142.2" cy="184.4" rx="6.4" ry="2.4" transform="rotate(8 142.2 184.4)" fill="none" stroke="#000" stroke-width="0.7"/>
<circle cx="149.7" cy="223.4" r="3.0" fill="#fff" stroke="#000" stroke-width="0.9"/>
<circle cx="150.0" cy="223.6" r="1.5" fill="none" stroke="#000" stroke-width="0.75"/>
<circle cx="129.8" cy="244.5" r="3.8" fill="#fff" stroke="#000" stroke-width="0.9"/>
<circle cx="130.10000000000002" cy="244.7" r="1.9" fill="none" stroke="#000" stroke-width="0.75"/>
<circle cx="138.2" cy="260" r="2.8" fill="#fff" stroke="#000" stroke-width="0.9"/>
<circle cx="138.5" cy="260.2" r="1.4" fill="none" stroke="#000" stroke-width="0.75"/>
<circle cx="181.7" cy="190.7" r="2.8" fill="#fff" stroke="#000" stroke-width="0.9"/>
<circle cx="182.0" cy="190.89999999999998" r="1.4" fill="none" stroke="#000" stroke-width="0.75"/>
<circle cx="181.7" cy="253.3" r="2.2" fill="#fff" stroke="#000" stroke-width="0.9"/>
<circle cx="182.0" cy="253.5" r="1.1" fill="none" stroke="#000" stroke-width="0.75"/>
<circle cx="175.1" cy="299.3" r="2.2" fill="#fff" stroke="#000" stroke-width="0.9"/>
<circle cx="175.4" cy="299.5" r="1.1" fill="none" stroke="#000" stroke-width="0.75"/>
<circle cx="77" cy="334.8" r="1.9" fill="#fff" stroke="#000" stroke-width="0.9"/>
<circle cx="77.3" cy="335.0" r="0.9" fill="none" stroke="#000" stroke-width="0.75"/>
<circle cx="98.1" cy="342.7" r="1.9" fill="#fff" stroke="#000" stroke-width="0.9"/>
<circle cx="98.39999999999999" cy="342.9" r="0.9" fill="none" stroke="#000" stroke-width="0.75"/>
<circle cx="118.1" cy="360.2" r="2.2" fill="#fff" stroke="#000" stroke-width="0.9"/>
<circle cx="118.39999999999999" cy="360.4" r="1.1" fill="none" stroke="#000" stroke-width="0.75"/>
<circle cx="125.4" cy="355.4" r="2.0" fill="#fff" stroke="#000" stroke-width="0.9"/>
<circle cx="125.7" cy="355.59999999999997" r="1.0" fill="none" stroke="#000" stroke-width="0.75"/>
<circle cx="111" cy="358" r="2.6" fill="#fff" stroke="#000" stroke-width="0.9"/>
<circle cx="111.3" cy="358.2" r="1.3" fill="none" stroke="#000" stroke-width="0.75"/>
<circle cx="147.5" cy="343.7" r="1.9" fill="#fff" stroke="#000" stroke-width="0.9"/>
<circle cx="147.8" cy="343.9" r="0.9" fill="none" stroke="#000" stroke-width="0.75"/>
<circle cx="161.3" cy="306.4" r="2.0" fill="#fff" stroke="#000" stroke-width="0.9"/>
<circle cx="161.60000000000002" cy="306.59999999999997" r="1.0" fill="none" stroke="#000" stroke-width="0.75"/>
<circle cx="126.6" cy="309.4" r="3.0" fill="#fff" stroke="#000" stroke-width="0.9"/>
<circle cx="126.89999999999999" cy="309.59999999999997" r="1.5" fill="none" stroke="#000" stroke-width="0.75"/>
<circle cx="105.2" cy="279" r="2.4" fill="#fff" stroke="#000" stroke-width="0.9"/>
<circle cx="105.5" cy="279.2" r="1.2" fill="none" stroke="#000" stroke-width="0.75"/>
<circle cx="88.5" cy="290" r="2.4" fill="#fff" stroke="#000" stroke-width="0.9"/>
<circle cx="88.8" cy="290.2" r="1.2" fill="none" stroke="#000" stroke-width="0.75"/>
<circle cx="80.6" cy="308.2" r="2.4" fill="#fff" stroke="#000" stroke-width="0.9"/>
<circle cx="80.89999999999999" cy="308.4" r="1.2" fill="none" stroke="#000" stroke-width="0.75"/>
<path d="M144,219 L149,218.5 M146,228 L151,227.5" stroke="#000" fill="none" stroke-width="0.75" stroke-linejoin="round" stroke-linecap="round"/>
<path d="M122,241 L127,240 M124,249 L130,248" stroke="#000" fill="none" stroke-width="0.75" stroke-linejoin="round" stroke-linecap="round"/>
<path d="M137.8,331.4 L137.6,331.5 L137.4,331.5 L137.2,331.6 L137.0,331.6 L136.9,331.6 L136.8,331.6 L136.7,331.5 L136.7,331.5 L136.7,331.3 L136.7,331.2 L136.8,331.1 L136.9,330.9 L137.0,330.7 L137.1,330.5 L137.3,330.3 L137.4,330.1 L137.6,329.9 L137.7,329.7 L137.8,329.6 L137.9,329.4 L137.9,329.3 L138.0,329.2 L137.9,329.1 L137.9,329.1 L137.8,329.0 L137.6,329.0 L137.5,329.1 L137.3,329.1 L137.1,329.1 L136.9,329.1 L136.7,329.1 L136.5,329.2 L136.3,329.2 L136.1,329.2 L136.0,329.1 L135.9,329.1 L135.9,329.0 L135.8,328.9 L135.9,328.8 L135.9,328.7 L136.0,328.5 L136.1,328.4 L136.3,328.2 L136.4,328.1 L136.6,327.9 L136.8,327.7 L137.0,327.6 L137.1,327.4 L137.2,327.3 L137.3,327.1 L137.4,327.0 L137.4,326.9 L137.4,326.9 L137.4,326.8 L137.3,326.7 L137.2,326.7 L137.0,326.7 L136.8,326.6 L136.6,326.6 L136.4,326.6 L136.2,326.6 L136.1,326.5 L135.9,326.5 L135.7,326.5 L135.6,326.4 L135.5,326.3 L135.5,326.2 L135.5,326.1 L135.5,326.0 L135.6,325.9 L135.7,325.8 L135.9,325.7 L136.0,325.5 L136.2,325.4 L136.4,325.3 L136.6,325.1 L136.8,325.0 L137.0,324.9 L137.1,324.8 L137.2,324.7 L137.3,324.6 L137.3,324.5 L137.4,324.4 L137.3,324.3 L137.2,324.3 L137.1,324.2 L137.0,324.1 L136.8,324.1 L136.7,324.0 L136.5,323.9 L136.3,323.8 L136.1,323.8 L136.0,323.7 L135.8,323.6 L135.7,323.5 L135.7,323.4 L135.7,323.3 L135.7,323.2 L135.7,323.1 L135.8,323.0 L135.9,322.9 L136.1,322.8 L136.3,322.7 L136.5,322.6 L136.7,322.6 L136.9,322.5 L137.1,322.4 L137.3,322.3 L137.4,322.2 L137.6,322.2 L137.6,322.1 L137.7,322.0 L137.7,321.9 L137.7,321.8 L137.7,321.8 L137.6,321.7 L137.5,321.5 L137.3,321.4 L137.2,321.3 L137.0,321.2 L136.8,321.1 L136.7,321.0 L136.6,320.8 L136.5,320.7 L136.4,320.6 L136.3,320.5 L136.3,320.4 L136.4,320.3 L136.4,320.2 L136.5,320.1 L136.7,320.0 L136.8,320.0 L137.0,319.9 L137.2,319.9 L137.4,319.9 L137.6,319.8 L137.8,319.8 L138.0,319.8 L138.2,319.7 L138.3,319.7 L138.4,319.6 L138.5,319.6 L138.5,319.5 L138.5,319.4 L138.5,319.3 L138.4,319.2 L138.3,319.0 L138.2,318.9 L138.1,318.7 L138.0,318.6 L137.9,318.4 L137.7,318.2 L137.6,318.1 L137.6,317.9 L137.5,317.8 L137.5,317.7 L137.5,317.6 L137.6,317.5 L137.6,317.4 L137.7,317.3 L137.9,317.3 L138.1,317.3 L138.2,317.3 L138.4,317.3 L138.6,317.3 L138.8,317.3 L139.0,317.3 L139.2,317.4 L139.4,317.4 L139.5,317.3 L139.6,317.3 L139.7,317.3 L139.7,317.2 L139.7,317.1 L139.7,317.0 L139.7,316.8 L139.6,316.7 L139.6,316.5 L139.5,316.3 L139.4,316.1 L139.3,315.9 L139.2,315.7 L139.1,315.5 L139.1,315.4 L139.1,315.2 L139.1,315.1 L139.1,315.0 L139.2,314.9 L139.3,314.8 L139.4,314.8 L139.5,314.8 L139.7,314.8 L139.8,314.9 L140.0,314.9 L140.2,315.0 L140.4,315.1 L140.6,315.1 L140.7,315.2 L140.9,315.2 L141.0,315.2 L141.1,315.2 L141.2,315.2 L141.3,315.1 L141.3,315.1 L141.3,314.9 L141.3,314.8 L141.3,314.6 L141.2,314.4 L141.2,314.2 L141.1,314.0 L141.1,313.7 L141.0,313.5 L141.0,313.3 L141.0,313.1 L141.0,313.0 L141.0,312.8 L141.1,312.7 L141.2,312.7 L141.3,312.6 L141.4,312.6 L141.5,312.7 L141.6,312.7 L141.8,312.8 L141.9,312.9 L142.1,313.0 L142.3,313.2 L142.4,313.3 L142.6,313.4 L142.7,313.4 L142.8,313.5 L142.9,313.5 L143.0,313.5 L143.1,313.5 L143.1,313.4 L143.1,313.2 L143.2,313.1 L143.2,312.9 L143.2,312.7 L143.2,312.5 L143.2,312.2 L143.2,312.0 L143.2,311.7 L143.2,311.5 L143.2,311.3 L143.2,311.2 L143.3,311.0 L143.3,311.0 L143.4,310.9 L143.5,310.9 L143.6,310.9 L143.7,311.0 L143.9,311.1 L144.0,311.2 L144.1,311.4 L144.2,311.5 L144.4,311.7 L144.5,311.8 L144.6,312.0 L144.7,312.1 L144.8,312.2 L144.9,312.2 L145.0,312.2 L145.1,312.2 L145.1,312.1 L145.2,312.0 L145.2,311.8 L145.3,311.6 L145.3,311.4 L145.3,311.2 L145.4,310.9 L145.4,310.7 L145.5,310.5 L145.5,310.2 L145.6,310.1 L145.6,309.9 L145.7,309.8 L145.8,309.7 L145.9,309.7 L145.9,309.7 L146.0,309.7 L146.1,309.8 L146.2,310.0 L146.3,310.1 L146.4,310.3 L146.5,310.5 L146.6,310.7 L146.7,310.9 L146.8,311.0 L146.9,311.2 L147.0,311.3 L147.0,311.4 L147.1,311.4 L147.2,311.4 L147.2,311.3 L147.3,311.2 L147.4,311.0 L147.5,310.9 L147.5,310.7 L147.6,310.4 L147.7,310.2 L147.8,309.9 L147.8,309.7 L147.9,309.5 L148.0,309.3 L148.1,309.2 L148.2,309.1 L148.3,309.0 L148.4,309.0 L148.4,309.0 L148.5,309.1 L148.6,309.2 L148.7,309.4 L148.7,309.6 L148.8,309.8 L148.8,310.0 L148.9,310.2 L148.9,310.4 L149.0,310.6 L149.0,310.8 L149.1,310.9 L149.2,311.0 L149.2,311.1 L149.3,311.1 L149.4,311.0 L149.5,310.9 L149.5,310.8 L149.6,310.6 L149.8,310.4 L149.9,310.2 L150.0,310.0 L150.1,309.8 L150.2,309.6 L150.3,309.4 L150.5,309.2 L150.6,309.1 L150.7,309.0 L150.8,309.0 L150.8,309.0 L150.9,309.0 L151.0,309.1 L151.0,309.3 L151.0,309.4 L151.1,309.6 L151.1,309.9 L151.1,310.1 L151.1,310.3 L151.1,310.6 L151.1,310.8 L151.2,311.0 L151.2,311.1 L151.2,311.2 L151.3,311.3 L151.3,311.3 L151.4,311.3 L151.5,311.2 L151.6,311.1 L151.7,310.9 L151.9,310.8 L152.0,310.6 L152.2,310.4 L152.3,310.2 L152.5,310.0 L152.6,309.8 L152.8,309.7 L152.9,309.6 L153.0,309.5 L153.1,309.5 L153.2,309.5 L153.2,309.6 L153.3,309.7 L153.3,309.9 L153.3,310.1 L153.3,310.3 L153.2,310.5 L153.2,310.8 L153.2,311.0 L153.1,311.2 L153.1,311.5 L153.1,311.6 L153.1,311.8 L153.1,311.9 L153.2,312.0 L153.2,312.0 L153.3,312.0 L153.4,312.0 L153.5,311.9 L153.7,311.8 L153.8,311.6 L154.0,311.5 L154.2,311.3 L154.3,311.1 L154.5,311.0 L154.7,310.9 L154.8,310.7 L155.0,310.7 L155.1,310.6 L155.2,310.6 L155.2,310.7 L155.3,310.8 L155.3,310.9" fill="none" stroke="#000" stroke-width="0.8"/>
<ellipse cx="145.5" cy="321.5" rx="8.4" ry="11.4" transform="rotate(25 145.5 321.5)" fill="#fff" stroke="#000" stroke-width="0.7"/>
<ellipse cx="146.8" cy="322.4" rx="8.4" ry="11.4" transform="rotate(25 146.8 322.4)" fill="#fff" stroke="#000" stroke-width="0.7"/>
<ellipse cx="148.1" cy="323.3" rx="8.4" ry="11.4" transform="rotate(25 148.1 323.3)" fill="#fff" stroke="#000" stroke-width="0.7"/>
<ellipse cx="149.5" cy="324.5" rx="8.6" ry="11.6" transform="rotate(25 149.5 324.5)" fill="#fff" stroke="#000" stroke-width="0.9"/>
<ellipse cx="150.0" cy="324.5" rx="5.4" ry="7.4" transform="rotate(25 150.0 324.5)" fill="none" stroke="#000" stroke-width="2.0" pathLength="40" stroke-dasharray="0.6 0.8"/>
<ellipse cx="150.0" cy="324.5" rx="6.3" ry="8.4" transform="rotate(25 150.0 324.5)" fill="none" stroke="#000" stroke-width="0.7"/>
<ellipse cx="150.2" cy="324.5" rx="4.2" ry="6.0" transform="rotate(25 150.2 324.5)" fill="#fff" stroke="#000" stroke-width="0.7"/>
<line x1="138.2" y1="260" x2="175.7" y2="290.8" stroke="#000" stroke-width="0.8" />
<line x1="178" y1="292" x2="205" y2="305" stroke="#000" stroke-width="0.9" stroke-dasharray="10 2 1.5 2"/>
</svg>
</body></html>
